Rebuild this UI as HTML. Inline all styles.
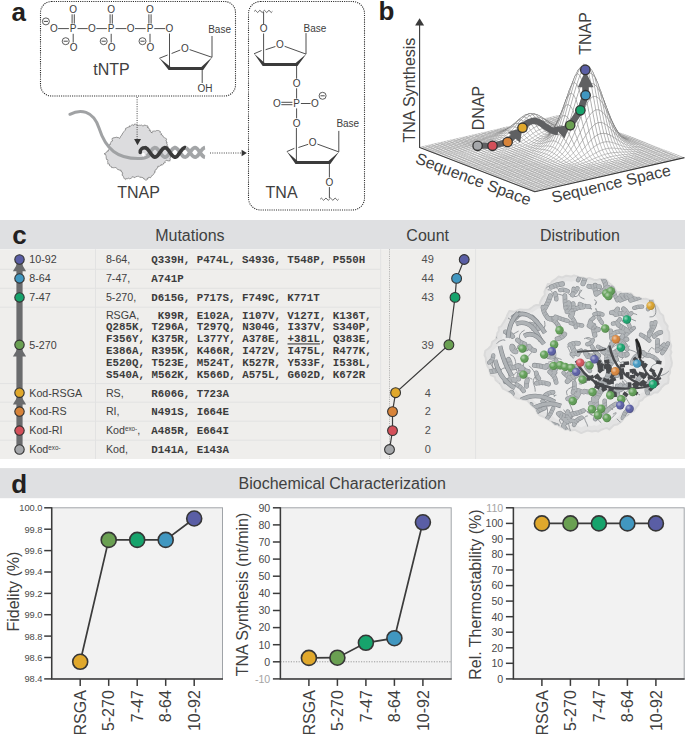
<!DOCTYPE html><html><head><meta charset="utf-8"><style>html,body{margin:0;padding:0;background:#fff;width:685px;height:734px;overflow:hidden}svg{display:block}text{font-family:"Liberation Sans",sans-serif}</style></head><body><svg width="685" height="734" viewBox="0 0 685 734"><text x="11.5" y="20.6" font-size="26" font-weight="bold" fill="#231f20">a</text>
<rect x="40.5" y="1.5" width="195" height="94.5" rx="11" fill="none" stroke="#2a2a2a" stroke-width="1.1" stroke-dasharray="1.1 1.1"/>
<rect x="248.5" y="1.5" width="116" height="208.5" rx="12" fill="none" stroke="#2a2a2a" stroke-width="1.1" stroke-dasharray="1.1 1.1"/>
<circle cx="45.9" cy="21.4" r="3.5" fill="none" stroke="#404040" stroke-width="0.85"/><line x1="43.80" y1="21.4" x2="48.00" y2="21.4" stroke="#404040" stroke-width="0.95"/>
<text x="53.8" y="32.2" font-size="10" text-anchor="middle" fill="#404040">O</text>
<text x="73.2" y="32.2" font-size="10" text-anchor="middle" fill="#404040">P</text>
<text x="92.0" y="32.2" font-size="10" text-anchor="middle" fill="#404040">O</text>
<text x="111.2" y="32.2" font-size="10" text-anchor="middle" fill="#404040">P</text>
<text x="130.7" y="32.2" font-size="10" text-anchor="middle" fill="#404040">O</text>
<text x="150.0" y="32.2" font-size="10" text-anchor="middle" fill="#404040">P</text>
<text x="169.5" y="32.2" font-size="10" text-anchor="middle" fill="#404040">O</text>
<line x1="58.1" y1="28.6" x2="68.9" y2="28.6" stroke="#3b3b3b" stroke-width="0.9"/>
<line x1="77.5" y1="28.6" x2="87.7" y2="28.6" stroke="#3b3b3b" stroke-width="0.9"/>
<line x1="96.3" y1="28.6" x2="106.9" y2="28.6" stroke="#3b3b3b" stroke-width="0.9"/>
<line x1="115.5" y1="28.6" x2="126.4" y2="28.6" stroke="#3b3b3b" stroke-width="0.9"/>
<line x1="135.0" y1="28.6" x2="145.7" y2="28.6" stroke="#3b3b3b" stroke-width="0.9"/>
<line x1="154.3" y1="28.6" x2="165.2" y2="28.6" stroke="#3b3b3b" stroke-width="0.9"/>
<text x="73.2" y="13.2" font-size="10" text-anchor="middle" fill="#404040">O</text>
<line x1="72.1" y1="14.3" x2="72.1" y2="23.6" stroke="#3b3b3b" stroke-width="0.9"/>
<line x1="74.3" y1="14.3" x2="74.3" y2="23.6" stroke="#3b3b3b" stroke-width="0.9"/>
<line x1="73.2" y1="33.8" x2="73.2" y2="42.6" stroke="#3b3b3b" stroke-width="0.9"/>
<text x="73.60000000000001" y="51.3" font-size="10" text-anchor="middle" fill="#404040">O</text>
<circle cx="65.7" cy="41.2" r="3.5" fill="none" stroke="#404040" stroke-width="0.85"/><line x1="63.60" y1="41.2" x2="67.80" y2="41.2" stroke="#404040" stroke-width="0.95"/>
<text x="111.2" y="13.2" font-size="10" text-anchor="middle" fill="#404040">O</text>
<line x1="110.1" y1="14.3" x2="110.1" y2="23.6" stroke="#3b3b3b" stroke-width="0.9"/>
<line x1="112.3" y1="14.3" x2="112.3" y2="23.6" stroke="#3b3b3b" stroke-width="0.9"/>
<line x1="111.2" y1="33.8" x2="111.2" y2="42.6" stroke="#3b3b3b" stroke-width="0.9"/>
<text x="111.60000000000001" y="51.3" font-size="10" text-anchor="middle" fill="#404040">O</text>
<circle cx="103.7" cy="41.2" r="3.5" fill="none" stroke="#404040" stroke-width="0.85"/><line x1="101.60" y1="41.2" x2="105.80" y2="41.2" stroke="#404040" stroke-width="0.95"/>
<text x="150.0" y="13.2" font-size="10" text-anchor="middle" fill="#404040">O</text>
<line x1="148.9" y1="14.3" x2="148.9" y2="23.6" stroke="#3b3b3b" stroke-width="0.9"/>
<line x1="151.1" y1="14.3" x2="151.1" y2="23.6" stroke="#3b3b3b" stroke-width="0.9"/>
<line x1="150.0" y1="33.8" x2="150.0" y2="42.6" stroke="#3b3b3b" stroke-width="0.9"/>
<text x="150.4" y="51.3" font-size="10" text-anchor="middle" fill="#404040">O</text>
<circle cx="142.5" cy="41.2" r="3.5" fill="none" stroke="#404040" stroke-width="0.85"/><line x1="140.40" y1="41.2" x2="144.60" y2="41.2" stroke="#404040" stroke-width="0.95"/>
<line x1="169.5" y1="33.5" x2="169.5" y2="68" stroke="#3b3b3b" stroke-width="0.9"/>
<line x1="159.3" y1="58.3" x2="167.6" y2="55.0" stroke="#3b3b3b" stroke-width="0.9"/>
<line x1="171.6" y1="53.5" x2="180.3" y2="50.0" stroke="#3b3b3b" stroke-width="0.9"/>
<text x="184.8" y="51.6" font-size="10" text-anchor="middle" fill="#404040">O</text>
<line x1="189.6" y1="49.6" x2="212" y2="57.3" stroke="#3b3b3b" stroke-width="0.9"/>
<path d="M159.3,58.1 L168.6,70 L203.2,70 L212.3,57.1 L201.3,67.1 L170.6,67.1 Z" fill="#3b3b3b"/>
<line x1="212" y1="57.3" x2="212" y2="36" stroke="#3b3b3b" stroke-width="0.9"/>
<text x="208.2" y="32.7" font-size="10" fill="#404040">Base</text>
<line x1="202.2" y1="69" x2="202.2" y2="83" stroke="#3b3b3b" stroke-width="0.9"/>
<text x="197.6" y="92" font-size="10" fill="#404040">OH</text>
<text x="93.3" y="75" font-size="16" fill="#404040">tNTP</text>
<path d="M254.2,11.4 Q255.34,9.2 256.47,11.4 Q257.61,13.600000000000001 258.75,11.4 Q259.89,9.2 261.02,11.4 Q262.16,13.600000000000001 263.30,11.4 Q264.44,9.2 265.57,11.4 Q266.71,13.600000000000001 267.85,11.4 Q268.99,9.2 270.12,11.4 Q271.26,13.600000000000001 272.40,11.4" fill="none" stroke="#3b3b3b" stroke-width="0.8"/>
<line x1="263.6" y1="12" x2="263.6" y2="24" stroke="#3b3b3b" stroke-width="0.9"/>
<text x="263.6" y="32.4" font-size="10" text-anchor="middle" fill="#404040">O</text>
<line x1="263.6" y1="33.5" x2="263.6" y2="64.1" stroke="#3b3b3b" stroke-width="0.9"/>
<line x1="254.00000000000003" y1="53.8" x2="261.6" y2="50.5" stroke="#3b3b3b" stroke-width="0.9"/>
<line x1="265.6" y1="49.7" x2="275.4" y2="46.5" stroke="#3b3b3b" stroke-width="0.9"/>
<text x="279.8" y="48.3" font-size="10" text-anchor="middle" fill="#404040">O</text>
<line x1="284.6" y1="46.3" x2="306.0" y2="54.099999999999994" stroke="#3b3b3b" stroke-width="0.9"/>
<path d="M254.00000000000003,53.6 L262.7,66.1 L297.5,66.1 L306.3,53.9 L295.7,63.1 L264.7,63.1 Z" fill="#3b3b3b"/>
<line x1="306.0" y1="54.099999999999994" x2="306.0" y2="33.099999999999994" stroke="#3b3b3b" stroke-width="0.9"/>
<text x="303.6" y="32.1" font-size="10" fill="#404040">Base</text>
<line x1="296.6" y1="65" x2="296.6" y2="78.7" stroke="#3b3b3b" stroke-width="0.9"/>
<text x="296.6" y="87.1" font-size="10" text-anchor="middle" fill="#404040">O</text>
<line x1="296.6" y1="88.3" x2="296.6" y2="98.6" stroke="#3b3b3b" stroke-width="0.9"/>
<text x="296.6" y="107.1" font-size="10" text-anchor="middle" fill="#404040">P</text>
<text x="277.0" y="107.1" font-size="10" text-anchor="middle" fill="#404040">O</text>
<line x1="281.3" y1="102.3" x2="292.4" y2="102.3" stroke="#3b3b3b" stroke-width="0.9"/><line x1="281.3" y1="104.7" x2="292.4" y2="104.7" stroke="#3b3b3b" stroke-width="0.9"/>
<line x1="300.9" y1="103.5" x2="310.6" y2="103.5" stroke="#3b3b3b" stroke-width="0.9"/>
<text x="315.0" y="107.1" font-size="10" text-anchor="middle" fill="#404040">O</text>
<circle cx="322.6" cy="95.8" r="3.5" fill="none" stroke="#404040" stroke-width="0.85"/><line x1="320.50" y1="95.8" x2="324.70" y2="95.8" stroke="#404040" stroke-width="0.95"/>
<line x1="296.6" y1="108.4" x2="296.6" y2="118.3" stroke="#3b3b3b" stroke-width="0.9"/>
<text x="296.6" y="126.7" font-size="10" text-anchor="middle" fill="#404040">O</text>
<line x1="296.4" y1="128" x2="296.4" y2="161.9" stroke="#3b3b3b" stroke-width="0.9"/>
<line x1="286.79999999999995" y1="151.6" x2="294.4" y2="148.3" stroke="#3b3b3b" stroke-width="0.9"/>
<line x1="298.4" y1="147.5" x2="308.2" y2="144.3" stroke="#3b3b3b" stroke-width="0.9"/>
<text x="312.59999999999997" y="146.1" font-size="10" text-anchor="middle" fill="#404040">O</text>
<line x1="317.4" y1="144.1" x2="338.79999999999995" y2="151.9" stroke="#3b3b3b" stroke-width="0.9"/>
<path d="M286.79999999999995,151.4 L295.5,163.9 L330.3,163.9 L339.1,151.7 L328.5,160.9 L297.5,160.9 Z" fill="#3b3b3b"/>
<line x1="338.79999999999995" y1="151.9" x2="338.79999999999995" y2="130.9" stroke="#3b3b3b" stroke-width="0.9"/>
<text x="336.4" y="126.7" font-size="10" fill="#404040">Base</text>
<line x1="329.4" y1="163" x2="329.4" y2="177.5" stroke="#3b3b3b" stroke-width="0.9"/>
<text x="329.4" y="185.9" font-size="10" text-anchor="middle" fill="#404040">O</text>
<line x1="329.4" y1="187.1" x2="329.4" y2="198" stroke="#3b3b3b" stroke-width="0.9"/>
<path d="M320.2,199.2 Q321.35,197.0 322.50,199.2 Q323.65,201.39999999999998 324.80,199.2 Q325.95,197.0 327.10,199.2 Q328.25,201.39999999999998 329.40,199.2 Q330.55,197.0 331.70,199.2 Q332.85,201.39999999999998 334.00,199.2 Q335.15,197.0 336.30,199.2 Q337.45,201.39999999999998 338.60,199.2" fill="none" stroke="#3b3b3b" stroke-width="0.8"/>
<text x="265.6" y="197.5" font-size="16" fill="#404040">TNA</text>
<path d="M125.6,128.3 L127.2,127.7 L127.5,127.5 L127.9,127.0 L129.4,127.0 L129.5,125.8 L130.4,126.2 L132.2,124.6 L133.5,125.6 L133.9,125.1 L134.1,124.2 L135.6,124.2 L136.0,124.5 L136.7,124.8 L138.2,125.4 L139.3,125.2 L140.3,125.4 L141.2,124.9 L143.0,126.1 L143.7,125.8 L143.9,125.2 L144.8,125.1 L146.5,125.7 L147.6,125.8 L148.3,127.5 L147.4,127.4 L149.3,128.8 L150.0,129.4 L149.2,130.5 L150.8,130.7 L150.3,131.6 L152.2,133.0 L151.8,131.9 L152.7,131.2 L154.6,131.0 L155.2,131.1 L155.5,131.1 L156.3,130.6 L157.3,130.5 L158.3,130.5 L160.4,131.5 L159.9,132.4 L160.2,132.5 L161.6,133.7 L160.9,135.0 L161.5,134.7 L162.8,135.6 L162.9,135.8 L163.4,137.1 L164.5,137.7 L165.5,138.0 L166.6,139.1 L166.2,140.6 L165.9,140.6 L167.2,142.6 L166.4,142.6 L167.4,144.8 L166.8,145.9 L168.2,146.5 L167.8,146.8 L167.6,149.1 L168.3,149.8 L168.7,151.0 L169.6,151.2 L169.4,152.8 L169.5,152.9 L170.6,154.8 L171.0,154.9 L171.8,155.7 L170.2,156.6 L170.6,157.2 L170.0,158.5 L170.3,159.1 L169.8,161.1 L169.6,160.9 L168.1,160.9 L166.2,160.2 L165.0,161.6 L165.3,162.6 L163.5,163.1 L163.5,164.1 L162.3,164.9 L161.0,164.6 L161.1,165.5 L160.2,165.6 L159.4,166.3 L157.8,166.3 L158.1,167.3 L156.9,168.0 L157.1,168.5 L156.3,169.0 L155.8,170.1 L154.5,170.9 L155.4,172.1 L154.6,172.2 L154.2,173.3 L153.4,174.6 L152.4,175.3 L151.9,176.0 L151.7,175.9 L151.2,176.8 L150.3,177.9 L148.9,177.0 L148.2,178.5 L147.2,178.2 L147.4,179.5 L145.9,180.3 L144.9,179.5 L143.9,178.8 L144.0,179.1 L143.3,177.9 L142.0,177.4 L140.5,177.2 L140.7,177.3 L139.7,177.1 L138.1,176.1 L137.4,176.4 L136.1,176.7 L135.8,177.0 L134.4,177.7 L134.5,177.3 L132.2,176.8 L132.4,177.1 L131.2,178.2 L129.7,178.8 L128.3,178.1 L128.0,178.2 L127.6,178.8 L125.6,178.7 L125.4,179.6 L124.7,179.0 L124.2,178.5 L123.3,176.4 L122.8,175.5 L121.9,175.1 L122.8,173.7 L121.9,173.1 L122.4,172.4 L122.1,171.9 L121.0,171.5 L120.9,169.9 L120.2,170.4 L118.2,169.5 L118.2,169.8 L117.0,168.8 L117.0,168.6 L116.2,167.9 L114.9,167.3 L114.1,168.0 L113.1,167.6 L111.6,167.6 L112.0,167.1 L110.5,166.2 L109.5,165.7 L109.5,164.2 L107.6,163.7 L108.0,163.3 L107.6,161.3 L107.9,160.4 L107.6,159.6 L106.6,159.6 L106.1,157.8 L106.2,157.8 L106.2,156.8 L105.9,155.6 L105.5,154.2 L104.0,153.9 L104.8,153.5 L106.1,152.5 L107.1,151.9 L107.1,150.9 L108.6,150.9 L108.4,150.1 L109.6,148.5 L109.2,147.0 L109.2,146.3 L109.5,144.5 L110.5,144.4 L110.1,144.0 L110.7,142.7 L111.4,141.3 L111.6,141.0 L112.7,140.9 L112.0,139.3 L112.2,138.3 L113.6,138.1 L114.0,137.3 L114.4,137.8 L116.4,137.2 L117.1,137.1 L117.1,137.5 L118.8,137.7 L119.2,138.2 L119.7,138.4 L120.3,137.1 L121.0,135.7 L121.9,135.1 L122.2,134.1 L122.9,132.8 L122.9,132.7 L124.0,131.7 L124.8,130.9 L125.3,129.5 L125.6,129.5Z" fill="#dcdcde" stroke="#555" stroke-width="0.55" stroke-linejoin="round"/><path d="M69.9,114.3 C80,109 93,110 99,128 C106,150 118,158.5 138,158.6 C144,158.6 147,157.5 149,156" fill="none" stroke="#a0a2a4" stroke-width="3" stroke-linecap="round"/><path d="M147.0,156.2 L147.7,155.5 L148.4,154.6 L149.1,153.7 L149.8,152.7 L150.5,151.6 L151.2,150.6 L152.0,149.7 L152.7,148.9 L153.4,148.3 L154.1,147.9 L154.8,147.7 L155.5,147.8 L156.2,148.0 L156.9,148.5 L157.6,149.2 L158.3,150.0 L159.0,151.0 L159.7,152.0 L160.4,153.0 L161.1,154.1 L161.9,155.0 L162.6,155.8 L163.3,156.4 L164.0,156.9 L164.7,157.1 L165.4,157.1 L166.1,156.8 L166.8,156.4 L167.5,155.7 L168.2,154.9 L168.9,154.0 L169.6,152.9 L170.3,151.9 L171.0,150.9 L171.8,149.9 L172.5,149.1 L173.2,148.5 L173.9,148.0 L174.6,147.7 L175.3,147.7 L176.0,147.9 L176.7,148.4 L177.4,149.0 L178.1,149.8 L178.8,150.7 L179.5,151.7 L180.2,152.8 L181.0,153.8 L181.7,154.7 L182.4,155.6 L183.1,156.3 L183.8,156.8 L184.5,157.0 L185.2,157.1 L185.9,156.9 L186.6,156.5 L187.3,155.9 L188.0,155.1 L188.7,154.2 L189.4,153.2 L190.1,152.2 L190.9,151.2 L191.6,150.2 L192.3,149.3 L193.0,148.6 L193.7,148.1 L194.4,147.8 L195.1,147.7 L195.8,147.8 L196.5,148.2 L197.2,148.8 L197.9,149.6 L198.6,150.4 L199.3,151.4 L200.0,152.5 L200.8,153.5 L201.5,154.5 L202.2,155.4 L202.9,156.1 L203.6,156.6 L204.3,157.0 L205.0,157.1 " fill="none" stroke="#a3a5a7" stroke-width="3.7" stroke-linecap="butt"/><path d="M140.2,152.5 C140,149 142.5,147.6 145,147.7" fill="none" stroke="#3a3a3a" stroke-width="3.5" stroke-linecap="round"/><path d="M145.0,147.7 L145.7,147.8 L146.4,148.2 L147.1,148.7 L147.8,149.4 L148.5,150.3 L149.2,151.3 L149.9,152.3 L150.7,153.4 L151.4,154.4 L152.1,155.2 L152.8,156.0 L153.5,156.6 L154.2,156.9 L154.9,157.1 L155.6,157.0 L156.3,156.7 L157.0,156.2 L157.7,155.5 L158.4,154.6 L159.1,153.7 L159.8,152.6 L160.6,151.6 L161.3,150.6 L162.0,149.7 L162.7,148.9 L163.4,148.3 L164.1,147.9 L164.8,147.7 L165.5,147.8 L166.2,148.0 L166.9,148.5 L167.6,149.2 L168.3,150.0 L169.0,151.0 L169.7,152.0 L170.4,153.1 L171.2,154.1 L171.9,155.0 L172.6,155.8 L173.3,156.4 L174.0,156.9 L174.7,157.1 L175.4,157.1 L176.1,156.8 L176.8,156.4 L177.5,155.7 L178.2,154.9 L178.9,153.9 L179.6,152.9 L180.3,151.9 L181.1,150.9 L181.8,149.9 L182.5,149.1 L183.2,148.5 L183.9,148.0 L184.6,147.7 L185.3,147.7 L186.0,147.9 " fill="none" stroke="#3a3a3a" stroke-width="3.7" stroke-linecap="butt"/><path d="M186.0,147.9 L186.7,148.4 L187.4,149.0 L188.1,149.8 L188.8,150.7 L189.5,151.7 L190.2,152.7 L190.9,153.7 L191.6,154.7 L192.3,155.5 L193.0,156.2 L193.7,156.7 L194.4,157.0 L195.1,157.1 L195.9,156.9 L196.6,156.5 L197.3,156.0 L198.0,155.2 L198.7,154.3 L199.4,153.3 L200.1,152.3 L200.8,151.3 L201.5,150.3 L202.2,149.4 L202.9,148.7 L203.6,148.2 L204.3,147.8 L205.0,147.7 " fill="none" stroke="#a3a5a7" stroke-width="3.7" stroke-linecap="butt"/><ellipse cx="143.4" cy="154.6" rx="1.5" ry="1.8" fill="#fff"/>
<text x="117.2" y="197.5" font-size="16" fill="#404040">TNAP</text>
<line x1="137.1" y1="97" x2="137.1" y2="140" stroke="#333" stroke-width="0.9" stroke-dasharray="1 1.3"/>
<path d="M134.1,139 L141,139 L137.5,145.2 Z" fill="#333"/>
<line x1="210" y1="153" x2="242" y2="153" stroke="#333" stroke-width="0.9" stroke-dasharray="1 1.3"/>
<path d="M241.6,149.8 L241.6,156.2 L246.8,153 Z" fill="#333"/>
<text x="378.5" y="20.4" font-size="26" font-weight="bold" fill="#231f20">b</text>
<g fill="#fff" stroke="#7a7a7a" stroke-width="0.32" stroke-linejoin="bevel"><path d="M567.7,114.9L565.3,114.0L568.4,113.3L570.8,114.2Z"/><path d="M570.1,115.9L567.7,114.9L570.8,114.2L573.2,115.1Z"/><path d="M564.6,115.6L562.2,114.7L565.3,114.0L567.7,114.9Z"/><path d="M572.5,116.8L570.1,115.9L573.2,115.1L575.6,116.1Z"/><path d="M567.0,116.6L564.6,115.6L567.7,114.9L570.1,115.9Z"/><path d="M561.5,116.4L559.1,115.4L562.2,114.7L564.6,115.6Z"/><path d="M574.9,117.7L572.5,116.8L575.6,116.1L578.0,117.0Z"/><path d="M569.4,117.5L567.0,116.6L570.1,115.9L572.5,116.8Z"/><path d="M563.9,117.3L561.5,116.4L564.6,115.6L567.0,116.6Z"/><path d="M558.4,117.1L556.0,116.1L559.1,115.4L561.5,116.4Z"/><path d="M577.3,118.6L574.9,117.7L578.0,117.0L580.4,117.9Z"/><path d="M571.8,118.4L569.4,117.5L572.5,116.8L574.9,117.7Z"/><path d="M566.3,118.2L563.9,117.3L567.0,116.6L569.4,117.5Z"/><path d="M560.8,118.0L558.4,117.1L561.5,116.4L563.9,117.3Z"/><path d="M555.3,117.8L552.9,116.8L556.0,116.1L558.4,117.1Z"/><path d="M579.7,119.6L577.3,118.6L580.4,117.9L582.9,118.8Z"/><path d="M574.2,119.3L571.8,118.4L574.9,117.7L577.3,118.6Z"/><path d="M568.7,119.1L566.3,118.2L569.4,117.5L571.8,118.4Z"/><path d="M563.2,118.9L560.8,118.0L563.9,117.3L566.3,118.2Z"/><path d="M557.7,118.7L555.3,117.8L558.4,117.1L560.8,118.0Z"/><path d="M552.2,118.5L549.8,117.6L552.9,116.8L555.3,117.8Z"/><path d="M582.2,120.5L579.7,119.6L582.9,118.8L585.3,119.8Z"/><path d="M576.6,120.3L574.2,119.3L577.3,118.6L579.7,119.6Z"/><path d="M571.1,120.0L568.7,119.1L571.8,118.4L574.2,119.3Z"/><path d="M565.6,119.8L563.2,118.9L566.3,118.2L568.7,119.1Z"/><path d="M560.1,119.6L557.7,118.7L560.8,118.0L563.2,118.9Z"/><path d="M554.6,119.4L552.2,118.5L555.3,117.8L557.7,118.7Z"/><path d="M549.1,119.2L546.6,118.3L549.8,117.6L552.2,118.5Z"/><path d="M584.6,121.4L582.2,120.5L585.3,119.8L587.7,120.7Z"/><path d="M579.0,121.2L576.6,120.3L579.7,119.6L582.2,120.5Z"/><path d="M573.5,121.0L571.1,120.0L574.2,119.3L576.6,120.3Z"/><path d="M568.0,120.7L565.6,119.8L568.7,119.1L571.1,120.0Z"/><path d="M562.5,120.5L560.1,119.6L563.2,118.9L565.6,119.8Z"/><path d="M557.0,120.3L554.6,119.4L557.7,118.7L560.1,119.6Z"/><path d="M551.5,120.1L549.1,119.2L552.2,118.5L554.6,119.4Z"/><path d="M545.9,119.9L543.5,119.0L546.6,118.3L549.1,119.2Z"/><path d="M587.0,122.3L584.6,121.4L587.7,120.7L590.1,121.6Z"/><path d="M581.5,122.1L579.0,121.2L582.2,120.5L584.6,121.4Z"/><path d="M575.9,121.9L573.5,121.0L576.6,120.3L579.0,121.2Z"/><path d="M570.4,121.7L568.0,120.7L571.1,120.0L573.5,121.0Z"/><path d="M564.9,121.4L562.5,120.5L565.6,119.8L568.0,120.7Z"/><path d="M559.4,121.2L557.0,120.3L560.1,119.6L562.5,120.5Z"/><path d="M553.9,121.0L551.5,120.1L554.6,119.4L557.0,120.3Z"/><path d="M548.4,120.8L545.9,119.9L549.1,119.2L551.5,120.1Z"/><path d="M542.8,120.6L540.4,119.7L543.5,119.0L545.9,119.9Z"/><path d="M589.4,123.2L587.0,122.3L590.1,121.6L592.5,122.5Z"/><path d="M583.9,123.0L581.5,122.1L584.6,121.4L587.0,122.3Z"/><path d="M578.3,122.8L575.9,121.9L579.0,121.2L581.5,122.1Z"/><path d="M572.8,122.6L570.4,121.7L573.5,121.0L575.9,121.9Z"/><path d="M567.3,122.3L564.9,121.4L568.0,120.7L570.4,121.7Z"/><path d="M561.8,122.1L559.4,121.2L562.5,120.5L564.9,121.4Z"/><path d="M556.3,121.9L553.9,121.0L557.0,120.3L559.4,121.2Z"/><path d="M550.8,121.7L548.4,120.8L551.5,120.1L553.9,121.0Z"/><path d="M545.2,121.5L542.8,120.6L545.9,119.9L548.4,120.8Z"/><path d="M539.7,121.3L537.3,120.4L540.4,119.7L542.8,120.6Z"/><path d="M591.8,124.2L589.4,123.2L592.5,122.5L594.9,123.5Z"/><path d="M586.3,123.9L583.9,123.0L587.0,122.3L589.4,123.2Z"/><path d="M580.8,123.7L578.3,122.8L581.5,122.1L583.9,123.0Z"/><path d="M575.2,123.5L572.8,122.6L575.9,121.9L578.3,122.8Z"/><path d="M569.7,123.2L567.3,122.3L570.4,121.7L572.8,122.6Z"/><path d="M564.2,123.0L561.8,122.1L564.9,121.4L567.3,122.3Z"/><path d="M558.7,122.8L556.3,121.9L559.4,121.2L561.8,122.1Z"/><path d="M553.2,122.5L550.8,121.7L553.9,121.0L556.3,121.9Z"/><path d="M547.6,122.3L545.2,121.5L548.4,120.8L550.8,121.7Z"/><path d="M542.1,122.1L539.7,121.3L542.8,120.6L545.2,121.5Z"/><path d="M536.6,122.0L534.2,121.1L537.3,120.4L539.7,121.3Z"/><path d="M594.2,125.1L591.8,124.2L594.9,123.5L597.3,124.4Z"/><path d="M588.7,124.8L586.3,123.9L589.4,123.2L591.8,124.2Z"/><path d="M583.2,124.6L580.8,123.7L583.9,123.0L586.3,123.9Z"/><path d="M577.6,124.4L575.2,123.5L578.3,122.8L580.8,123.7Z"/><path d="M572.1,124.1L569.7,123.2L572.8,122.6L575.2,123.5Z"/><path d="M566.6,123.9L564.2,123.0L567.3,122.3L569.7,123.2Z"/><path d="M561.1,123.6L558.7,122.8L561.8,122.1L564.2,123.0Z"/><path d="M555.6,123.4L553.2,122.5L556.3,121.9L558.7,122.8Z"/><path d="M550.1,123.2L547.6,122.3L550.8,121.7L553.2,122.5Z"/><path d="M544.5,123.0L542.1,122.1L545.2,121.5L547.6,122.3Z"/><path d="M539.0,122.8L536.6,122.0L539.7,121.3L542.1,122.1Z"/><path d="M533.5,122.6L531.1,121.8L534.2,121.1L536.6,122.0Z"/><path d="M596.6,126.0L594.2,125.1L597.3,124.4L599.7,125.3Z"/><path d="M591.1,125.8L588.7,124.8L591.8,124.2L594.2,125.1Z"/><path d="M585.6,125.5L583.2,124.6L586.3,123.9L588.7,124.8Z"/><path d="M580.0,125.3L577.6,124.4L580.8,123.7L583.2,124.6Z"/><path d="M574.5,125.0L572.1,124.1L575.2,123.5L577.6,124.4Z"/><path d="M569.0,124.8L566.6,123.9L569.7,123.2L572.1,124.1Z"/><path d="M563.5,124.5L561.1,123.6L564.2,123.0L566.6,123.9Z"/><path d="M558.0,124.2L555.6,123.4L558.7,122.8L561.1,123.6Z"/><path d="M552.5,124.0L550.1,123.2L553.2,122.5L555.6,123.4Z"/><path d="M547.0,123.7L544.5,123.0L547.6,122.3L550.1,123.2Z"/><path d="M541.4,123.6L539.0,122.8L542.1,122.1L544.5,123.0Z"/><path d="M535.9,123.4L533.5,122.6L536.6,122.0L539.0,122.8Z"/><path d="M530.4,123.3L528.0,122.4L531.1,121.8L533.5,122.6Z"/><path d="M599.0,126.9L596.6,126.0L599.7,125.3L602.1,126.2Z"/><path d="M593.5,126.7L591.1,125.8L594.2,125.1L596.6,126.0Z"/><path d="M588.0,126.4L585.6,125.5L588.7,124.8L591.1,125.8Z"/><path d="M582.5,126.2L580.0,125.3L583.2,124.6L585.6,125.5Z"/><path d="M576.9,125.9L574.5,125.0L577.6,124.4L580.0,125.3Z"/><path d="M571.4,125.6L569.0,124.8L572.1,124.1L574.5,125.0Z"/><path d="M565.9,125.3L563.5,124.5L566.6,123.9L569.0,124.8Z"/><path d="M560.4,125.0L558.0,124.2L561.1,123.6L563.5,124.5Z"/><path d="M554.9,124.7L552.5,124.0L555.6,123.4L558.0,124.2Z"/><path d="M549.4,124.5L547.0,123.7L550.1,123.2L552.5,124.0Z"/><path d="M543.8,124.3L541.4,123.6L544.5,123.0L547.0,123.7Z"/><path d="M538.3,124.1L535.9,123.4L539.0,122.8L541.4,123.6Z"/><path d="M532.8,124.0L530.4,123.3L533.5,122.6L535.9,123.4Z"/><path d="M527.3,123.9L524.9,123.1L528.0,122.4L530.4,123.3Z"/><path d="M601.4,127.8L599.0,126.9L602.1,126.2L604.5,127.1Z"/><path d="M595.9,127.6L593.5,126.7L596.6,126.0L599.0,126.9Z"/><path d="M590.4,127.3L588.0,126.4L591.1,125.8L593.5,126.7Z"/><path d="M584.9,127.1L582.5,126.2L585.6,125.5L588.0,126.4Z"/><path d="M579.4,126.8L576.9,125.9L580.0,125.3L582.5,126.2Z"/><path d="M573.8,126.5L571.4,125.6L574.5,125.0L576.9,125.9Z"/><path d="M568.3,126.2L565.9,125.3L569.0,124.8L571.4,125.6Z"/><path d="M562.8,125.8L560.4,125.0L563.5,124.5L565.9,125.3Z"/><path d="M557.3,125.4L554.9,124.7L558.0,124.2L560.4,125.0Z"/><path d="M551.8,125.1L549.4,124.5L552.5,124.0L554.9,124.7Z"/><path d="M546.2,124.8L543.8,124.3L547.0,123.7L549.4,124.5Z"/><path d="M540.7,124.7L538.3,124.1L541.4,123.6L543.8,124.3Z"/><path d="M535.2,124.6L532.8,124.0L535.9,123.4L538.3,124.1Z"/><path d="M529.7,124.6L527.3,123.9L530.4,123.3L532.8,124.0Z"/><path d="M524.2,124.6L521.8,123.8L524.9,123.1L527.3,123.9Z"/><path d="M603.8,128.7L601.4,127.8L604.5,127.1L606.9,128.1Z"/><path d="M598.3,128.5L595.9,127.6L599.0,126.9L601.4,127.8Z"/><path d="M592.8,128.2L590.4,127.3L593.5,126.7L595.9,127.6Z"/><path d="M587.3,128.0L584.9,127.1L588.0,126.4L590.4,127.3Z"/><path d="M581.8,127.7L579.4,126.8L582.5,126.2L584.9,127.1Z"/><path d="M576.2,127.4L573.8,126.5L576.9,125.9L579.4,126.8Z"/><path d="M570.7,127.0L568.3,126.2L571.4,125.6L573.8,126.5Z"/><path d="M565.2,126.6L562.8,125.8L565.9,125.3L568.3,126.2Z"/><path d="M559.7,126.1L557.3,125.4L560.4,125.0L562.8,125.8Z"/><path d="M554.2,125.7L551.8,125.1L554.9,124.7L557.3,125.4Z"/><path d="M548.7,125.3L546.2,124.8L549.4,124.5L551.8,125.1Z"/><path d="M543.1,125.1L540.7,124.7L543.8,124.3L546.2,124.8Z"/><path d="M537.6,125.0L535.2,124.6L538.3,124.1L540.7,124.7Z"/><path d="M532.1,125.1L529.7,124.6L532.8,124.0L535.2,124.6Z"/><path d="M526.6,125.1L524.2,124.6L527.3,123.9L529.7,124.6Z"/><path d="M521.1,125.2L518.7,124.5L521.8,123.8L524.2,124.6Z"/><path d="M606.2,129.6L603.8,128.7L606.9,128.1L609.3,129.0Z"/><path d="M600.7,129.4L598.3,128.5L601.4,127.8L603.8,128.7Z"/><path d="M595.2,129.1L592.8,128.2L595.9,127.6L598.3,128.5Z"/><path d="M589.7,128.8L587.3,128.0L590.4,127.3L592.8,128.2Z"/><path d="M584.2,128.6L581.8,127.7L584.9,127.1L587.3,128.0Z"/><path d="M578.6,128.2L576.2,127.4L579.4,126.8L581.8,127.7Z"/><path d="M573.1,127.8L570.7,127.0L573.8,126.5L576.2,127.4Z"/><path d="M567.6,127.4L565.2,126.6L568.3,126.2L570.7,127.0Z"/><path d="M562.1,126.9L559.7,126.1L562.8,125.8L565.2,126.6Z"/><path d="M556.6,126.3L554.2,125.7L557.3,125.4L559.7,126.1Z"/><path d="M551.1,125.7L548.7,125.3L551.8,125.1L554.2,125.7Z"/><path d="M545.5,125.3L543.1,125.1L546.2,124.8L548.7,125.3Z"/><path d="M540.0,125.2L537.6,125.0L540.7,124.7L543.1,125.1Z"/><path d="M534.5,125.3L532.1,125.1L535.2,124.6L537.6,125.0Z"/><path d="M529.0,125.5L526.6,125.1L529.7,124.6L532.1,125.1Z"/><path d="M523.5,125.7L521.1,125.2L524.2,124.6L526.6,125.1Z"/><path d="M518.0,125.8L515.6,125.2L518.7,124.5L521.1,125.2Z"/><path d="M608.6,130.5L606.2,129.6L609.3,129.0L611.8,129.9Z"/><path d="M603.1,130.3L600.7,129.4L603.8,128.7L606.2,129.6Z"/><path d="M597.6,130.0L595.2,129.1L598.3,128.5L600.7,129.4Z"/><path d="M592.1,129.7L589.7,128.8L592.8,128.2L595.2,129.1Z"/><path d="M586.6,129.4L584.2,128.6L587.3,128.0L589.7,128.8Z"/><path d="M581.1,129.1L578.6,128.2L581.8,127.7L584.2,128.6Z"/><path d="M575.5,128.7L573.1,127.8L576.2,127.4L578.6,128.2Z"/><path d="M570.0,128.2L567.6,127.4L570.7,127.0L573.1,127.8Z"/><path d="M564.5,127.6L562.1,126.9L565.2,126.6L567.6,127.4Z"/><path d="M559.0,126.9L556.6,126.3L559.7,126.1L562.1,126.9Z"/><path d="M553.5,126.1L551.1,125.7L554.2,125.7L556.6,126.3Z"/><path d="M548.0,125.5L545.5,125.3L548.7,125.3L551.1,125.7Z"/><path d="M542.4,125.1L540.0,125.2L543.1,125.1L545.5,125.3Z"/><path d="M536.9,125.1L534.5,125.3L537.6,125.0L540.0,125.2Z"/><path d="M531.4,125.4L529.0,125.5L532.1,125.1L534.5,125.3Z"/><path d="M525.9,125.8L523.5,125.7L526.6,125.1L529.0,125.5Z"/><path d="M520.4,126.2L518.0,125.8L521.1,125.2L523.5,125.7Z"/><path d="M514.9,126.5L512.5,125.8L515.6,125.2L518.0,125.8Z"/><path d="M611.0,131.4L608.6,130.5L611.8,129.9L614.2,130.8Z"/><path d="M605.5,131.2L603.1,130.3L606.2,129.6L608.6,130.5Z"/><path d="M600.0,130.9L597.6,130.0L600.7,129.4L603.1,130.3Z"/><path d="M594.5,130.6L592.1,129.7L595.2,129.1L597.6,130.0Z"/><path d="M589.0,130.3L586.6,129.4L589.7,128.8L592.1,129.7Z"/><path d="M583.5,129.9L581.1,129.1L584.2,128.6L586.6,129.4Z"/><path d="M578.0,129.5L575.5,128.7L578.6,128.2L581.1,129.1Z"/><path d="M572.4,129.0L570.0,128.2L573.1,127.8L575.5,128.7Z"/><path d="M566.9,128.4L564.5,127.6L567.6,127.4L570.0,128.2Z"/><path d="M561.4,127.6L559.0,126.9L562.1,126.9L564.5,127.6Z"/><path d="M555.9,126.6L553.5,126.1L556.6,126.3L559.0,126.9Z"/><path d="M550.4,125.6L548.0,125.5L551.1,125.7L553.5,126.1Z"/><path d="M544.9,124.9L542.4,125.1L545.5,125.3L548.0,125.5Z"/><path d="M539.3,124.7L536.9,125.1L540.0,125.2L542.4,125.1Z"/><path d="M533.8,124.9L531.4,125.4L534.5,125.3L536.9,125.1Z"/><path d="M528.3,125.5L525.9,125.8L529.0,125.5L531.4,125.4Z"/><path d="M522.8,126.2L520.4,126.2L523.5,125.7L525.9,125.8Z"/><path d="M517.3,126.8L514.9,126.5L518.0,125.8L520.4,126.2Z"/><path d="M511.8,127.1L509.3,126.5L512.5,125.8L514.9,126.5Z"/><path d="M613.5,132.3L611.0,131.4L614.2,130.8L616.6,131.7Z"/><path d="M607.9,132.0L605.5,131.2L608.6,130.5L611.0,131.4Z"/><path d="M602.4,131.7L600.0,130.9L603.1,130.3L605.5,131.2Z"/><path d="M596.9,131.4L594.5,130.6L597.6,130.0L600.0,130.9Z"/><path d="M591.4,131.1L589.0,130.3L592.1,129.7L594.5,130.6Z"/><path d="M585.9,130.8L583.5,129.9L586.6,129.4L589.0,130.3Z"/><path d="M580.4,130.4L578.0,129.5L581.1,129.1L583.5,129.9Z"/><path d="M574.8,129.9L572.4,129.0L575.5,128.7L578.0,129.5Z"/><path d="M569.3,129.2L566.9,128.4L570.0,128.2L572.4,129.0Z"/><path d="M563.8,128.3L561.4,127.6L564.5,127.6L566.9,128.4Z"/><path d="M558.3,127.2L555.9,126.6L559.0,126.9L561.4,127.6Z"/><path d="M552.8,125.9L550.4,125.6L553.5,126.1L555.9,126.6Z"/><path d="M547.3,124.7L544.9,124.9L548.0,125.5L550.4,125.6Z"/><path d="M541.7,124.0L539.3,124.7L542.4,125.1L544.9,124.9Z"/><path d="M536.2,124.0L533.8,124.9L536.9,125.1L539.3,124.7Z"/><path d="M530.7,124.7L528.3,125.5L531.4,125.4L533.8,124.9Z"/><path d="M525.2,125.7L522.8,126.2L525.9,125.8L528.3,125.5Z"/><path d="M519.7,126.7L517.3,126.8L520.4,126.2L522.8,126.2Z"/><path d="M514.2,127.4L511.8,127.1L514.9,126.5L517.3,126.8Z"/><path d="M508.6,127.8L506.2,127.2L509.3,126.5L511.8,127.1Z"/><path d="M615.9,133.2L613.5,132.3L616.6,131.7L619.0,132.6Z"/><path d="M610.4,132.9L607.9,132.0L611.0,131.4L613.5,132.3Z"/><path d="M604.8,132.5L602.4,131.7L605.5,131.2L607.9,132.0Z"/><path d="M599.3,132.2L596.9,131.4L600.0,130.9L602.4,131.7Z"/><path d="M593.8,131.9L591.4,131.1L594.5,130.6L596.9,131.4Z"/><path d="M588.3,131.5L585.9,130.8L589.0,130.3L591.4,131.1Z"/><path d="M582.8,131.2L580.4,130.4L583.5,129.9L585.9,130.8Z"/><path d="M577.2,130.7L574.8,129.9L578.0,129.5L580.4,130.4Z"/><path d="M571.7,130.0L569.3,129.2L572.4,129.0L574.8,129.9Z"/><path d="M566.2,129.1L563.8,128.3L566.9,128.4L569.3,129.2Z"/><path d="M560.7,127.9L558.3,127.2L561.4,127.6L563.8,128.3Z"/><path d="M555.2,126.3L552.8,125.9L555.9,126.6L558.3,127.2Z"/><path d="M549.7,124.7L547.3,124.7L550.4,125.6L552.8,125.9Z"/><path d="M544.1,123.4L541.7,124.0L544.9,124.9L547.3,124.7Z"/><path d="M538.6,122.9L536.2,124.0L539.3,124.7L541.7,124.0Z"/><path d="M533.1,123.3L530.7,124.7L533.8,124.9L536.2,124.0Z"/><path d="M527.6,124.4L525.2,125.7L528.3,125.5L530.7,124.7Z"/><path d="M522.1,125.9L519.7,126.7L522.8,126.2L525.2,125.7Z"/><path d="M516.6,127.2L514.2,127.4L517.3,126.8L519.7,126.7Z"/><path d="M511.1,128.1L508.6,127.8L511.8,127.1L514.2,127.4Z"/><path d="M505.5,128.5L503.1,127.9L506.2,127.2L508.6,127.8Z"/><path d="M618.3,134.0L615.9,133.2L619.0,132.6L621.4,133.5Z"/><path d="M612.8,133.7L610.4,132.9L613.5,132.3L615.9,133.2Z"/><path d="M607.2,133.3L604.8,132.5L607.9,132.0L610.4,132.9Z"/><path d="M601.7,132.9L599.3,132.2L602.4,131.7L604.8,132.5Z"/><path d="M596.2,132.6L593.8,131.9L596.9,131.4L599.3,132.2Z"/><path d="M590.7,132.3L588.3,131.5L591.4,131.1L593.8,131.9Z"/><path d="M585.2,131.9L582.8,131.2L585.9,130.8L588.3,131.5Z"/><path d="M579.7,131.4L577.2,130.7L580.4,130.4L582.8,131.2Z"/><path d="M574.1,130.9L571.7,130.0L574.8,129.9L577.2,130.7Z"/><path d="M568.6,130.0L566.2,129.1L569.3,129.2L571.7,130.0Z"/><path d="M563.1,128.8L560.7,127.9L563.8,128.3L566.2,129.1Z"/><path d="M557.6,127.1L555.2,126.3L558.3,127.2L560.7,127.9Z"/><path d="M552.1,125.0L549.7,124.7L552.8,125.9L555.2,126.3Z"/><path d="M546.6,123.1L544.1,123.4L547.3,124.7L549.7,124.7Z"/><path d="M541.0,121.8L538.6,122.9L541.7,124.0L544.1,123.4Z"/><path d="M535.5,121.6L533.1,123.3L536.2,124.0L538.6,122.9Z"/><path d="M530.0,122.6L527.6,124.4L530.7,124.7L533.1,123.3Z"/><path d="M524.5,124.3L522.1,125.9L525.2,125.7L527.6,124.4Z"/><path d="M519.0,126.2L516.6,127.2L519.7,126.7L522.1,125.9Z"/><path d="M513.5,127.8L511.1,128.1L514.2,127.4L516.6,127.2Z"/><path d="M507.9,128.8L505.5,128.5L508.6,127.8L511.1,128.1Z"/><path d="M502.4,129.3L500.0,128.7L503.1,127.9L505.5,128.5Z"/><path d="M620.7,134.8L618.3,134.0L621.4,133.5L623.8,134.3Z"/><path d="M615.2,134.4L612.8,133.7L615.9,133.2L618.3,134.0Z"/><path d="M609.7,134.0L607.2,133.3L610.4,132.9L612.8,133.7Z"/><path d="M604.1,133.6L601.7,132.9L604.8,132.5L607.2,133.3Z"/><path d="M598.6,133.2L596.2,132.6L599.3,132.2L601.7,132.9Z"/><path d="M593.1,132.8L590.7,132.3L593.8,131.9L596.2,132.6Z"/><path d="M587.6,132.5L585.2,131.9L588.3,131.5L590.7,132.3Z"/><path d="M582.1,132.1L579.7,131.4L582.8,131.2L585.2,131.9Z"/><path d="M576.6,131.6L574.1,130.9L577.2,130.7L579.7,131.4Z"/><path d="M571.0,130.9L568.6,130.0L571.7,130.0L574.1,130.9Z"/><path d="M565.5,129.7L563.1,128.8L566.2,129.1L568.6,130.0Z"/><path d="M560.0,128.0L557.6,127.1L560.7,127.9L563.1,128.8Z"/><path d="M554.5,125.8L552.1,125.0L555.2,126.3L557.6,127.1Z"/><path d="M549.0,123.2L546.6,123.1L549.7,124.7L552.1,125.0Z"/><path d="M543.5,121.1L541.0,121.8L544.1,123.4L546.6,123.1Z"/><path d="M537.9,120.0L535.5,121.6L538.6,122.9L541.0,121.8Z"/><path d="M532.4,120.4L530.0,122.6L533.1,123.3L535.5,121.6Z"/><path d="M526.9,122.1L524.5,124.3L527.6,124.4L530.0,122.6Z"/><path d="M521.4,124.5L519.0,126.2L522.1,125.9L524.5,124.3Z"/><path d="M515.9,126.8L513.5,127.8L516.6,127.2L519.0,126.2Z"/><path d="M510.3,128.6L507.9,128.8L511.1,128.1L513.5,127.8Z"/><path d="M504.8,129.6L502.4,129.3L505.5,128.5L507.9,128.8Z"/><path d="M499.3,130.1L496.9,129.4L500.0,128.7L502.4,129.3Z"/><path d="M623.1,135.7L620.7,134.8L623.8,134.3L626.2,135.2Z"/><path d="M617.6,135.2L615.2,134.4L618.3,134.0L620.7,134.8Z"/><path d="M612.1,134.6L609.7,134.0L612.8,133.7L615.2,134.4Z"/><path d="M606.5,134.1L604.1,133.6L607.2,133.3L609.7,134.0Z"/><path d="M601.0,133.7L598.6,133.2L601.7,132.9L604.1,133.6Z"/><path d="M595.5,133.3L593.1,132.8L596.2,132.6L598.6,133.2Z"/><path d="M590.0,132.9L587.6,132.5L590.7,132.3L593.1,132.8Z"/><path d="M584.5,132.6L582.1,132.1L585.2,131.9L587.6,132.5Z"/><path d="M579.0,132.2L576.6,131.6L579.7,131.4L582.1,132.1Z"/><path d="M573.4,131.6L571.0,130.9L574.1,130.9L576.6,131.6Z"/><path d="M567.9,130.6L565.5,129.7L568.6,130.0L571.0,130.9Z"/><path d="M562.4,129.1L560.0,128.0L563.1,128.8L565.5,129.7Z"/><path d="M556.9,126.8L554.5,125.8L557.6,127.1L560.0,128.0Z"/><path d="M551.4,124.0L549.0,123.2L552.1,125.0L554.5,125.8Z"/><path d="M545.9,121.1L543.5,121.1L546.6,123.1L549.0,123.2Z"/><path d="M540.3,118.9L537.9,120.0L541.0,121.8L543.5,121.1Z"/><path d="M534.8,118.3L532.4,120.4L535.5,121.6L537.9,120.0Z"/><path d="M529.3,119.4L526.9,122.1L530.0,122.6L532.4,120.4Z"/><path d="M523.8,122.0L521.4,124.5L524.5,124.3L526.9,122.1Z"/><path d="M518.3,125.0L515.9,126.8L519.0,126.2L521.4,124.5Z"/><path d="M512.8,127.6L510.3,128.6L513.5,127.8L515.9,126.8Z"/><path d="M507.2,129.4L504.8,129.6L507.9,128.8L510.3,128.6Z"/><path d="M501.7,130.4L499.3,130.1L502.4,129.3L504.8,129.6Z"/><path d="M496.2,130.8L493.8,130.2L496.9,129.4L499.3,130.1Z"/><path d="M625.5,136.5L623.1,135.7L626.2,135.2L628.6,136.1Z"/><path d="M620.0,135.9L617.6,135.2L620.7,134.8L623.1,135.7Z"/><path d="M614.5,135.3L612.1,134.6L615.2,134.4L617.6,135.2Z"/><path d="M609.0,134.6L606.5,134.1L609.7,134.0L612.1,134.6Z"/><path d="M603.4,133.9L601.0,133.7L604.1,133.6L606.5,134.1Z"/><path d="M597.9,133.4L595.5,133.3L598.6,133.2L601.0,133.7Z"/><path d="M592.4,133.1L590.0,132.9L593.1,132.8L595.5,133.3Z"/><path d="M586.9,132.8L584.5,132.6L587.6,132.5L590.0,132.9Z"/><path d="M581.4,132.5L579.0,132.2L582.1,132.1L584.5,132.6Z"/><path d="M575.9,132.1L573.4,131.6L576.6,131.6L579.0,132.2Z"/><path d="M570.3,131.4L567.9,130.6L571.0,130.9L573.4,131.6Z"/><path d="M564.8,130.2L562.4,129.1L565.5,129.7L567.9,130.6Z"/><path d="M559.3,128.1L556.9,126.8L560.0,128.0L562.4,129.1Z"/><path d="M553.8,125.3L551.4,124.0L554.5,125.8L556.9,126.8Z"/><path d="M548.3,121.9L545.9,121.1L549.0,123.2L551.4,124.0Z"/><path d="M542.8,118.7L540.3,118.9L543.5,121.1L545.9,121.1Z" stroke="#5e5e5e"/><path d="M537.2,116.8L534.8,118.3L537.9,120.0L540.3,118.9Z" stroke="#5e5e5e"/><path d="M531.7,116.9L529.3,119.4L532.4,120.4L534.8,118.3Z" stroke="#5e5e5e"/><path d="M526.2,119.0L523.8,122.0L526.9,122.1L529.3,119.4Z"/><path d="M520.7,122.3L518.3,125.0L521.4,124.5L523.8,122.0Z"/><path d="M515.2,125.8L512.8,127.6L515.9,126.8L518.3,125.0Z"/><path d="M509.6,128.6L507.2,129.4L510.3,128.6L512.8,127.6Z"/><path d="M504.1,130.4L501.7,130.4L504.8,129.6L507.2,129.4Z"/><path d="M498.6,131.3L496.2,130.8L499.3,130.1L501.7,130.4Z"/><path d="M493.1,131.6L490.7,130.9L493.8,130.2L496.2,130.8Z"/><path d="M627.9,137.4L625.5,136.5L628.6,136.1L631.0,137.0Z"/><path d="M622.4,136.7L620.0,135.9L623.1,135.7L625.5,136.5Z"/><path d="M616.9,135.8L614.5,135.3L617.6,135.2L620.0,135.9Z"/><path d="M611.4,135.0L609.0,134.6L612.1,134.6L614.5,135.3Z"/><path d="M605.8,134.1L603.4,133.9L606.5,134.1L609.0,134.6Z"/><path d="M600.3,133.4L597.9,133.4L601.0,133.7L603.4,133.9Z"/><path d="M594.8,132.9L592.4,133.1L595.5,133.3L597.9,133.4Z"/><path d="M589.3,132.6L586.9,132.8L590.0,132.9L592.4,133.1Z"/><path d="M583.8,132.5L581.4,132.5L584.5,132.6L586.9,132.8Z"/><path d="M578.3,132.3L575.9,132.1L579.0,132.2L581.4,132.5Z"/><path d="M572.7,131.9L570.3,131.4L573.4,131.6L575.9,132.1Z"/><path d="M567.2,131.0L564.8,130.2L567.9,130.6L570.3,131.4Z"/><path d="M561.7,129.4L559.3,128.1L562.4,129.1L564.8,130.2Z"/><path d="M556.2,126.9L553.8,125.3L556.9,126.8L559.3,128.1Z"/><path d="M550.7,123.4L548.3,121.9L551.4,124.0L553.8,125.3Z"/><path d="M545.2,119.5L542.8,118.7L545.9,121.1L548.3,121.9Z" stroke="#5e5e5e"/><path d="M539.6,116.4L537.2,116.8L540.3,118.9L542.8,118.7Z" stroke="#5e5e5e"/><path d="M534.1,115.1L531.7,116.9L534.8,118.3L537.2,116.8Z" stroke="#5e5e5e"/><path d="M528.6,116.2L526.2,119.0L529.3,119.4L531.7,116.9Z" stroke="#5e5e5e"/><path d="M523.1,119.2L520.7,122.3L523.8,122.0L526.2,119.0Z" stroke="#5e5e5e"/><path d="M517.6,123.2L515.2,125.8L518.3,125.0L520.7,122.3Z"/><path d="M512.1,127.0L509.6,128.6L512.8,127.6L515.2,125.8Z"/><path d="M506.5,129.7L504.1,130.4L507.2,129.4L509.6,128.6Z"/><path d="M501.0,131.4L498.6,131.3L501.7,130.4L504.1,130.4Z"/><path d="M495.5,132.1L493.1,131.6L496.2,130.8L498.6,131.3Z"/><path d="M490.0,132.4L487.6,131.6L490.7,130.9L493.1,131.6Z"/><path d="M630.3,138.3L627.9,137.4L631.0,137.0L633.4,137.9Z"/><path d="M624.8,137.5L622.4,136.7L625.5,136.5L627.9,137.4Z"/><path d="M619.3,136.5L616.9,135.8L620.0,135.9L622.4,136.7Z"/><path d="M613.8,135.3L611.4,135.0L614.5,135.3L616.9,135.8Z"/><path d="M608.2,134.1L605.8,134.1L609.0,134.6L611.4,135.0Z"/><path d="M602.7,133.1L600.3,133.4L603.4,133.9L605.8,134.1Z"/><path d="M597.2,132.3L594.8,132.9L597.9,133.4L600.3,133.4Z"/><path d="M591.7,132.0L589.3,132.6L592.4,133.1L594.8,132.9Z"/><path d="M586.2,131.9L583.8,132.5L586.9,132.8L589.3,132.6Z"/><path d="M580.7,131.9L578.3,132.3L581.4,132.5L583.8,132.5Z"/><path d="M575.1,131.9L572.7,131.9L575.9,132.1L578.3,132.3Z"/><path d="M569.6,131.5L567.2,131.0L570.3,131.4L572.7,131.9Z"/><path d="M564.1,130.5L561.7,129.4L564.8,130.2L567.2,131.0Z"/><path d="M558.6,128.5L556.2,126.9L559.3,128.1L561.7,129.4Z"/><path d="M553.1,125.4L550.7,123.4L553.8,125.3L556.2,126.9Z"/><path d="M547.6,121.4L545.2,119.5L548.3,121.9L550.7,123.4Z" stroke="#5e5e5e"/><path d="M542.1,117.3L539.6,116.4L542.8,118.7L545.2,119.5Z" stroke="#5e5e5e"/><path d="M536.5,114.6L534.1,115.1L537.2,116.8L539.6,116.4Z" stroke="#5e5e5e"/><path d="M531.0,114.1L528.6,116.2L531.7,116.9L534.1,115.1Z" stroke="#5e5e5e"/><path d="M525.5,116.3L523.1,119.2L526.2,119.0L528.6,116.2Z" stroke="#5e5e5e"/><path d="M520.0,120.2L517.6,123.2L520.7,122.3L523.1,119.2Z" stroke="#5e5e5e"/><path d="M514.5,124.6L512.1,127.0L515.2,125.8L517.6,123.2Z"/><path d="M509.0,128.4L506.5,129.7L509.6,128.6L512.1,127.0Z"/><path d="M503.4,131.0L501.0,131.4L504.1,130.4L506.5,129.7Z"/><path d="M497.9,132.4L495.5,132.1L498.6,131.3L501.0,131.4Z"/><path d="M492.4,133.0L490.0,132.4L493.1,131.6L495.5,132.1Z"/><path d="M486.9,133.2L484.5,132.4L487.6,131.6L490.0,132.4Z"/><path d="M632.7,139.2L630.3,138.3L633.4,137.9L635.8,138.8Z"/><path d="M627.2,138.4L624.8,137.5L627.9,137.4L630.3,138.3Z"/><path d="M621.7,137.2L619.3,136.5L622.4,136.7L624.8,137.5Z"/><path d="M616.2,135.7L613.8,135.3L616.9,135.8L619.3,136.5Z"/><path d="M610.7,134.1L608.2,134.1L611.4,135.0L613.8,135.3Z"/><path d="M605.1,132.6L602.7,133.1L605.8,134.1L608.2,134.1Z"/><path d="M599.6,131.4L597.2,132.3L600.3,133.4L602.7,133.1Z"/><path d="M594.1,130.7L591.7,132.0L594.8,132.9L597.2,132.3Z"/><path d="M588.6,130.6L586.2,131.9L589.3,132.6L591.7,132.0Z"/><path d="M583.1,130.9L580.7,131.9L583.8,132.5L586.2,131.9Z"/><path d="M577.6,131.3L575.1,131.9L578.3,132.3L580.7,131.9Z"/><path d="M572.0,131.4L569.6,131.5L572.7,131.9L575.1,131.9Z"/><path d="M566.5,131.1L564.1,130.5L567.2,131.0L569.6,131.5Z"/><path d="M561.0,129.8L558.6,128.5L561.7,129.4L564.1,130.5Z"/><path d="M555.5,127.4L553.1,125.4L556.2,126.9L558.6,128.5Z"/><path d="M550.0,123.8L547.6,121.4L550.7,123.4L553.1,125.4Z" stroke="#5e5e5e"/><path d="M544.5,119.5L542.1,117.3L545.2,119.5L547.6,121.4Z" stroke="#5e5e5e"/><path d="M538.9,115.6L536.5,114.6L539.6,116.4L542.1,117.3Z" stroke="#5e5e5e"/><path d="M533.4,113.5L531.0,114.1L534.1,115.1L536.5,114.6Z" stroke="#5e5e5e"/><path d="M527.9,114.2L525.5,116.3L528.6,116.2L531.0,114.1Z" stroke="#5e5e5e"/><path d="M522.4,117.3L520.0,120.2L523.1,119.2L525.5,116.3Z" stroke="#5e5e5e"/><path d="M516.9,121.8L514.5,124.6L517.6,123.2L520.0,120.2Z" stroke="#5e5e5e"/><path d="M511.4,126.4L509.0,128.4L512.1,127.0L514.5,124.6Z"/><path d="M505.8,129.9L503.4,131.0L506.5,129.7L509.0,128.4Z"/><path d="M500.3,132.2L497.9,132.4L501.0,131.4L503.4,131.0Z"/><path d="M494.8,133.4L492.4,133.0L495.5,132.1L497.9,132.4Z"/><path d="M489.3,133.8L486.9,133.2L490.0,132.4L492.4,133.0Z"/><path d="M483.8,133.9L481.4,133.1L484.5,132.4L486.9,133.2Z"/><path d="M635.1,140.2L632.7,139.2L635.8,138.8L638.2,139.8Z"/><path d="M629.6,139.3L627.2,138.4L630.3,138.3L632.7,139.2Z"/><path d="M624.1,138.0L621.7,137.2L624.8,137.5L627.2,138.4Z"/><path d="M618.6,136.3L616.2,135.7L619.3,136.5L621.7,137.2Z"/><path d="M613.1,134.2L610.7,134.1L613.8,135.3L616.2,135.7Z"/><path d="M607.6,132.1L605.1,132.6L608.2,134.1L610.7,134.1Z"/><path d="M602.0,130.2L599.6,131.4L602.7,133.1L605.1,132.6Z"/><path d="M596.5,129.0L594.1,130.7L597.2,132.3L599.6,131.4Z"/><path d="M591.0,128.6L588.6,130.6L591.7,132.0L594.1,130.7Z"/><path d="M585.5,129.0L583.1,130.9L586.2,131.9L588.6,130.6Z"/><path d="M580.0,129.7L577.6,131.3L580.7,131.9L583.1,130.9Z"/><path d="M574.5,130.5L572.0,131.4L575.1,131.9L577.6,131.3Z"/><path d="M568.9,130.9L566.5,131.1L569.6,131.5L572.0,131.4Z"/><path d="M563.4,130.6L561.0,129.8L564.1,130.5L566.5,131.1Z"/><path d="M557.9,129.1L555.5,127.4L558.6,128.5L561.0,129.8Z"/><path d="M552.4,126.3L550.0,123.8L553.1,125.4L555.5,127.4Z"/><path d="M546.9,122.3L544.5,119.5L547.6,121.4L550.0,123.8Z" stroke="#5e5e5e"/><path d="M541.4,118.0L538.9,115.6L542.1,117.3L544.5,119.5Z" stroke="#5e5e5e"/><path d="M535.8,114.6L533.4,113.5L536.5,114.6L538.9,115.6Z" stroke="#5e5e5e"/><path d="M530.3,113.5L527.9,114.2L531.0,114.1L533.4,113.5Z" stroke="#5e5e5e"/><path d="M524.8,115.2L522.4,117.3L525.5,116.3L527.9,114.2Z" stroke="#5e5e5e"/><path d="M519.3,119.2L516.9,121.8L520.0,120.2L522.4,117.3Z" stroke="#5e5e5e"/><path d="M513.8,124.0L511.4,126.4L514.5,124.6L516.9,121.8Z"/><path d="M508.2,128.4L505.8,129.9L509.0,128.4L511.4,126.4Z"/><path d="M502.7,131.6L500.3,132.2L503.4,131.0L505.8,129.9Z"/><path d="M497.2,133.4L494.8,133.4L497.9,132.4L500.3,132.2Z"/><path d="M491.7,134.3L489.3,133.8L492.4,133.0L494.8,133.4Z"/><path d="M486.2,134.6L483.8,133.9L486.9,133.2L489.3,133.8Z"/><path d="M480.7,134.6L478.3,133.8L481.4,133.1L483.8,133.9Z"/><path d="M637.5,141.2L635.1,140.2L638.2,139.8L640.7,140.8Z"/><path d="M632.0,140.3L629.6,139.3L632.7,139.2L635.1,140.2Z"/><path d="M626.5,139.0L624.1,138.0L627.2,138.4L629.6,139.3Z"/><path d="M621.0,137.0L618.6,136.3L621.7,137.2L624.1,138.0Z"/><path d="M615.5,134.5L613.1,134.2L616.2,135.7L618.6,136.3Z"/><path d="M610.0,131.7L607.6,132.1L610.7,134.1L613.1,134.2Z"/><path d="M604.4,129.0L602.0,130.2L605.1,132.6L607.6,132.1Z"/><path d="M598.9,126.9L596.5,129.0L599.6,131.4L602.0,130.2Z"/><path d="M593.4,125.9L591.0,128.6L594.1,130.7L596.5,129.0Z"/><path d="M587.9,126.0L585.5,129.0L588.6,130.6L591.0,128.6Z"/><path d="M582.4,127.1L580.0,129.7L583.1,130.9L585.5,129.0Z"/><path d="M576.9,128.5L574.5,130.5L577.6,131.3L580.0,129.7Z"/><path d="M571.3,129.8L568.9,130.9L572.0,131.4L574.5,130.5Z"/><path d="M565.8,130.5L563.4,130.6L566.5,131.1L568.9,130.9Z"/><path d="M560.3,130.1L557.9,129.1L561.0,129.8L563.4,130.6Z"/><path d="M554.8,128.4L552.4,126.3L555.5,127.4L557.9,129.1Z"/><path d="M549.3,125.3L546.9,122.3L550.0,123.8L552.4,126.3Z" stroke="#5e5e5e"/><path d="M543.8,121.2L541.4,118.0L544.5,119.5L546.9,122.3Z" stroke="#5e5e5e"/><path d="M538.2,117.2L535.8,114.6L538.9,115.6L541.4,118.0Z" stroke="#5e5e5e"/><path d="M532.7,114.7L530.3,113.5L533.4,113.5L535.8,114.6Z" stroke="#5e5e5e"/><path d="M527.2,114.7L524.8,115.2L527.9,114.2L530.3,113.5Z" stroke="#5e5e5e"/><path d="M521.7,117.3L519.3,119.2L522.4,117.3L524.8,115.2Z" stroke="#5e5e5e"/><path d="M516.2,121.8L513.8,124.0L516.9,121.8L519.3,119.2Z" stroke="#5e5e5e"/><path d="M510.7,126.5L508.2,128.4L511.4,126.4L513.8,124.0Z"/><path d="M505.1,130.4L502.7,131.6L505.8,129.9L508.2,128.4Z"/><path d="M499.6,133.1L497.2,133.4L500.3,132.2L502.7,131.6Z"/><path d="M494.1,134.6L491.7,134.3L494.8,133.4L497.2,133.4Z"/><path d="M488.6,135.2L486.2,134.6L489.3,133.8L491.7,134.3Z"/><path d="M483.1,135.4L480.7,134.6L483.8,133.9L486.2,134.6Z"/><path d="M477.6,135.4L475.1,134.5L478.3,133.8L480.7,134.6Z"/><path d="M640.0,142.2L637.5,141.2L640.7,140.8L643.1,141.7Z"/><path d="M634.4,141.4L632.0,140.3L635.1,140.2L637.5,141.2Z"/><path d="M628.9,140.1L626.5,139.0L629.6,139.3L632.0,140.3Z"/><path d="M623.4,138.0L621.0,137.0L624.1,138.0L626.5,139.0Z"/><path d="M617.9,135.2L615.5,134.5L618.6,136.3L621.0,137.0Z"/><path d="M612.4,131.6L610.0,131.7L613.1,134.2L615.5,134.5Z"/><path d="M606.9,127.9L604.4,129.0L607.6,132.1L610.0,131.7Z"/><path d="M601.3,124.7L598.9,126.9L602.0,130.2L604.4,129.0Z" stroke="#5e5e5e"/><path d="M595.8,122.6L593.4,125.9L596.5,129.0L598.9,126.9Z" stroke="#5e5e5e"/><path d="M590.3,122.1L587.9,126.0L591.0,128.6L593.4,125.9Z" stroke="#5e5e5e"/><path d="M584.8,123.1L582.4,127.1L585.5,129.0L587.9,126.0Z" stroke="#5e5e5e"/><path d="M579.3,125.1L576.9,128.5L580.0,129.7L582.4,127.1Z"/><path d="M573.8,127.4L571.3,129.8L574.5,130.5L576.9,128.5Z"/><path d="M568.2,129.2L565.8,130.5L568.9,130.9L571.3,129.8Z"/><path d="M562.7,130.1L560.3,130.1L563.4,130.6L565.8,130.5Z"/><path d="M557.2,129.8L554.8,128.4L557.9,129.1L560.3,130.1Z"/><path d="M551.7,127.9L549.3,125.3L552.4,126.3L554.8,128.4Z"/><path d="M546.2,124.7L543.8,121.2L546.9,122.3L549.3,125.3Z" stroke="#5e5e5e"/><path d="M540.6,120.8L538.2,117.2L541.4,118.0L543.8,121.2Z" stroke="#5e5e5e"/><path d="M535.1,117.4L532.7,114.7L535.8,114.6L538.2,117.2Z" stroke="#5e5e5e"/><path d="M529.6,115.8L527.2,114.7L530.3,113.5L532.7,114.7Z" stroke="#5e5e5e"/><path d="M524.1,116.9L521.7,117.3L524.8,115.2L527.2,114.7Z" stroke="#5e5e5e"/><path d="M518.6,120.2L516.2,121.8L519.3,119.2L521.7,117.3Z" stroke="#5e5e5e"/><path d="M513.1,124.7L510.7,126.5L513.8,124.0L516.2,121.8Z" stroke="#5e5e5e"/><path d="M507.6,129.1L505.1,130.4L508.2,128.4L510.7,126.5Z"/><path d="M502.0,132.4L499.6,133.1L502.7,131.6L505.1,130.4Z"/><path d="M496.5,134.5L494.1,134.6L497.2,133.4L499.6,133.1Z"/><path d="M491.0,135.6L488.6,135.2L491.7,134.3L494.1,134.6Z"/><path d="M485.5,136.1L483.1,135.4L486.2,134.6L488.6,135.2Z"/><path d="M480.0,136.2L477.6,135.4L480.7,134.6L483.1,135.4Z"/><path d="M474.5,136.1L472.0,135.2L475.1,134.5L477.6,135.4Z"/><path d="M642.4,143.2L640.0,142.2L643.1,141.7L645.5,142.7Z"/><path d="M636.8,142.5L634.4,141.4L637.5,141.2L640.0,142.2Z"/><path d="M631.3,141.3L628.9,140.1L632.0,140.3L634.4,141.4Z"/><path d="M625.8,139.2L623.4,138.0L626.5,139.0L628.9,140.1Z"/><path d="M620.3,136.2L617.9,135.2L621.0,137.0L623.4,138.0Z"/><path d="M614.8,132.1L612.4,131.6L615.5,134.5L617.9,135.2Z"/><path d="M609.3,127.4L606.9,127.9L610.0,131.7L612.4,131.6Z"/><path d="M603.7,122.8L601.3,124.7L604.4,129.0L606.9,127.9Z" stroke="#5e5e5e"/><path d="M598.2,119.2L595.8,122.6L598.9,126.9L601.3,124.7Z" stroke="#5e5e5e"/><path d="M592.7,117.5L590.3,122.1L593.4,125.9L595.8,122.6Z" stroke="#5e5e5e"/><path d="M587.2,117.9L584.8,123.1L587.9,126.0L590.3,122.1Z" stroke="#5e5e5e"/><path d="M581.7,120.2L579.3,125.1L582.4,127.1L584.8,123.1Z" stroke="#5e5e5e"/><path d="M576.2,123.3L573.8,127.4L576.9,128.5L579.3,125.1Z" stroke="#5e5e5e"/><path d="M570.6,126.5L568.2,129.2L571.3,129.8L573.8,127.4Z"/><path d="M565.1,128.9L562.7,130.1L565.8,130.5L568.2,129.2Z"/><path d="M559.6,130.0L557.2,129.8L560.3,130.1L562.7,130.1Z"/><path d="M554.1,129.6L551.7,127.9L554.8,128.4L557.2,129.8Z"/><path d="M548.6,127.7L546.2,124.7L549.3,125.3L551.7,127.9Z" stroke="#5e5e5e"/><path d="M543.1,124.6L540.6,120.8L543.8,121.2L546.2,124.7Z" stroke="#5e5e5e"/><path d="M537.5,121.1L535.1,117.4L538.2,117.2L540.6,120.8Z" stroke="#5e5e5e"/><path d="M532.0,118.5L529.6,115.8L532.7,114.7L535.1,117.4Z" stroke="#5e5e5e"/><path d="M526.5,118.0L524.1,116.9L527.2,114.7L529.6,115.8Z" stroke="#5e5e5e"/><path d="M521.0,119.9L518.6,120.2L521.7,117.3L524.1,116.9Z" stroke="#5e5e5e"/><path d="M515.5,123.5L513.1,124.7L516.2,121.8L518.6,120.2Z" stroke="#5e5e5e"/><path d="M510.0,127.8L507.6,129.1L510.7,126.5L513.1,124.7Z"/><path d="M504.4,131.5L502.0,132.4L505.1,130.4L507.6,129.1Z"/><path d="M498.9,134.2L496.5,134.5L499.6,133.1L502.0,132.4Z"/><path d="M493.4,135.8L491.0,135.6L494.1,134.6L496.5,134.5Z"/><path d="M487.9,136.5L485.5,136.1L488.6,135.2L491.0,135.6Z"/><path d="M482.4,136.8L480.0,136.2L483.1,135.4L485.5,136.1Z"/><path d="M476.9,136.9L474.5,136.1L477.6,135.4L480.0,136.2Z"/><path d="M471.3,136.8L468.9,136.0L472.0,135.2L474.5,136.1Z"/><path d="M644.8,144.3L642.4,143.2L645.5,142.7L647.9,143.7Z"/><path d="M639.2,143.6L636.8,142.5L640.0,142.2L642.4,143.2Z"/><path d="M633.7,142.5L631.3,141.3L634.4,141.4L636.8,142.5Z"/><path d="M628.2,140.6L625.8,139.2L628.9,140.1L631.3,141.3Z"/><path d="M622.7,137.6L620.3,136.2L623.4,138.0L625.8,139.2Z"/><path d="M617.2,133.2L614.8,132.1L617.9,135.2L620.3,136.2Z"/><path d="M611.7,127.6L609.3,127.4L612.4,131.6L614.8,132.1Z" stroke="#5e5e5e"/><path d="M606.2,121.6L603.7,122.8L606.9,127.9L609.3,127.4Z" stroke="#5e5e5e"/><path d="M600.6,116.2L598.2,119.2L601.3,124.7L603.7,122.8Z" stroke="#5e5e5e"/><path d="M595.1,112.7L592.7,117.5L595.8,122.6L598.2,119.2Z" stroke="#5e5e5e"/><path d="M589.6,111.9L587.2,117.9L590.3,122.1L592.7,117.5Z" stroke="#5e5e5e"/><path d="M584.1,113.7L581.7,120.2L584.8,123.1L587.2,117.9Z" stroke="#5e5e5e"/><path d="M578.6,117.5L576.2,123.3L579.3,125.1L581.7,120.2Z" stroke="#5e5e5e"/><path d="M573.0,121.9L570.6,126.5L573.8,127.4L576.2,123.3Z" stroke="#5e5e5e"/><path d="M567.5,126.0L565.1,128.9L568.2,129.2L570.6,126.5Z" stroke="#5e5e5e"/><path d="M562.0,128.9L559.6,130.0L562.7,130.1L565.1,128.9Z"/><path d="M556.5,130.2L554.1,129.6L557.2,129.8L559.6,130.0Z"/><path d="M551.0,129.8L548.6,127.7L551.7,127.9L554.1,129.6Z"/><path d="M545.5,127.9L543.1,124.6L546.2,124.7L548.6,127.7Z" stroke="#5e5e5e"/><path d="M540.0,125.1L537.5,121.1L540.6,120.8L543.1,124.6Z" stroke="#5e5e5e"/><path d="M534.4,122.3L532.0,118.5L535.1,117.4L537.5,121.1Z" stroke="#5e5e5e"/><path d="M528.9,120.6L526.5,118.0L529.6,115.8L532.0,118.5Z" stroke="#5e5e5e"/><path d="M523.4,121.0L521.0,119.9L524.1,116.9L526.5,118.0Z" stroke="#5e5e5e"/><path d="M517.9,123.4L515.5,123.5L518.6,120.2L521.0,119.9Z" stroke="#5e5e5e"/><path d="M512.4,127.0L510.0,127.8L513.1,124.7L515.5,123.5Z" stroke="#5e5e5e"/><path d="M506.9,130.7L504.4,131.5L507.6,129.1L510.0,127.8Z"/><path d="M501.3,133.7L498.9,134.2L502.0,132.4L504.4,131.5Z"/><path d="M495.8,135.7L493.4,135.8L496.5,134.5L498.9,134.2Z"/><path d="M490.3,136.9L487.9,136.5L491.0,135.6L493.4,135.8Z"/><path d="M484.8,137.4L482.4,136.8L485.5,136.1L487.9,136.5Z"/><path d="M479.3,137.6L476.9,136.9L480.0,136.2L482.4,136.8Z"/><path d="M473.8,137.6L471.3,136.8L474.5,136.1L476.9,136.9Z"/><path d="M468.2,137.5L465.8,136.7L468.9,136.0L471.3,136.8Z"/><path d="M647.2,145.3L644.8,144.3L647.9,143.7L650.3,144.7Z"/><path d="M641.7,144.7L639.2,143.6L642.4,143.2L644.8,144.3Z"/><path d="M636.1,143.8L633.7,142.5L636.8,142.5L639.2,143.6Z"/><path d="M630.6,142.1L628.2,140.6L631.3,141.3L633.7,142.5Z"/><path d="M625.1,139.2L622.7,137.6L625.8,139.2L628.2,140.6Z"/><path d="M619.6,134.8L617.2,133.2L620.3,136.2L622.7,137.6Z"/><path d="M614.1,128.7L611.7,127.6L614.8,132.1L617.2,133.2Z" stroke="#5e5e5e"/><path d="M608.6,121.5L606.2,121.6L609.3,127.4L611.7,127.6Z" stroke="#5e5e5e"/><path d="M603.0,114.3L600.6,116.2L603.7,122.8L606.2,121.6Z" stroke="#5e5e5e"/><path d="M597.5,108.5L595.1,112.7L598.2,119.2L600.6,116.2Z" stroke="#5e5e5e"/><path d="M592.0,105.7L589.6,111.9L592.7,117.5L595.1,112.7Z" stroke="#5e5e5e"/><path d="M586.5,106.3L584.1,113.7L587.2,117.9L589.6,111.9Z" stroke="#5e5e5e"/><path d="M581.0,109.9L578.6,117.5L581.7,120.2L584.1,113.7Z" stroke="#5e5e5e"/><path d="M575.5,115.4L573.0,121.9L576.2,123.3L578.6,117.5Z" stroke="#5e5e5e"/><path d="M569.9,121.2L567.5,126.0L570.6,126.5L573.0,121.9Z" stroke="#5e5e5e"/><path d="M564.4,126.0L562.0,128.9L565.1,128.9L567.5,126.0Z" stroke="#5e5e5e"/><path d="M558.9,129.3L556.5,130.2L559.6,130.0L562.0,128.9Z"/><path d="M553.4,130.7L551.0,129.8L554.1,129.6L556.5,130.2Z"/><path d="M547.9,130.3L545.5,127.9L548.6,127.7L551.0,129.8Z"/><path d="M542.4,128.6L540.0,125.1L543.1,124.6L545.5,127.9Z" stroke="#5e5e5e"/><path d="M536.8,126.3L534.4,122.3L537.5,121.1L540.0,125.1Z" stroke="#5e5e5e"/><path d="M531.3,124.2L528.9,120.6L532.0,118.5L534.4,122.3Z" stroke="#5e5e5e"/><path d="M525.8,123.5L523.4,121.0L526.5,118.0L528.9,120.6Z" stroke="#5e5e5e"/><path d="M520.3,124.5L517.9,123.4L521.0,119.9L523.4,121.0Z" stroke="#5e5e5e"/><path d="M514.8,127.0L512.4,127.0L515.5,123.5L517.9,123.4Z" stroke="#5e5e5e"/><path d="M509.3,130.3L506.9,130.7L510.0,127.8L512.4,127.0Z"/><path d="M503.7,133.3L501.3,133.7L504.4,131.5L506.9,130.7Z"/><path d="M498.2,135.6L495.8,135.7L498.9,134.2L501.3,133.7Z"/><path d="M492.7,137.0L490.3,136.9L493.4,135.8L495.8,135.7Z"/><path d="M487.2,137.8L484.8,137.4L487.9,136.5L490.3,136.9Z"/><path d="M481.7,138.2L479.3,137.6L482.4,136.8L484.8,137.4Z"/><path d="M476.2,138.3L473.8,137.6L476.9,136.9L479.3,137.6Z"/><path d="M470.6,138.3L468.2,137.5L471.3,136.8L473.8,137.6Z"/><path d="M465.1,138.2L462.7,137.4L465.8,136.7L468.2,137.5Z"/><path d="M649.6,146.3L647.2,145.3L650.3,144.7L652.7,145.6Z"/><path d="M644.1,145.8L641.7,144.7L644.8,144.3L647.2,145.3Z"/><path d="M638.5,145.0L636.1,143.8L639.2,143.6L641.7,144.7Z"/><path d="M633.0,143.6L630.6,142.1L633.7,142.5L636.1,143.8Z"/><path d="M627.5,141.1L625.1,139.2L628.2,140.6L630.6,142.1Z"/><path d="M622.0,136.9L619.6,134.8L622.7,137.6L625.1,139.2Z"/><path d="M616.5,130.7L614.1,128.7L617.2,133.2L619.6,134.8Z" stroke="#5e5e5e"/><path d="M611.0,122.7L608.6,121.5L611.7,127.6L614.1,128.7Z" stroke="#5e5e5e"/><path d="M605.5,113.8L603.0,114.3L606.2,121.6L608.6,121.5Z" stroke="#5e5e5e"/><path d="M599.9,105.7L597.5,108.5L600.6,116.2L603.0,114.3Z" stroke="#5e5e5e"/><path d="M594.4,100.1L592.0,105.7L595.1,112.7L597.5,108.5Z" stroke="#5e5e5e"/><path d="M588.9,98.5L586.5,106.3L589.6,111.9L592.0,105.7Z" stroke="#5e5e5e"/><path d="M583.4,101.2L581.0,109.9L584.1,113.7L586.5,106.3Z" stroke="#5e5e5e"/><path d="M577.9,107.0L575.5,115.4L578.6,117.5L581.0,109.9Z" stroke="#5e5e5e"/><path d="M572.4,114.2L569.9,121.2L573.0,121.9L575.5,115.4Z" stroke="#5e5e5e"/><path d="M566.8,121.2L564.4,126.0L567.5,126.0L569.9,121.2Z" stroke="#5e5e5e"/><path d="M561.3,126.7L558.9,129.3L562.0,128.9L564.4,126.0Z" stroke="#5e5e5e"/><path d="M555.8,130.1L553.4,130.7L556.5,130.2L558.9,129.3Z"/><path d="M550.3,131.6L547.9,130.3L551.0,129.8L553.4,130.7Z"/><path d="M544.8,131.3L542.4,128.6L545.5,127.9L547.9,130.3Z"/><path d="M539.2,129.9L536.8,126.3L540.0,125.1L542.4,128.6Z" stroke="#5e5e5e"/><path d="M533.7,128.0L531.3,124.2L534.4,122.3L536.8,126.3Z" stroke="#5e5e5e"/><path d="M528.2,126.7L525.8,123.5L528.9,120.6L531.3,124.2Z" stroke="#5e5e5e"/><path d="M522.7,126.7L520.3,124.5L523.4,121.0L525.8,123.5Z" stroke="#5e5e5e"/><path d="M517.2,128.1L514.8,127.0L517.9,123.4L520.3,124.5Z" stroke="#5e5e5e"/><path d="M511.7,130.5L509.3,130.3L512.4,127.0L514.8,127.0Z"/><path d="M506.2,133.2L503.7,133.3L506.9,130.7L509.3,130.3Z"/><path d="M500.6,135.5L498.2,135.6L501.3,133.7L503.7,133.3Z"/><path d="M495.1,137.1L492.7,137.0L495.8,135.7L498.2,135.6Z"/><path d="M489.6,138.1L487.2,137.8L490.3,136.9L492.7,137.0Z"/><path d="M484.1,138.7L481.7,138.2L484.8,137.4L487.2,137.8Z"/><path d="M478.6,139.0L476.2,138.3L479.3,137.6L481.7,138.2Z"/><path d="M473.0,139.1L470.6,138.3L473.8,137.6L476.2,138.3Z"/><path d="M467.5,139.0L465.1,138.2L468.2,137.5L470.6,138.3Z"/><path d="M462.0,139.0L459.6,138.1L462.7,137.4L465.1,138.2Z"/><path d="M652.0,147.2L649.6,146.3L652.7,145.6L655.1,146.6Z"/><path d="M646.5,146.9L644.1,145.8L647.2,145.3L649.6,146.3Z"/><path d="M641.0,146.3L638.5,145.0L641.7,144.7L644.1,145.8Z"/><path d="M635.4,145.1L633.0,143.6L636.1,143.8L638.5,145.0Z"/><path d="M629.9,143.0L627.5,141.1L630.6,142.1L633.0,143.6Z"/><path d="M624.4,139.3L622.0,136.9L625.1,139.2L627.5,141.1Z"/><path d="M618.9,133.4L616.5,130.7L619.6,134.8L622.0,136.9Z"/><path d="M613.4,125.2L611.0,122.7L614.1,128.7L616.5,130.7Z" stroke="#5e5e5e"/><path d="M607.9,115.1L605.5,113.8L608.6,121.5L611.0,122.7Z" stroke="#5e5e5e"/><path d="M602.3,104.8L599.9,105.7L603.0,114.3L605.5,113.8Z" stroke="#5e5e5e"/><path d="M596.8,96.3L594.4,100.1L597.5,108.5L599.9,105.7Z" stroke="#5e5e5e"/><path d="M591.3,91.7L588.9,98.5L592.0,105.7L594.4,100.1Z" stroke="#5e5e5e"/><path d="M585.8,92.1L583.4,101.2L586.5,106.3L588.9,98.5Z" stroke="#5e5e5e"/><path d="M580.3,97.2L577.9,107.0L581.0,109.9L583.4,101.2Z" stroke="#5e5e5e"/><path d="M574.8,105.2L572.4,114.2L575.5,115.4L577.9,107.0Z" stroke="#5e5e5e"/><path d="M569.2,114.2L566.8,121.2L569.9,121.2L572.4,114.2Z" stroke="#5e5e5e"/><path d="M563.7,122.0L561.3,126.7L564.4,126.0L566.8,121.2Z" stroke="#5e5e5e"/><path d="M558.2,127.9L555.8,130.1L558.9,129.3L561.3,126.7Z" stroke="#5e5e5e"/><path d="M552.7,131.4L550.3,131.6L553.4,130.7L555.8,130.1Z"/><path d="M547.2,132.8L544.8,131.3L547.9,130.3L550.3,131.6Z"/><path d="M541.7,132.6L539.2,129.9L542.4,128.6L544.8,131.3Z"/><path d="M536.1,131.5L533.7,128.0L536.8,126.3L539.2,129.9Z" stroke="#5e5e5e"/><path d="M530.6,130.3L528.2,126.7L531.3,124.2L533.7,128.0Z" stroke="#5e5e5e"/><path d="M525.1,129.6L522.7,126.7L525.8,123.5L528.2,126.7Z" stroke="#5e5e5e"/><path d="M519.6,130.0L517.2,128.1L520.3,124.5L522.7,126.7Z" stroke="#5e5e5e"/><path d="M514.1,131.5L511.7,130.5L514.8,127.0L517.2,128.1Z"/><path d="M508.6,133.5L506.2,133.2L509.3,130.3L511.7,130.5Z"/><path d="M503.0,135.6L500.6,135.5L503.7,133.3L506.2,133.2Z"/><path d="M497.5,137.2L495.1,137.1L498.2,135.6L500.6,135.5Z"/><path d="M492.0,138.3L489.6,138.1L492.7,137.0L495.1,137.1Z"/><path d="M486.5,139.0L484.1,138.7L487.2,137.8L489.6,138.1Z"/><path d="M481.0,139.5L478.6,139.0L481.7,138.2L484.1,138.7Z"/><path d="M475.5,139.7L473.0,139.1L476.2,138.3L478.6,139.0Z"/><path d="M469.9,139.8L467.5,139.0L470.6,138.3L473.0,139.1Z"/><path d="M464.4,139.8L462.0,139.0L465.1,138.2L467.5,139.0Z"/><path d="M458.9,139.7L456.5,138.8L459.6,138.1L462.0,139.0Z"/><path d="M654.4,148.2L652.0,147.2L655.1,146.6L657.5,147.5Z"/><path d="M648.9,147.9L646.5,146.9L649.6,146.3L652.0,147.2Z"/><path d="M643.4,147.4L641.0,146.3L644.1,145.8L646.5,146.9Z"/><path d="M637.9,146.5L635.4,145.1L638.5,145.0L641.0,146.3Z"/><path d="M632.3,144.8L629.9,143.0L633.0,143.6L635.4,145.1Z"/><path d="M626.8,141.7L624.4,139.3L627.5,141.1L629.9,143.0Z"/><path d="M621.3,136.5L618.9,133.4L622.0,136.9L624.4,139.3Z"/><path d="M615.8,128.6L613.4,125.2L616.5,130.7L618.9,133.4Z" stroke="#5e5e5e"/><path d="M610.3,118.2L607.9,115.1L611.0,122.7L613.4,125.2Z" stroke="#5e5e5e"/><path d="M604.8,106.2L602.3,104.8L605.5,113.8L607.9,115.1Z" stroke="#5e5e5e"/><path d="M599.2,94.9L596.8,96.3L599.9,105.7L602.3,104.8Z" stroke="#5e5e5e"/><path d="M593.7,86.8L591.3,91.7L594.4,100.1L596.8,96.3Z" stroke="#5e5e5e"/><path d="M588.2,84.0L585.8,92.1L588.9,98.5L591.3,91.7Z" stroke="#5e5e5e"/><path d="M582.7,87.1L580.3,97.2L583.4,101.2L585.8,92.1Z" stroke="#5e5e5e"/><path d="M577.2,94.8L574.8,105.2L577.9,107.0L580.3,97.2Z" stroke="#5e5e5e"/><path d="M571.6,105.1L569.2,114.2L572.4,114.2L574.8,105.2Z" stroke="#5e5e5e"/><path d="M566.1,115.3L563.7,122.0L566.8,121.2L569.2,114.2Z" stroke="#5e5e5e"/><path d="M560.6,123.7L558.2,127.9L561.3,126.7L563.7,122.0Z" stroke="#5e5e5e"/><path d="M555.1,129.6L552.7,131.4L555.8,130.1L558.2,127.9Z" stroke="#5e5e5e"/><path d="M549.6,133.0L547.2,132.8L550.3,131.6L552.7,131.4Z"/><path d="M544.1,134.3L541.7,132.6L544.8,131.3L547.2,132.8Z"/><path d="M538.6,134.3L536.1,131.5L539.2,129.9L541.7,132.6Z"/><path d="M533.0,133.5L530.6,130.3L533.7,128.0L536.1,131.5Z"/><path d="M527.5,132.8L525.1,129.6L528.2,126.7L530.6,130.3Z" stroke="#5e5e5e"/><path d="M522.0,132.6L519.6,130.0L522.7,126.7L525.1,129.6Z" stroke="#5e5e5e"/><path d="M516.5,133.2L514.1,131.5L517.2,128.1L519.6,130.0Z"/><path d="M511.0,134.5L508.6,133.5L511.7,130.5L514.1,131.5Z"/><path d="M505.4,136.0L503.0,135.6L506.2,133.2L508.6,133.5Z"/><path d="M499.9,137.5L497.5,137.2L500.6,135.5L503.0,135.6Z"/><path d="M494.4,138.6L492.0,138.3L495.1,137.1L497.5,137.2Z"/><path d="M488.9,139.4L486.5,139.0L489.6,138.1L492.0,138.3Z"/><path d="M483.4,139.9L481.0,139.5L484.1,138.7L486.5,139.0Z"/><path d="M477.9,140.2L475.5,139.7L478.6,139.0L481.0,139.5Z"/><path d="M472.4,140.4L469.9,139.8L473.0,139.1L475.5,139.7Z"/><path d="M466.8,140.5L464.4,139.8L467.5,139.0L469.9,139.8Z"/><path d="M461.3,140.5L458.9,139.7L462.0,139.0L464.4,139.8Z"/><path d="M455.8,140.4L453.4,139.5L456.5,138.8L458.9,139.7Z"/><path d="M656.8,149.1L654.4,148.2L657.5,147.5L659.9,148.4Z"/><path d="M651.3,148.9L648.9,147.9L652.0,147.2L654.4,148.2Z"/><path d="M645.8,148.5L643.4,147.4L646.5,146.9L648.9,147.9Z"/><path d="M640.3,147.8L637.9,146.5L641.0,146.3L643.4,147.4Z"/><path d="M634.7,146.5L632.3,144.8L635.4,145.1L637.9,146.5Z"/><path d="M629.2,144.1L626.8,141.7L629.9,143.0L632.3,144.8Z"/><path d="M623.7,139.8L621.3,136.5L624.4,139.3L626.8,141.7Z"/><path d="M618.2,132.7L615.8,128.6L618.9,133.4L621.3,136.5Z" stroke="#5e5e5e"/><path d="M612.7,122.6L610.3,118.2L613.4,125.2L615.8,128.6Z" stroke="#5e5e5e"/><path d="M607.2,109.9L604.8,106.2L607.9,115.1L610.3,118.2Z" stroke="#5e5e5e"/><path d="M601.6,96.5L599.2,94.9L602.3,104.8L604.8,106.2Z" stroke="#5e5e5e"/><path d="M596.1,85.0L593.7,86.8L596.8,96.3L599.2,94.9Z" stroke="#5e5e5e"/><path d="M590.6,78.3L588.2,84.0L591.3,91.7L593.7,86.8Z" stroke="#5e5e5e"/><path d="M585.1,78.0L582.7,87.1L585.8,92.1L588.2,84.0Z" stroke="#5e5e5e"/><path d="M579.6,84.1L577.2,94.8L580.3,97.2L582.7,87.1Z" stroke="#5e5e5e"/><path d="M574.1,94.5L571.6,105.1L574.8,105.2L577.2,94.8Z" stroke="#5e5e5e"/><path d="M568.5,106.5L566.1,115.3L569.2,114.2L571.6,105.1Z" stroke="#5e5e5e"/><path d="M563.0,117.5L560.6,123.7L563.7,122.0L566.1,115.3Z" stroke="#5e5e5e"/><path d="M557.5,126.1L555.1,129.6L558.2,127.9L560.6,123.7Z" stroke="#5e5e5e"/><path d="M552.0,131.7L549.6,133.0L552.7,131.4L555.1,129.6Z" stroke="#5e5e5e"/><path d="M546.5,134.8L544.1,134.3L547.2,132.8L549.6,133.0Z"/><path d="M541.0,136.1L538.6,134.3L541.7,132.6L544.1,134.3Z"/><path d="M535.4,136.1L533.0,133.5L536.1,131.5L538.6,134.3Z"/><path d="M529.9,135.7L527.5,132.8L530.6,130.3L533.0,133.5Z"/><path d="M524.4,135.3L522.0,132.6L525.1,129.6L527.5,132.8Z"/><path d="M518.9,135.4L516.5,133.2L519.6,130.0L522.0,132.6Z"/><path d="M513.4,136.0L511.0,134.5L514.1,131.5L516.5,133.2Z"/><path d="M507.9,137.0L505.4,136.0L508.6,133.5L511.0,134.5Z"/><path d="M502.3,138.0L499.9,137.5L503.0,135.6L505.4,136.0Z"/><path d="M496.8,139.0L494.4,138.6L497.5,137.2L499.9,137.5Z"/><path d="M491.3,139.7L488.9,139.4L492.0,138.3L494.4,138.6Z"/><path d="M485.8,140.3L483.4,139.9L486.5,139.0L488.9,139.4Z"/><path d="M480.3,140.7L477.9,140.2L481.0,139.5L483.4,139.9Z"/><path d="M474.8,141.0L472.4,140.4L475.5,139.7L477.9,140.2Z"/><path d="M469.2,141.2L466.8,140.5L469.9,139.8L472.4,140.4Z"/><path d="M463.7,141.2L461.3,140.5L464.4,139.8L466.8,140.5Z"/><path d="M458.2,141.2L455.8,140.4L458.9,139.7L461.3,140.5Z"/><path d="M452.7,141.1L450.3,140.2L453.4,139.5L455.8,140.4Z"/><path d="M659.2,150.1L656.8,149.1L659.9,148.4L662.3,149.4Z"/><path d="M653.7,149.8L651.3,148.9L654.4,148.2L656.8,149.1Z"/><path d="M648.2,149.5L645.8,148.5L648.9,147.9L651.3,148.9Z"/><path d="M642.7,149.0L640.3,147.8L643.4,147.4L645.8,148.5Z"/><path d="M637.1,148.1L634.7,146.5L637.9,146.5L640.3,147.8Z"/><path d="M631.6,146.3L629.2,144.1L632.3,144.8L634.7,146.5Z"/><path d="M626.1,142.8L623.7,139.8L626.8,141.7L629.2,144.1Z"/><path d="M620.6,136.9L618.2,132.7L621.3,136.5L623.7,139.8Z"/><path d="M615.1,127.8L612.7,122.6L615.8,128.6L618.2,132.7Z" stroke="#5e5e5e"/><path d="M609.6,115.4L607.2,109.9L610.3,118.2L612.7,122.6Z" stroke="#5e5e5e"/><path d="M604.0,100.9L601.6,96.5L604.8,106.2L607.2,109.9Z" stroke="#5e5e5e"/><path d="M598.5,86.7L596.1,85.0L599.2,94.9L601.6,96.5Z" stroke="#5e5e5e"/><path d="M593.0,76.0L590.6,78.3L593.7,86.8L596.1,85.0Z" stroke="#5e5e5e"/><path d="M587.5,71.6L585.1,78.0L588.2,84.0L590.6,78.3Z" stroke="#5e5e5e"/><path d="M582.0,74.5L579.6,84.1L582.7,87.1L585.1,78.0Z" stroke="#5e5e5e"/><path d="M576.5,83.7L574.1,94.5L577.2,94.8L579.6,84.1Z" stroke="#5e5e5e"/><path d="M571.0,96.4L568.5,106.5L571.6,105.1L574.1,94.5Z" stroke="#5e5e5e"/><path d="M565.4,109.5L563.0,117.5L566.1,115.3L568.5,106.5Z" stroke="#5e5e5e"/><path d="M559.9,120.7L557.5,126.1L560.6,123.7L563.0,117.5Z" stroke="#5e5e5e"/><path d="M554.4,128.9L552.0,131.7L555.1,129.6L557.5,126.1Z" stroke="#5e5e5e"/><path d="M548.9,134.1L546.5,134.8L549.6,133.0L552.0,131.7Z"/><path d="M543.4,136.8L541.0,136.1L544.1,134.3L546.5,134.8Z"/><path d="M537.9,137.9L535.4,136.1L538.6,134.3L541.0,136.1Z"/><path d="M532.3,138.1L529.9,135.7L533.0,133.5L535.4,136.1Z"/><path d="M526.8,137.9L524.4,135.3L527.5,132.8L529.9,135.7Z"/><path d="M521.3,137.7L518.9,135.4L522.0,132.6L524.4,135.3Z"/><path d="M515.8,137.9L513.4,136.0L516.5,133.2L518.9,135.4Z"/><path d="M510.3,138.3L507.9,137.0L511.0,134.5L513.4,136.0Z"/><path d="M504.8,138.9L502.3,138.0L505.4,136.0L507.9,137.0Z"/><path d="M499.2,139.6L496.8,139.0L499.9,137.5L502.3,138.0Z"/><path d="M493.7,140.2L491.3,139.7L494.4,138.6L496.8,139.0Z"/><path d="M488.2,140.6L485.8,140.3L488.9,139.4L491.3,139.7Z"/><path d="M482.7,141.1L480.3,140.7L483.4,139.9L485.8,140.3Z"/><path d="M477.2,141.5L474.8,141.0L477.9,140.2L480.3,140.7Z"/><path d="M471.7,141.7L469.2,141.2L472.4,140.4L474.8,141.0Z"/><path d="M466.1,141.9L463.7,141.2L466.8,140.5L469.2,141.2Z"/><path d="M460.6,142.0L458.2,141.2L461.3,140.5L463.7,141.2Z"/><path d="M455.1,142.0L452.7,141.1L455.8,140.4L458.2,141.2Z"/><path d="M449.6,141.8L447.2,141.0L450.3,140.2L452.7,141.1Z"/><path d="M661.6,151.0L659.2,150.1L662.3,149.4L664.7,150.3Z"/><path d="M656.1,150.8L653.7,149.8L656.8,149.1L659.2,150.1Z"/><path d="M650.6,150.5L648.2,149.5L651.3,148.9L653.7,149.8Z"/><path d="M645.1,150.1L642.7,149.0L645.8,148.5L648.2,149.5Z"/><path d="M639.6,149.5L637.1,148.1L640.3,147.8L642.7,149.0Z"/><path d="M634.0,148.1L631.6,146.3L634.7,146.5L637.1,148.1Z"/><path d="M628.5,145.6L626.1,142.8L629.2,144.1L631.6,146.3Z"/><path d="M623.0,140.9L620.6,136.9L623.7,139.8L626.1,142.8Z"/><path d="M617.5,133.3L615.1,127.8L618.2,132.7L620.6,136.9Z" stroke="#5e5e5e"/><path d="M612.0,122.0L609.6,115.4L612.7,122.6L615.1,127.8Z" stroke="#5e5e5e"/><path d="M606.5,107.5L604.0,100.9L607.2,109.9L609.6,115.4Z" stroke="#5e5e5e"/><path d="M600.9,91.8L598.5,86.7L601.6,96.5L604.0,100.9Z" stroke="#5e5e5e"/><path d="M595.4,77.8L593.0,76.0L596.1,85.0L598.5,86.7Z" stroke="#5e5e5e"/><path d="M589.9,69.0L587.5,71.6L590.6,78.3L593.0,76.0Z" stroke="#5e5e5e"/><path d="M584.4,67.7L582.0,74.5L585.1,78.0L587.5,71.6Z" stroke="#5e5e5e"/><path d="M578.9,74.0L576.5,83.7L579.6,84.1L582.0,74.5Z" stroke="#5e5e5e"/><path d="M573.4,85.9L571.0,96.4L574.1,94.5L576.5,83.7Z" stroke="#5e5e5e"/><path d="M567.8,100.2L565.4,109.5L568.5,106.5L571.0,96.4Z" stroke="#5e5e5e"/><path d="M562.3,113.8L559.9,120.7L563.0,117.5L565.4,109.5Z" stroke="#5e5e5e"/><path d="M556.8,124.6L554.4,128.9L557.5,126.1L559.9,120.7Z" stroke="#5e5e5e"/><path d="M551.3,132.1L548.9,134.1L552.0,131.7L554.4,128.9Z" stroke="#5e5e5e"/><path d="M545.8,136.6L543.4,136.8L546.5,134.8L548.9,134.1Z"/><path d="M540.3,138.9L537.9,137.9L541.0,136.1L543.4,136.8Z"/><path d="M534.7,139.9L532.3,138.1L535.4,136.1L537.9,137.9Z"/><path d="M529.2,140.0L526.8,137.9L529.9,135.7L532.3,138.1Z"/><path d="M523.7,140.0L521.3,137.7L524.4,135.3L526.8,137.9Z"/><path d="M518.2,139.9L515.8,137.9L518.9,135.4L521.3,137.7Z"/><path d="M512.7,140.0L510.3,138.3L513.4,136.0L515.8,137.9Z"/><path d="M507.2,140.2L504.8,138.9L507.9,137.0L510.3,138.3Z"/><path d="M501.6,140.5L499.2,139.6L502.3,138.0L504.8,138.9Z"/><path d="M496.1,140.8L493.7,140.2L496.8,139.0L499.2,139.6Z"/><path d="M490.6,141.1L488.2,140.6L491.3,139.7L493.7,140.2Z"/><path d="M485.1,141.5L482.7,141.1L485.8,140.3L488.2,140.6Z"/><path d="M479.6,141.9L477.2,141.5L480.3,140.7L482.7,141.1Z"/><path d="M474.1,142.2L471.7,141.7L474.8,141.0L477.2,141.5Z"/><path d="M468.5,142.5L466.1,141.9L469.2,141.2L471.7,141.7Z"/><path d="M463.0,142.7L460.6,142.0L463.7,141.2L466.1,141.9Z"/><path d="M457.5,142.7L455.1,142.0L458.2,141.2L460.6,142.0Z"/><path d="M452.0,142.7L449.6,141.8L452.7,141.1L455.1,142.0Z"/><path d="M446.5,142.6L444.1,141.7L447.2,141.0L449.6,141.8Z"/><path d="M664.0,151.9L661.6,151.0L664.7,150.3L667.1,151.2Z"/><path d="M658.5,151.7L656.1,150.8L659.2,150.1L661.6,151.0Z"/><path d="M653.0,151.5L650.6,150.5L653.7,149.8L656.1,150.8Z"/><path d="M647.5,151.2L645.1,150.1L648.2,149.5L650.6,150.5Z"/><path d="M642.0,150.7L639.6,149.5L642.7,149.0L645.1,150.1Z"/><path d="M636.5,149.8L634.0,148.1L637.1,148.1L639.6,149.5Z"/><path d="M630.9,148.0L628.5,145.6L631.6,146.3L634.0,148.1Z"/><path d="M625.4,144.5L623.0,140.9L626.1,142.8L628.5,145.6Z"/><path d="M619.9,138.5L617.5,133.3L620.6,136.9L623.0,140.9Z"/><path d="M614.4,128.9L612.0,122.0L615.1,127.8L617.5,133.3Z" stroke="#5e5e5e"/><path d="M608.9,115.6L606.5,107.5L609.6,115.4L612.0,122.0Z" stroke="#5e5e5e"/><path d="M603.4,99.7L600.9,91.8L604.0,100.9L606.5,107.5Z" stroke="#5e5e5e"/><path d="M597.8,83.6L595.4,77.8L598.5,86.7L600.9,91.8Z" stroke="#5e5e5e"/><path d="M592.3,71.0L589.9,69.0L593.0,76.0L595.4,77.8Z" stroke="#5e5e5e"/><path d="M586.8,64.9L584.4,67.7L587.5,71.6L589.9,69.0Z" stroke="#5e5e5e"/><path d="M581.3,67.1L578.9,74.0L582.0,74.5L584.4,67.7Z" stroke="#5e5e5e"/><path d="M575.8,76.5L573.4,85.9L576.5,83.7L578.9,74.0Z" stroke="#5e5e5e"/><path d="M570.2,90.6L567.8,100.2L571.0,96.4L573.4,85.9Z" stroke="#5e5e5e"/><path d="M564.7,105.6L562.3,113.8L565.4,109.5L567.8,100.2Z" stroke="#5e5e5e"/><path d="M559.2,118.8L556.8,124.6L559.9,120.7L562.3,113.8Z" stroke="#5e5e5e"/><path d="M553.7,128.8L551.3,132.1L554.4,128.9L556.8,124.6Z" stroke="#5e5e5e"/><path d="M548.2,135.3L545.8,136.6L548.9,134.1L551.3,132.1Z"/><path d="M542.7,139.1L540.3,138.9L543.4,136.8L545.8,136.6Z"/><path d="M537.1,140.9L534.7,139.9L537.9,137.9L540.3,138.9Z"/><path d="M531.6,141.7L529.2,140.0L532.3,138.1L534.7,139.9Z"/><path d="M526.1,141.9L523.7,140.0L526.8,137.9L529.2,140.0Z"/><path d="M520.6,141.8L518.2,139.9L521.3,137.7L523.7,140.0Z"/><path d="M515.1,141.7L512.7,140.0L515.8,137.9L518.2,139.9Z"/><path d="M509.6,141.7L507.2,140.2L510.3,138.3L512.7,140.0Z"/><path d="M504.0,141.7L501.6,140.5L504.8,138.9L507.2,140.2Z"/><path d="M498.5,141.7L496.1,140.8L499.2,139.6L501.6,140.5Z"/><path d="M493.0,141.8L490.6,141.1L493.7,140.2L496.1,140.8Z"/><path d="M487.5,142.0L485.1,141.5L488.2,140.6L490.6,141.1Z"/><path d="M482.0,142.3L479.6,141.9L482.7,141.1L485.1,141.5Z"/><path d="M476.5,142.7L474.1,142.2L477.2,141.5L479.6,141.9Z"/><path d="M470.9,143.0L468.5,142.5L471.7,141.7L474.1,142.2Z"/><path d="M465.4,143.3L463.0,142.7L466.1,141.9L468.5,142.5Z"/><path d="M459.9,143.5L457.5,142.7L460.6,142.0L463.0,142.7Z"/><path d="M454.4,143.5L452.0,142.7L455.1,142.0L457.5,142.7Z"/><path d="M448.9,143.4L446.5,142.6L449.6,141.8L452.0,142.7Z"/><path d="M443.4,143.3L441.0,142.4L444.1,141.7L446.5,142.6Z"/><path d="M666.4,152.9L664.0,151.9L667.1,151.2L669.5,152.1Z"/><path d="M660.9,152.6L658.5,151.7L661.6,151.0L664.0,151.9Z"/><path d="M655.4,152.4L653.0,151.5L656.1,150.8L658.5,151.7Z"/><path d="M649.9,152.1L647.5,151.2L650.6,150.5L653.0,151.5Z"/><path d="M644.4,151.8L642.0,150.7L645.1,150.1L647.5,151.2Z"/><path d="M638.9,151.2L636.5,149.8L639.6,149.5L642.0,150.7Z"/><path d="M633.3,149.9L630.9,148.0L634.0,148.1L636.5,149.8Z"/><path d="M627.8,147.5L625.4,144.5L628.5,145.6L630.9,148.0Z"/><path d="M622.3,143.0L619.9,138.5L623.0,140.9L625.4,144.5Z"/><path d="M616.8,135.4L614.4,128.9L617.5,133.3L619.9,138.5Z" stroke="#5e5e5e"/><path d="M611.3,124.1L608.9,115.6L612.0,122.0L614.4,128.9Z" stroke="#5e5e5e"/><path d="M605.8,109.2L603.4,99.7L606.5,107.5L608.9,115.6Z" stroke="#5e5e5e"/><path d="M600.2,92.6L597.8,83.6L600.9,91.8L603.4,99.7Z" stroke="#5e5e5e"/><path d="M594.7,77.3L592.3,71.0L595.4,77.8L597.8,83.6Z" stroke="#5e5e5e"/><path d="M589.2,66.9L586.8,64.9L589.9,69.0L592.3,71.0Z" stroke="#5e5e5e"/><path d="M583.7,64.3L581.3,67.1L584.4,67.7L586.8,64.9Z" stroke="#5e5e5e"/><path d="M578.2,69.9L575.8,76.5L578.9,74.0L581.3,67.1Z" stroke="#5e5e5e"/><path d="M572.7,82.0L570.2,90.6L573.4,85.9L575.8,76.5Z" stroke="#5e5e5e"/><path d="M567.1,97.2L564.7,105.6L567.8,100.2L570.2,90.6Z" stroke="#5e5e5e"/><path d="M561.6,112.1L559.2,118.8L562.3,113.8L564.7,105.6Z" stroke="#5e5e5e"/><path d="M556.1,124.3L553.7,128.8L556.8,124.6L559.2,118.8Z" stroke="#5e5e5e"/><path d="M550.6,133.0L548.2,135.3L551.3,132.1L553.7,128.8Z" stroke="#5e5e5e"/><path d="M545.1,138.4L542.7,139.1L545.8,136.6L548.2,135.3Z"/><path d="M539.6,141.4L537.1,140.9L540.3,138.9L542.7,139.1Z"/><path d="M534.0,142.9L531.6,141.7L534.7,139.9L537.1,140.9Z"/><path d="M528.5,143.5L526.1,141.9L529.2,140.0L531.6,141.7Z"/><path d="M523.0,143.6L520.6,141.8L523.7,140.0L526.1,141.9Z"/><path d="M517.5,143.5L515.1,141.7L518.2,139.9L520.6,141.8Z"/><path d="M512.0,143.3L509.6,141.7L512.7,140.0L515.1,141.7Z"/><path d="M506.5,143.0L504.0,141.7L507.2,140.2L509.6,141.7Z"/><path d="M500.9,142.8L498.5,141.7L501.6,140.5L504.0,141.7Z"/><path d="M495.4,142.7L493.0,141.8L496.1,140.8L498.5,141.7Z"/><path d="M489.9,142.7L487.5,142.0L490.6,141.1L493.0,141.8Z"/><path d="M484.4,142.9L482.0,142.3L485.1,141.5L487.5,142.0Z"/><path d="M478.9,143.2L476.5,142.7L479.6,141.9L482.0,142.3Z"/><path d="M473.4,143.5L470.9,143.0L474.1,142.2L476.5,142.7Z"/><path d="M467.8,143.9L465.4,143.3L468.5,142.5L470.9,143.0Z"/><path d="M462.3,144.1L459.9,143.5L463.0,142.7L465.4,143.3Z"/><path d="M456.8,144.3L454.4,143.5L457.5,142.7L459.9,143.5Z"/><path d="M451.3,144.3L448.9,143.4L452.0,142.7L454.4,143.5Z"/><path d="M445.8,144.2L443.4,143.3L446.5,142.6L448.9,143.4Z"/><path d="M440.3,144.0L437.9,143.1L441.0,142.4L443.4,143.3Z"/><path d="M668.9,153.8L666.4,152.9L669.5,152.1L672.0,153.1Z"/><path d="M663.3,153.6L660.9,152.6L664.0,151.9L666.4,152.9Z"/><path d="M657.8,153.3L655.4,152.4L658.5,151.7L660.9,152.6Z"/><path d="M652.3,153.1L649.9,152.1L653.0,151.5L655.4,152.4Z"/><path d="M646.8,152.8L644.4,151.8L647.5,151.2L649.9,152.1Z"/><path d="M641.3,152.4L638.9,151.2L642.0,150.7L644.4,151.8Z"/><path d="M635.8,151.5L633.3,149.9L636.5,149.8L638.9,151.2Z"/><path d="M630.2,149.9L627.8,147.5L630.9,148.0L633.3,149.9Z"/><path d="M624.7,146.8L622.3,143.0L625.4,144.5L627.8,147.5Z"/><path d="M619.2,141.1L616.8,135.4L619.9,138.5L622.3,143.0Z"/><path d="M613.7,132.1L611.3,124.1L614.4,128.9L616.8,135.4Z" stroke="#5e5e5e"/><path d="M608.2,119.3L605.8,109.2L608.9,115.6L611.3,124.1Z" stroke="#5e5e5e"/><path d="M602.6,103.5L600.2,92.6L603.4,99.7L605.8,109.2Z" stroke="#5e5e5e"/><path d="M597.1,87.1L594.7,77.3L597.8,83.6L600.2,92.6Z" stroke="#5e5e5e"/><path d="M591.6,73.6L589.2,66.9L592.3,71.0L594.7,77.3Z" stroke="#5e5e5e"/><path d="M586.1,66.3L583.7,64.3L586.8,64.9L589.2,66.9Z" stroke="#5e5e5e"/><path d="M580.6,67.2L578.2,69.9L581.3,67.1L583.7,64.3Z" stroke="#5e5e5e"/><path d="M575.1,75.9L572.7,82.0L575.8,76.5L578.2,69.9Z" stroke="#5e5e5e"/><path d="M569.5,89.7L567.1,97.2L570.2,90.6L572.7,82.0Z" stroke="#5e5e5e"/><path d="M564.0,105.1L561.6,112.1L564.7,105.6L567.1,97.2Z" stroke="#5e5e5e"/><path d="M558.5,119.0L556.1,124.3L559.2,118.8L561.6,112.1Z" stroke="#5e5e5e"/><path d="M553.0,129.8L550.6,133.0L553.7,128.8L556.1,124.3Z" stroke="#5e5e5e"/><path d="M547.5,137.0L545.1,138.4L548.2,135.3L550.6,133.0Z" stroke="#5e5e5e"/><path d="M542.0,141.3L539.6,141.4L542.7,139.1L545.1,138.4Z"/><path d="M536.5,143.6L534.0,142.9L537.1,140.9L539.6,141.4Z"/><path d="M530.9,144.6L528.5,143.5L531.6,141.7L534.0,142.9Z"/><path d="M525.4,145.0L523.0,143.6L526.1,141.9L528.5,143.5Z"/><path d="M519.9,145.1L517.5,143.5L520.6,141.8L523.0,143.6Z"/><path d="M514.4,144.9L512.0,143.3L515.1,141.7L517.5,143.5Z"/><path d="M508.9,144.5L506.5,143.0L509.6,141.7L512.0,143.3Z"/><path d="M503.4,144.2L500.9,142.8L504.0,141.7L506.5,143.0Z"/><path d="M497.8,143.8L495.4,142.7L498.5,141.7L500.9,142.8Z"/><path d="M492.3,143.6L489.9,142.7L493.0,141.8L495.4,142.7Z"/><path d="M486.8,143.6L484.4,142.9L487.5,142.0L489.9,142.7Z"/><path d="M481.3,143.7L478.9,143.2L482.0,142.3L484.4,142.9Z"/><path d="M475.8,144.0L473.4,143.5L476.5,142.7L478.9,143.2Z"/><path d="M470.2,144.4L467.8,143.9L470.9,143.0L473.4,143.5Z"/><path d="M464.7,144.7L462.3,144.1L465.4,143.3L467.8,143.9Z"/><path d="M459.2,145.0L456.8,144.3L459.9,143.5L462.3,144.1Z"/><path d="M453.7,145.0L451.3,144.3L454.4,143.5L456.8,144.3Z"/><path d="M448.2,145.0L445.8,144.2L448.9,143.4L451.3,144.3Z"/><path d="M442.7,144.9L440.3,144.0L443.4,143.3L445.8,144.2Z"/><path d="M437.2,144.7L434.7,143.8L437.9,143.1L440.3,144.0Z"/><path d="M671.3,154.7L668.9,153.8L672.0,153.1L674.4,154.0Z"/><path d="M665.7,154.5L663.3,153.6L666.4,152.9L668.9,153.8Z"/><path d="M660.2,154.3L657.8,153.3L660.9,152.6L663.3,153.6Z"/><path d="M654.7,154.1L652.3,153.1L655.4,152.4L657.8,153.3Z"/><path d="M649.2,153.8L646.8,152.8L649.9,152.1L652.3,153.1Z"/><path d="M643.7,153.5L641.3,152.4L644.4,151.8L646.8,152.8Z"/><path d="M638.2,152.9L635.8,151.5L638.9,151.2L641.3,152.4Z"/><path d="M632.6,151.8L630.2,149.9L633.3,149.9L635.8,151.5Z"/><path d="M627.1,149.7L624.7,146.8L627.8,147.5L630.2,149.9Z"/><path d="M621.6,145.8L619.2,141.1L622.3,143.0L624.7,146.8Z"/><path d="M616.1,139.1L613.7,132.1L616.8,135.4L619.2,141.1Z" stroke="#5e5e5e"/><path d="M610.6,128.8L608.2,119.3L611.3,124.1L613.7,132.1Z" stroke="#5e5e5e"/><path d="M605.1,115.0L602.6,103.5L605.8,109.2L608.2,119.3Z" stroke="#5e5e5e"/><path d="M599.5,99.1L597.1,87.1L600.2,92.6L602.6,103.5Z" stroke="#5e5e5e"/><path d="M594.0,84.0L591.6,73.6L594.7,77.3L597.1,87.1Z" stroke="#5e5e5e"/><path d="M588.5,73.1L586.1,66.3L589.2,66.9L591.6,73.6Z" stroke="#5e5e5e"/><path d="M583.0,69.3L580.6,67.2L583.7,64.3L586.1,66.3Z" stroke="#5e5e5e"/><path d="M577.5,73.6L575.1,75.9L578.2,69.9L580.6,67.2Z" stroke="#5e5e5e"/><path d="M572.0,84.5L569.5,89.7L572.7,82.0L575.1,75.9Z" stroke="#5e5e5e"/><path d="M566.4,98.9L564.0,105.1L567.1,97.2L569.5,89.7Z" stroke="#5e5e5e"/><path d="M560.9,113.6L558.5,119.0L561.6,112.1L564.0,105.1Z" stroke="#5e5e5e"/><path d="M555.4,125.9L553.0,129.8L556.1,124.3L558.5,119.0Z" stroke="#5e5e5e"/><path d="M549.9,134.9L547.5,137.0L550.6,133.0L553.0,129.8Z" stroke="#5e5e5e"/><path d="M544.4,140.6L542.0,141.3L545.1,138.4L547.5,137.0Z"/><path d="M538.9,143.8L536.5,143.6L539.6,141.4L542.0,141.3Z"/><path d="M533.3,145.5L530.9,144.6L534.0,142.9L536.5,143.6Z"/><path d="M527.8,146.2L525.4,145.0L528.5,143.5L530.9,144.6Z"/><path d="M522.3,146.4L519.9,145.1L523.0,143.6L525.4,145.0Z"/><path d="M516.8,146.3L514.4,144.9L517.5,143.5L519.9,145.1Z"/><path d="M511.3,146.0L508.9,144.5L512.0,143.3L514.4,144.9Z"/><path d="M505.8,145.6L503.4,144.2L506.5,143.0L508.9,144.5Z"/><path d="M500.2,145.1L497.8,143.8L500.9,142.8L503.4,144.2Z"/><path d="M494.7,144.7L492.3,143.6L495.4,142.7L497.8,143.8Z"/><path d="M489.2,144.5L486.8,143.6L489.9,142.7L492.3,143.6Z"/><path d="M483.7,144.4L481.3,143.7L484.4,142.9L486.8,143.6Z"/><path d="M478.2,144.6L475.8,144.0L478.9,143.2L481.3,143.7Z"/><path d="M472.7,145.0L470.2,144.4L473.4,143.5L475.8,144.0Z"/><path d="M467.1,145.3L464.7,144.7L467.8,143.9L470.2,144.4Z"/><path d="M461.6,145.6L459.2,145.0L462.3,144.1L464.7,144.7Z"/><path d="M456.1,145.8L453.7,145.0L456.8,144.3L459.2,145.0Z"/><path d="M450.6,145.8L448.2,145.0L451.3,144.3L453.7,145.0Z"/><path d="M445.1,145.8L442.7,144.9L445.8,144.2L448.2,145.0Z"/><path d="M439.6,145.6L437.2,144.7L440.3,144.0L442.7,144.9Z"/><path d="M434.0,145.5L431.6,144.5L434.7,143.8L437.2,144.7Z"/><path d="M673.7,155.6L671.3,154.7L674.4,154.0L676.8,154.9Z"/><path d="M668.1,155.4L665.7,154.5L668.9,153.8L671.3,154.7Z"/><path d="M662.6,155.2L660.2,154.3L663.3,153.6L665.7,154.5Z"/><path d="M657.1,155.0L654.7,154.1L657.8,153.3L660.2,154.3Z"/><path d="M651.6,154.8L649.2,153.8L652.3,153.1L654.7,154.1Z"/><path d="M646.1,154.5L643.7,153.5L646.8,152.8L649.2,153.8Z"/><path d="M640.6,154.1L638.2,152.9L641.3,152.4L643.7,153.5Z"/><path d="M635.0,153.4L632.6,151.8L635.8,151.5L638.2,152.9Z"/><path d="M629.5,152.0L627.1,149.7L630.2,149.9L632.6,151.8Z"/><path d="M624.0,149.4L621.6,145.8L624.7,146.8L627.1,149.7Z"/><path d="M618.5,144.7L616.1,139.1L619.2,141.1L621.6,145.8Z"/><path d="M613.0,137.0L610.6,128.8L613.7,132.1L616.1,139.1Z" stroke="#5e5e5e"/><path d="M607.5,125.8L605.1,115.0L608.2,119.3L610.6,128.8Z" stroke="#5e5e5e"/><path d="M602.0,111.7L599.5,99.1L602.6,103.5L605.1,115.0Z" stroke="#5e5e5e"/><path d="M596.4,96.6L594.0,84.0L597.1,87.1L599.5,99.1Z" stroke="#5e5e5e"/><path d="M590.9,83.6L588.5,73.1L591.6,73.6L594.0,84.0Z" stroke="#5e5e5e"/><path d="M585.4,75.9L583.0,69.3L586.1,66.3L588.5,73.1Z" stroke="#5e5e5e"/><path d="M579.9,75.6L577.5,73.6L580.6,67.2L583.0,69.3Z" stroke="#5e5e5e"/><path d="M574.4,82.5L572.0,84.5L575.1,75.9L577.5,73.6Z" stroke="#5e5e5e"/><path d="M568.9,94.7L566.4,98.9L569.5,89.7L572.0,84.5Z" stroke="#5e5e5e"/><path d="M563.3,108.8L560.9,113.6L564.0,105.1L566.4,98.9Z" stroke="#5e5e5e"/><path d="M557.8,121.9L555.4,125.9L558.5,119.0L560.9,113.6Z" stroke="#5e5e5e"/><path d="M552.3,132.3L549.9,134.9L553.0,129.8L555.4,125.9Z" stroke="#5e5e5e"/><path d="M546.8,139.4L544.4,140.6L547.5,137.0L549.9,134.9Z"/><path d="M541.3,143.7L538.9,143.8L542.0,141.3L544.4,140.6Z"/><path d="M535.8,146.0L533.3,145.5L536.5,143.6L538.9,143.8Z"/><path d="M530.2,147.2L527.8,146.2L530.9,144.6L533.3,145.5Z"/><path d="M524.7,147.6L522.3,146.4L525.4,145.0L527.8,146.2Z"/><path d="M519.2,147.7L516.8,146.3L519.9,145.1L522.3,146.4Z"/><path d="M513.7,147.5L511.3,146.0L514.4,144.9L516.8,146.3Z"/><path d="M508.2,147.1L505.8,145.6L508.9,144.5L511.3,146.0Z"/><path d="M502.6,146.5L500.2,145.1L503.4,144.2L505.8,145.6Z"/><path d="M497.1,146.0L494.7,144.7L497.8,143.8L500.2,145.1Z"/><path d="M491.6,145.6L489.2,144.5L492.3,143.6L494.7,144.7Z"/><path d="M486.1,145.4L483.7,144.4L486.8,143.6L489.2,144.5Z"/><path d="M480.6,145.4L478.2,144.6L481.3,143.7L483.7,144.4Z"/><path d="M475.1,145.6L472.7,145.0L475.8,144.0L478.2,144.6Z"/><path d="M469.5,145.9L467.1,145.3L470.2,144.4L472.7,145.0Z"/><path d="M464.0,146.2L461.6,145.6L464.7,144.7L467.1,145.3Z"/><path d="M458.5,146.5L456.1,145.8L459.2,145.0L461.6,145.6Z"/><path d="M453.0,146.6L450.6,145.8L453.7,145.0L456.1,145.8Z"/><path d="M447.5,146.6L445.1,145.8L448.2,145.0L450.6,145.8Z"/><path d="M442.0,146.5L439.6,145.6L442.7,144.9L445.1,145.8Z"/><path d="M436.4,146.4L434.0,145.5L437.2,144.7L439.6,145.6Z"/><path d="M430.9,146.2L428.5,145.3L431.6,144.5L434.0,145.5Z"/><path d="M676.1,156.6L673.7,155.6L676.8,154.9L679.2,155.8Z"/><path d="M670.6,156.3L668.1,155.4L671.3,154.7L673.7,155.6Z"/><path d="M665.0,156.1L662.6,155.2L665.7,154.5L668.1,155.4Z"/><path d="M659.5,155.9L657.1,155.0L660.2,154.3L662.6,155.2Z"/><path d="M654.0,155.7L651.6,154.8L654.7,154.1L657.1,155.0Z"/><path d="M648.5,155.4L646.1,154.5L649.2,153.8L651.6,154.8Z"/><path d="M643.0,155.1L640.6,154.1L643.7,153.5L646.1,154.5Z"/><path d="M637.5,154.7L635.0,153.4L638.2,152.9L640.6,154.1Z"/><path d="M631.9,153.8L629.5,152.0L632.6,151.8L635.0,153.4Z"/><path d="M626.4,152.2L624.0,149.4L627.1,149.7L629.5,152.0Z"/><path d="M620.9,149.0L618.5,144.7L621.6,145.8L624.0,149.4Z"/><path d="M615.4,143.6L613.0,137.0L616.1,139.1L618.5,144.7Z" stroke="#5e5e5e"/><path d="M609.9,135.1L607.5,125.8L610.6,128.8L613.0,137.0Z" stroke="#5e5e5e"/><path d="M604.4,123.6L602.0,111.7L605.1,115.0L607.5,125.8Z" stroke="#5e5e5e"/><path d="M598.8,109.9L596.4,96.6L599.5,99.1L602.0,111.7Z" stroke="#5e5e5e"/><path d="M593.3,96.5L590.9,83.6L594.0,84.0L596.4,96.6Z" stroke="#5e5e5e"/><path d="M587.8,86.2L585.4,75.9L588.5,73.1L590.9,83.6Z" stroke="#5e5e5e"/><path d="M582.3,81.8L579.9,75.6L583.0,69.3L585.4,75.9Z" stroke="#5e5e5e"/><path d="M576.8,84.5L574.4,82.5L577.5,73.6L579.9,75.6Z" stroke="#5e5e5e"/><path d="M571.3,93.2L568.9,94.7L572.0,84.5L574.4,82.5Z" stroke="#5e5e5e"/><path d="M565.7,105.5L563.3,108.8L566.4,98.9L568.9,94.7Z" stroke="#5e5e5e"/><path d="M560.2,118.4L557.8,121.9L560.9,113.6L563.3,108.8Z" stroke="#5e5e5e"/><path d="M554.7,129.6L552.3,132.3L555.4,125.9L557.8,121.9Z" stroke="#5e5e5e"/><path d="M549.2,137.8L546.8,139.4L549.9,134.9L552.3,132.3Z" stroke="#5e5e5e"/><path d="M543.7,143.2L541.3,143.7L544.4,140.6L546.8,139.4Z"/><path d="M538.2,146.3L535.8,146.0L538.9,143.8L541.3,143.7Z"/><path d="M532.6,147.9L530.2,147.2L533.3,145.5L535.8,146.0Z"/><path d="M527.1,148.6L524.7,147.6L527.8,146.2L530.2,147.2Z"/><path d="M521.6,148.9L519.2,147.7L522.3,146.4L524.7,147.6Z"/><path d="M516.1,148.8L513.7,147.5L516.8,146.3L519.2,147.7Z"/><path d="M510.6,148.4L508.2,147.1L511.3,146.0L513.7,147.5Z"/><path d="M505.1,148.0L502.6,146.5L505.8,145.6L508.2,147.1Z"/><path d="M499.5,147.4L497.1,146.0L500.2,145.1L502.6,146.5Z"/><path d="M494.0,146.9L491.6,145.6L494.7,144.7L497.1,146.0Z"/><path d="M488.5,146.5L486.1,145.4L489.2,144.5L491.6,145.6Z"/><path d="M483.0,146.3L480.6,145.4L483.7,144.4L486.1,145.4Z"/><path d="M477.5,146.3L475.1,145.6L478.2,144.6L480.6,145.4Z"/><path d="M472.0,146.5L469.5,145.9L472.7,145.0L475.1,145.6Z"/><path d="M466.4,146.9L464.0,146.2L467.1,145.3L469.5,145.9Z"/><path d="M460.9,147.1L458.5,146.5L461.6,145.6L464.0,146.2Z"/><path d="M455.4,147.3L453.0,146.6L456.1,145.8L458.5,146.5Z"/><path d="M449.9,147.4L447.5,146.6L450.6,145.8L453.0,146.6Z"/><path d="M444.4,147.4L442.0,146.5L445.1,145.8L447.5,146.6Z"/><path d="M438.9,147.2L436.4,146.4L439.6,145.6L442.0,146.5Z"/><path d="M433.3,147.1L430.9,146.2L434.0,145.5L436.4,146.4Z"/><path d="M427.8,146.9L425.4,146.0L428.5,145.3L430.9,146.2Z"/><path d="M678.5,157.5L676.1,156.6L679.2,155.8L681.6,156.8Z"/><path d="M673.0,157.3L670.6,156.3L673.7,155.6L676.1,156.6Z"/><path d="M667.5,157.1L665.0,156.1L668.1,155.4L670.6,156.3Z"/><path d="M661.9,156.8L659.5,155.9L662.6,155.2L665.0,156.1Z"/><path d="M656.4,156.6L654.0,155.7L657.1,155.0L659.5,155.9Z"/><path d="M650.9,156.4L648.5,155.4L651.6,154.8L654.0,155.7Z"/><path d="M645.4,156.1L643.0,155.1L646.1,154.5L648.5,155.4Z"/><path d="M639.9,155.8L637.5,154.7L640.6,154.1L643.0,155.1Z"/><path d="M634.4,155.2L631.9,153.8L635.0,153.4L637.5,154.7Z"/><path d="M628.8,154.2L626.4,152.2L629.5,152.0L631.9,153.8Z"/><path d="M623.3,152.2L620.9,149.0L624.0,149.4L626.4,152.2Z"/><path d="M617.8,148.6L615.4,143.6L618.5,144.7L620.9,149.0Z"/><path d="M612.3,142.6L609.9,135.1L613.0,137.0L615.4,143.6Z" stroke="#5e5e5e"/><path d="M606.8,133.8L604.4,123.6L607.5,125.8L609.9,135.1Z" stroke="#5e5e5e"/><path d="M601.2,122.5L598.8,109.9L602.0,111.7L604.4,123.6Z" stroke="#5e5e5e"/><path d="M595.7,110.0L593.3,96.5L596.4,96.6L598.8,109.9Z" stroke="#5e5e5e"/><path d="M590.2,98.8L587.8,86.2L590.9,83.6L593.3,96.5Z" stroke="#5e5e5e"/><path d="M584.7,91.5L582.3,81.8L585.4,75.9L587.8,86.2Z" stroke="#5e5e5e"/><path d="M579.2,90.2L576.8,84.5L579.9,75.6L582.3,81.8Z" stroke="#5e5e5e"/><path d="M573.7,95.1L571.3,93.2L574.4,82.5L576.8,84.5Z" stroke="#5e5e5e"/><path d="M568.1,104.6L565.7,105.5L568.9,94.7L571.3,93.2Z" stroke="#5e5e5e"/><path d="M562.6,116.1L560.2,118.4L563.3,108.8L565.7,105.5Z" stroke="#5e5e5e"/><path d="M557.1,127.3L554.7,129.6L557.8,121.9L560.2,118.4Z" stroke="#5e5e5e"/><path d="M551.6,136.2L549.2,137.8L552.3,132.3L554.7,129.6Z" stroke="#5e5e5e"/><path d="M546.1,142.5L543.7,143.2L546.8,139.4L549.2,137.8Z"/><path d="M540.6,146.4L538.2,146.3L541.3,143.7L543.7,143.2Z"/><path d="M535.0,148.5L532.6,147.9L535.8,146.0L538.2,146.3Z"/><path d="M529.5,149.5L527.1,148.6L530.2,147.2L532.6,147.9Z"/><path d="M524.0,149.9L521.6,148.9L524.7,147.6L527.1,148.6Z"/><path d="M518.5,150.0L516.1,148.8L519.2,147.7L521.6,148.9Z"/><path d="M513.0,149.7L510.6,148.4L513.7,147.5L516.1,148.8Z"/><path d="M507.5,149.3L505.1,148.0L508.2,147.1L510.6,148.4Z"/><path d="M501.9,148.8L499.5,147.4L502.6,146.5L505.1,148.0Z"/><path d="M496.4,148.2L494.0,146.9L497.1,146.0L499.5,147.4Z"/><path d="M490.9,147.7L488.5,146.5L491.6,145.6L494.0,146.9Z"/><path d="M485.4,147.4L483.0,146.3L486.1,145.4L488.5,146.5Z"/><path d="M479.9,147.2L477.5,146.3L480.6,145.4L483.0,146.3Z"/><path d="M474.4,147.3L472.0,146.5L475.1,145.6L477.5,146.3Z"/><path d="M468.9,147.5L466.4,146.9L469.5,145.9L472.0,146.5Z"/><path d="M463.3,147.8L460.9,147.1L464.0,146.2L466.4,146.9Z"/><path d="M457.8,148.0L455.4,147.3L458.5,146.5L460.9,147.1Z"/><path d="M452.3,148.2L449.9,147.4L453.0,146.6L455.4,147.3Z"/><path d="M446.8,148.2L444.4,147.4L447.5,146.6L449.9,147.4Z"/><path d="M441.3,148.1L438.9,147.2L442.0,146.5L444.4,147.4Z"/><path d="M435.7,148.0L433.3,147.1L436.4,146.4L438.9,147.2Z"/><path d="M430.2,147.8L427.8,146.9L430.9,146.2L433.3,147.1Z"/><path d="M424.7,147.6L422.3,146.7L425.4,146.0L427.8,146.9Z"/><path d="M680.9,158.4L678.5,157.5L681.6,156.8L684.0,157.7Z"/><path d="M675.4,158.2L673.0,157.3L676.1,156.6L678.5,157.5Z"/><path d="M669.9,158.0L667.5,157.1L670.6,156.3L673.0,157.3Z"/><path d="M664.3,157.8L661.9,156.8L665.0,156.1L667.5,157.1Z"/><path d="M658.8,157.6L656.4,156.6L659.5,155.9L661.9,156.8Z"/><path d="M653.3,157.3L650.9,156.4L654.0,155.7L656.4,156.6Z"/><path d="M647.8,157.1L645.4,156.1L648.5,155.4L650.9,156.4Z"/><path d="M642.3,156.8L639.9,155.8L643.0,155.1L645.4,156.1Z"/><path d="M636.8,156.4L634.4,155.2L637.5,154.7L639.9,155.8Z"/><path d="M631.2,155.8L628.8,154.2L631.9,153.8L634.4,155.2Z"/><path d="M625.7,154.6L623.3,152.2L626.4,152.2L628.8,154.2Z"/><path d="M620.2,152.3L617.8,148.6L620.9,149.0L623.3,152.2Z"/><path d="M614.7,148.3L612.3,142.6L615.4,143.6L617.8,148.6Z"/><path d="M609.2,142.0L606.8,133.8L609.9,135.1L612.3,142.6Z" stroke="#5e5e5e"/><path d="M603.7,133.3L601.2,122.5L604.4,123.6L606.8,133.8Z" stroke="#5e5e5e"/><path d="M598.1,122.7L595.7,110.0L598.8,109.9L601.2,122.5Z" stroke="#5e5e5e"/><path d="M592.6,111.9L590.2,98.8L593.3,96.5L595.7,110.0Z" stroke="#5e5e5e"/><path d="M587.1,103.3L584.7,91.5L587.8,86.2L590.2,98.8Z" stroke="#5e5e5e"/><path d="M581.6,98.9L579.2,90.2L582.3,81.8L584.7,91.5Z" stroke="#5e5e5e"/><path d="M576.1,100.1L573.7,95.1L576.8,84.5L579.2,90.2Z" stroke="#5e5e5e"/><path d="M570.6,106.3L568.1,104.6L571.3,93.2L573.7,95.1Z" stroke="#5e5e5e"/><path d="M565.0,115.7L562.6,116.1L565.7,105.5L568.1,104.6Z" stroke="#5e5e5e"/><path d="M559.5,125.8L557.1,127.3L560.2,118.4L562.6,116.1Z" stroke="#5e5e5e"/><path d="M554.0,134.9L551.6,136.2L554.7,129.6L557.1,127.3Z" stroke="#5e5e5e"/><path d="M548.5,141.7L546.1,142.5L549.2,137.8L551.6,136.2Z" stroke="#5e5e5e"/><path d="M543.0,146.3L540.6,146.4L543.7,143.2L546.1,142.5Z"/><path d="M537.5,148.9L535.0,148.5L538.2,146.3L540.6,146.4Z"/><path d="M531.9,150.3L529.5,149.5L532.6,147.9L535.0,148.5Z"/><path d="M526.4,150.9L524.0,149.9L527.1,148.6L529.5,149.5Z"/><path d="M520.9,151.0L518.5,150.0L521.6,148.9L524.0,149.9Z"/><path d="M515.4,150.9L513.0,149.7L516.1,148.8L518.5,150.0Z"/><path d="M509.9,150.6L507.5,149.3L510.6,148.4L513.0,149.7Z"/><path d="M504.4,150.2L501.9,148.8L505.1,148.0L507.5,149.3Z"/><path d="M498.8,149.6L496.4,148.2L499.5,147.4L501.9,148.8Z"/><path d="M493.3,149.1L490.9,147.7L494.0,146.9L496.4,148.2Z"/><path d="M487.8,148.6L485.4,147.4L488.5,146.5L490.9,147.7Z"/><path d="M482.3,148.3L479.9,147.2L483.0,146.3L485.4,147.4Z"/><path d="M476.8,148.2L474.4,147.3L477.5,146.3L479.9,147.2Z"/><path d="M471.3,148.3L468.9,147.5L472.0,146.5L474.4,147.3Z"/><path d="M465.7,148.5L463.3,147.8L466.4,146.9L468.9,147.5Z"/><path d="M460.2,148.8L457.8,148.0L460.9,147.1L463.3,147.8Z"/><path d="M454.7,148.9L452.3,148.2L455.4,147.3L457.8,148.0Z"/><path d="M449.2,149.0L446.8,148.2L449.9,147.4L452.3,148.2Z"/><path d="M443.7,149.0L441.3,148.1L444.4,147.4L446.8,148.2Z"/><path d="M438.2,148.9L435.7,148.0L438.9,147.2L441.3,148.1Z"/><path d="M432.6,148.7L430.2,147.8L433.3,147.1L435.7,148.0Z"/><path d="M427.1,148.5L424.7,147.6L427.8,146.9L430.2,147.8Z"/><path d="M421.6,148.3L419.2,147.4L422.3,146.7L424.7,147.6Z"/><path d="M677.8,159.1L675.4,158.2L678.5,157.5L680.9,158.4Z"/><path d="M672.3,158.9L669.9,158.0L673.0,157.3L675.4,158.2Z"/><path d="M666.8,158.7L664.3,157.8L667.5,157.1L669.9,158.0Z"/><path d="M661.2,158.5L658.8,157.6L661.9,156.8L664.3,157.8Z"/><path d="M655.7,158.3L653.3,157.3L656.4,156.6L658.8,157.6Z"/><path d="M650.2,158.0L647.8,157.1L650.9,156.4L653.3,157.3Z"/><path d="M644.7,157.8L642.3,156.8L645.4,156.1L647.8,157.1Z"/><path d="M639.2,157.5L636.8,156.4L639.9,155.8L642.3,156.8Z"/><path d="M633.6,157.1L631.2,155.8L634.4,155.2L636.8,156.4Z"/><path d="M628.1,156.3L625.7,154.6L628.8,154.2L631.2,155.8Z"/><path d="M622.6,154.9L620.2,152.3L623.3,152.2L625.7,154.6Z"/><path d="M617.1,152.4L614.7,148.3L617.8,148.6L620.2,152.3Z"/><path d="M611.6,148.2L609.2,142.0L612.3,142.6L614.7,148.3Z"/><path d="M606.1,141.9L603.7,133.3L606.8,133.8L609.2,142.0Z" stroke="#5e5e5e"/><path d="M600.5,133.7L598.1,122.7L601.2,122.5L603.7,133.3Z" stroke="#5e5e5e"/><path d="M595.0,124.3L592.6,111.9L595.7,110.0L598.1,122.7Z" stroke="#5e5e5e"/><path d="M589.5,115.6L587.1,103.3L590.2,98.8L592.6,111.9Z" stroke="#5e5e5e"/><path d="M584.0,109.5L581.6,98.9L584.7,91.5L587.1,103.3Z" stroke="#5e5e5e"/><path d="M578.5,107.7L576.1,100.1L579.2,90.2L581.6,98.9Z" stroke="#5e5e5e"/><path d="M573.0,110.6L570.6,106.3L573.7,95.1L576.1,100.1Z" stroke="#5e5e5e"/><path d="M567.5,117.3L565.0,115.7L568.1,104.6L570.6,106.3Z" stroke="#5e5e5e"/><path d="M561.9,125.8L559.5,125.8L562.6,116.1L565.0,115.7Z" stroke="#5e5e5e"/><path d="M556.4,134.2L554.0,134.9L557.1,127.3L559.5,125.8Z" stroke="#5e5e5e"/><path d="M550.9,141.2L548.5,141.7L551.6,136.2L554.0,134.9Z" stroke="#5e5e5e"/><path d="M545.4,146.1L543.0,146.3L546.1,142.5L548.5,141.7Z"/><path d="M539.9,149.2L537.5,148.9L540.6,146.4L543.0,146.3Z"/><path d="M534.3,150.9L531.9,150.3L535.0,148.5L537.5,148.9Z"/><path d="M528.8,151.7L526.4,150.9L529.5,149.5L531.9,150.3Z"/><path d="M523.3,152.0L520.9,151.0L524.0,149.9L526.4,150.9Z"/><path d="M517.8,152.0L515.4,150.9L518.5,150.0L520.9,151.0Z"/><path d="M512.3,151.8L509.9,150.6L513.0,149.7L515.4,150.9Z"/><path d="M506.8,151.5L504.4,150.2L507.5,149.3L509.9,150.6Z"/><path d="M501.2,151.0L498.8,149.6L501.9,148.8L504.4,150.2Z"/><path d="M495.7,150.5L493.3,149.1L496.4,148.2L498.8,149.6Z"/><path d="M490.2,149.9L487.8,148.6L490.9,147.7L493.3,149.1Z"/><path d="M484.7,149.5L482.3,148.3L485.4,147.4L487.8,148.6Z"/><path d="M479.2,149.3L476.8,148.2L479.9,147.2L482.3,148.3Z"/><path d="M473.7,149.3L471.3,148.3L474.4,147.3L476.8,148.2Z"/><path d="M468.1,149.4L465.7,148.5L468.9,147.5L471.3,148.3Z"/><path d="M462.6,149.5L460.2,148.8L463.3,147.8L465.7,148.5Z"/><path d="M457.1,149.7L454.7,148.9L457.8,148.0L460.2,148.8Z"/><path d="M451.6,149.8L449.2,149.0L452.3,148.2L454.7,148.9Z"/><path d="M446.1,149.8L443.7,149.0L446.8,148.2L449.2,149.0Z"/><path d="M440.6,149.7L438.2,148.9L441.3,148.1L443.7,149.0Z"/><path d="M435.0,149.6L432.6,148.7L435.7,148.0L438.2,148.9Z"/><path d="M429.5,149.4L427.1,148.5L430.2,147.8L432.6,148.7Z"/><path d="M424.0,149.2L421.6,148.3L424.7,147.6L427.1,148.5Z"/><path d="M674.7,159.8L672.3,158.9L675.4,158.2L677.8,159.1Z"/><path d="M669.2,159.6L666.8,158.7L669.9,158.0L672.3,158.9Z"/><path d="M663.6,159.4L661.2,158.5L664.3,157.8L666.8,158.7Z"/><path d="M658.1,159.2L655.7,158.3L658.8,157.6L661.2,158.5Z"/><path d="M652.6,159.0L650.2,158.0L653.3,157.3L655.7,158.3Z"/><path d="M647.1,158.7L644.7,157.8L647.8,157.1L650.2,158.0Z"/><path d="M641.6,158.5L639.2,157.5L642.3,156.8L644.7,157.8Z"/><path d="M636.1,158.2L633.6,157.1L636.8,156.4L639.2,157.5Z"/><path d="M630.5,157.7L628.1,156.3L631.2,155.8L633.6,157.1Z"/><path d="M625.0,156.9L622.6,154.9L625.7,154.6L628.1,156.3Z"/><path d="M619.5,155.3L617.1,152.4L620.2,152.3L622.6,154.9Z"/><path d="M614.0,152.7L611.6,148.2L614.7,148.3L617.1,152.4Z"/><path d="M608.5,148.4L606.1,141.9L609.2,142.0L611.6,148.2Z"/><path d="M603.0,142.4L600.5,133.7L603.7,133.3L606.1,141.9Z" stroke="#5e5e5e"/><path d="M597.4,135.0L595.0,124.3L598.1,122.7L600.5,133.7Z" stroke="#5e5e5e"/><path d="M591.9,127.2L589.5,115.6L592.6,111.9L595.0,124.3Z" stroke="#5e5e5e"/><path d="M586.4,120.6L584.0,109.5L587.1,103.3L589.5,115.6Z" stroke="#5e5e5e"/><path d="M580.9,116.9L578.5,107.7L581.6,98.9L584.0,109.5Z" stroke="#5e5e5e"/><path d="M575.4,117.1L573.0,110.6L576.1,100.1L578.5,107.7Z" stroke="#5e5e5e"/><path d="M569.9,120.9L567.5,117.3L570.6,106.3L573.0,110.6Z" stroke="#5e5e5e"/><path d="M564.3,127.2L561.9,125.8L565.0,115.7L567.5,117.3Z" stroke="#5e5e5e"/><path d="M558.8,134.5L556.4,134.2L559.5,125.8L561.9,125.8Z" stroke="#5e5e5e"/><path d="M553.3,141.0L550.9,141.2L554.0,134.9L556.4,134.2Z" stroke="#5e5e5e"/><path d="M547.8,146.1L545.4,146.1L548.5,141.7L550.9,141.2Z"/><path d="M542.3,149.5L539.9,149.2L543.0,146.3L545.4,146.1Z"/><path d="M536.8,151.5L534.3,150.9L537.5,148.9L539.9,149.2Z"/><path d="M531.2,152.5L528.8,151.7L531.9,150.3L534.3,150.9Z"/><path d="M525.7,153.0L523.3,152.0L526.4,150.9L528.8,151.7Z"/><path d="M520.2,153.1L517.8,152.0L520.9,151.0L523.3,152.0Z"/><path d="M514.7,153.0L512.3,151.8L515.4,150.9L517.8,152.0Z"/><path d="M509.2,152.7L506.8,151.5L509.9,150.6L512.3,151.8Z"/><path d="M503.7,152.3L501.2,151.0L504.4,150.2L506.8,151.5Z"/><path d="M498.1,151.8L495.7,150.5L498.8,149.6L501.2,151.0Z"/><path d="M492.6,151.3L490.2,149.9L493.3,149.1L495.7,150.5Z"/><path d="M487.1,150.8L484.7,149.5L487.8,148.6L490.2,149.9Z"/><path d="M481.6,150.5L479.2,149.3L482.3,148.3L484.7,149.5Z"/><path d="M476.1,150.3L473.7,149.3L476.8,148.2L479.2,149.3Z"/><path d="M470.6,150.3L468.1,149.4L471.3,148.3L473.7,149.3Z"/><path d="M465.0,150.4L462.6,149.5L465.7,148.5L468.1,149.4Z"/><path d="M459.5,150.5L457.1,149.7L460.2,148.8L462.6,149.5Z"/><path d="M454.0,150.6L451.6,149.8L454.7,148.9L457.1,149.7Z"/><path d="M448.5,150.7L446.1,149.8L449.2,149.0L451.6,149.8Z"/><path d="M443.0,150.6L440.6,149.7L443.7,149.0L446.1,149.8Z"/><path d="M437.5,150.5L435.0,149.6L438.2,148.9L440.6,149.7Z"/><path d="M431.9,150.3L429.5,149.4L432.6,148.7L435.0,149.6Z"/><path d="M426.4,150.2L424.0,149.2L427.1,148.5L429.5,149.4Z"/><path d="M671.6,160.5L669.2,159.6L672.3,158.9L674.7,159.8Z"/><path d="M666.1,160.3L663.6,159.4L666.8,158.7L669.2,159.6Z"/><path d="M660.5,160.1L658.1,159.2L661.2,158.5L663.6,159.4Z"/><path d="M655.0,159.9L652.6,159.0L655.7,158.3L658.1,159.2Z"/><path d="M649.5,159.7L647.1,158.7L650.2,158.0L652.6,159.0Z"/><path d="M644.0,159.4L641.6,158.5L644.7,157.8L647.1,158.7Z"/><path d="M638.5,159.2L636.1,158.2L639.2,157.5L641.6,158.5Z"/><path d="M632.9,158.8L630.5,157.7L633.6,157.1L636.1,158.2Z"/><path d="M627.4,158.3L625.0,156.9L628.1,156.3L630.5,157.7Z"/><path d="M621.9,157.4L619.5,155.3L622.6,154.9L625.0,156.9Z"/><path d="M616.4,155.8L614.0,152.7L617.1,152.4L619.5,155.3Z"/><path d="M610.9,153.1L608.5,148.4L611.6,148.2L614.0,152.7Z"/><path d="M605.4,149.0L603.0,142.4L606.1,141.9L608.5,148.4Z"/><path d="M599.9,143.5L597.4,135.0L600.5,133.7L603.0,142.4Z" stroke="#5e5e5e"/><path d="M594.3,137.2L591.9,127.2L595.0,124.3L597.4,135.0Z" stroke="#5e5e5e"/><path d="M588.8,131.1L586.4,120.6L589.5,115.6L591.9,127.2Z" stroke="#5e5e5e"/><path d="M583.3,126.6L580.9,116.9L584.0,109.5L586.4,120.6Z" stroke="#5e5e5e"/><path d="M577.8,124.8L575.4,117.1L578.5,107.7L580.9,116.9Z" stroke="#5e5e5e"/><path d="M572.3,126.2L569.9,120.9L573.0,110.6L575.4,117.1Z" stroke="#5e5e5e"/><path d="M566.8,130.2L564.3,127.2L567.5,117.3L569.9,120.9Z" stroke="#5e5e5e"/><path d="M561.2,135.8L558.8,134.5L561.9,125.8L564.3,127.2Z" stroke="#5e5e5e"/><path d="M555.7,141.5L553.3,141.0L556.4,134.2L558.8,134.5Z" stroke="#5e5e5e"/><path d="M550.2,146.4L547.8,146.1L550.9,141.2L553.3,141.0Z"/><path d="M544.7,149.9L542.3,149.5L545.4,146.1L547.8,146.1Z"/><path d="M539.2,152.1L536.8,151.5L539.9,149.2L542.3,149.5Z"/><path d="M533.6,153.3L531.2,152.5L534.3,150.9L536.8,151.5Z"/><path d="M528.1,153.9L525.7,153.0L528.8,151.7L531.2,152.5Z"/><path d="M522.6,154.0L520.2,153.1L523.3,152.0L525.7,153.0Z"/><path d="M517.1,154.0L514.7,153.0L517.8,152.0L520.2,153.1Z"/><path d="M511.6,153.8L509.2,152.7L512.3,151.8L514.7,153.0Z"/><path d="M506.1,153.5L503.7,152.3L506.8,151.5L509.2,152.7Z"/><path d="M500.6,153.1L498.1,151.8L501.2,151.0L503.7,152.3Z"/><path d="M495.0,152.6L492.6,151.3L495.7,150.5L498.1,151.8Z"/><path d="M489.5,152.1L487.1,150.8L490.2,149.9L492.6,151.3Z"/><path d="M484.0,151.7L481.6,150.5L484.7,149.5L487.1,150.8Z"/><path d="M478.5,151.4L476.1,150.3L479.2,149.3L481.6,150.5Z"/><path d="M473.0,151.3L470.6,150.3L473.7,149.3L476.1,150.3Z"/><path d="M467.4,151.3L465.0,150.4L468.1,149.4L470.6,150.3Z"/><path d="M461.9,151.4L459.5,150.5L462.6,149.5L465.0,150.4Z"/><path d="M456.4,151.4L454.0,150.6L457.1,149.7L459.5,150.5Z"/><path d="M450.9,151.5L448.5,150.7L451.6,149.8L454.0,150.6Z"/><path d="M445.4,151.5L443.0,150.6L446.1,149.8L448.5,150.7Z"/><path d="M439.9,151.4L437.5,150.5L440.6,149.7L443.0,150.6Z"/><path d="M434.4,151.2L431.9,150.3L435.0,149.6L437.5,150.5Z"/><path d="M428.8,151.1L426.4,150.2L429.5,149.4L431.9,150.3Z"/><path d="M668.5,161.3L666.1,160.3L669.2,159.6L671.6,160.5Z"/><path d="M662.9,161.0L660.5,160.1L663.6,159.4L666.1,160.3Z"/><path d="M657.4,160.8L655.0,159.9L658.1,159.2L660.5,160.1Z"/><path d="M651.9,160.6L649.5,159.7L652.6,159.0L655.0,159.9Z"/><path d="M646.4,160.4L644.0,159.4L647.1,158.7L649.5,159.7Z"/><path d="M640.9,160.2L638.5,159.2L641.6,158.5L644.0,159.4Z"/><path d="M635.4,159.9L632.9,158.8L636.1,158.2L638.5,159.2Z"/><path d="M629.8,159.5L627.4,158.3L630.5,157.7L632.9,158.8Z"/><path d="M624.3,159.0L621.9,157.4L625.0,156.9L627.4,158.3Z"/><path d="M618.8,158.0L616.4,155.8L619.5,155.3L621.9,157.4Z"/><path d="M613.3,156.3L610.9,153.1L614.0,152.7L616.4,155.8Z"/><path d="M607.8,153.7L605.4,149.0L608.5,148.4L610.9,153.1Z"/><path d="M602.3,150.0L599.9,143.5L603.0,142.4L605.4,149.0Z"/><path d="M596.7,145.2L594.3,137.2L597.4,135.0L599.9,143.5Z" stroke="#5e5e5e"/><path d="M591.2,140.1L588.8,131.1L591.9,127.2L594.3,137.2Z" stroke="#5e5e5e"/><path d="M585.7,135.6L583.3,126.6L586.4,120.6L588.8,131.1Z" stroke="#5e5e5e"/><path d="M580.2,132.8L577.8,124.8L580.9,116.9L583.3,126.6Z" stroke="#5e5e5e"/><path d="M574.7,132.4L572.3,126.2L575.4,117.1L577.8,124.8Z" stroke="#5e5e5e"/><path d="M569.2,134.5L566.8,130.2L569.9,120.9L572.3,126.2Z" stroke="#5e5e5e"/><path d="M563.6,138.3L561.2,135.8L564.3,127.2L566.8,130.2Z" stroke="#5e5e5e"/><path d="M558.1,142.8L555.7,141.5L558.8,134.5L561.2,135.8Z" stroke="#5e5e5e"/><path d="M552.6,147.1L550.2,146.4L553.3,141.0L555.7,141.5Z"/><path d="M547.1,150.4L544.7,149.9L547.8,146.1L550.2,146.4Z"/><path d="M541.6,152.7L539.2,152.1L542.3,149.5L544.7,149.9Z"/><path d="M536.1,154.1L533.6,153.3L536.8,151.5L539.2,152.1Z"/><path d="M530.5,154.7L528.1,153.9L531.2,152.5L533.6,153.3Z"/><path d="M525.0,155.0L522.6,154.0L525.7,153.0L528.1,153.9Z"/><path d="M519.5,155.0L517.1,154.0L520.2,153.1L522.6,154.0Z"/><path d="M514.0,154.9L511.6,153.8L514.7,153.0L517.1,154.0Z"/><path d="M508.5,154.6L506.1,153.5L509.2,152.7L511.6,153.8Z"/><path d="M503.0,154.3L500.6,153.1L503.7,152.3L506.1,153.5Z"/><path d="M497.4,153.9L495.0,152.6L498.1,151.8L500.6,153.1Z"/><path d="M491.9,153.4L489.5,152.1L492.6,151.3L495.0,152.6Z"/><path d="M486.4,153.0L484.0,151.7L487.1,150.8L489.5,152.1Z"/><path d="M480.9,152.7L478.5,151.4L481.6,150.5L484.0,151.7Z"/><path d="M475.4,152.4L473.0,151.3L476.1,150.3L478.5,151.4Z"/><path d="M469.9,152.3L467.4,151.3L470.6,150.3L473.0,151.3Z"/><path d="M464.3,152.3L461.9,151.4L465.0,150.4L467.4,151.3Z"/><path d="M458.8,152.3L456.4,151.4L459.5,150.5L461.9,151.4Z"/><path d="M453.3,152.3L450.9,151.5L454.0,150.6L456.4,151.4Z"/><path d="M447.8,152.3L445.4,151.5L448.5,150.7L450.9,151.5Z"/><path d="M442.3,152.3L439.9,151.4L443.0,150.6L445.4,151.5Z"/><path d="M436.8,152.1L434.4,151.2L437.5,150.5L439.9,151.4Z"/><path d="M431.2,152.0L428.8,151.1L431.9,150.3L434.4,151.2Z"/><path d="M665.4,162.0L662.9,161.0L666.1,160.3L668.5,161.3Z"/><path d="M659.8,161.7L657.4,160.8L660.5,160.1L662.9,161.0Z"/><path d="M654.3,161.5L651.9,160.6L655.0,159.9L657.4,160.8Z"/><path d="M648.8,161.3L646.4,160.4L649.5,159.7L651.9,160.6Z"/><path d="M643.3,161.1L640.9,160.2L644.0,159.4L646.4,160.4Z"/><path d="M637.8,160.9L635.4,159.9L638.5,159.2L640.9,160.2Z"/><path d="M632.2,160.6L629.8,159.5L632.9,158.8L635.4,159.9Z"/><path d="M626.7,160.2L624.3,159.0L627.4,158.3L629.8,159.5Z"/><path d="M621.2,159.6L618.8,158.0L621.9,157.4L624.3,159.0Z"/><path d="M615.7,158.6L613.3,156.3L616.4,155.8L618.8,158.0Z"/><path d="M610.2,157.0L607.8,153.7L610.9,153.1L613.3,156.3Z"/><path d="M604.7,154.6L602.3,150.0L605.4,149.0L607.8,153.7Z"/><path d="M599.1,151.3L596.7,145.2L599.9,143.5L602.3,150.0Z"/><path d="M593.6,147.4L591.2,140.1L594.3,137.2L596.7,145.2Z" stroke="#5e5e5e"/><path d="M588.1,143.5L585.7,135.6L588.8,131.1L591.2,140.1Z" stroke="#5e5e5e"/><path d="M582.6,140.4L580.2,132.8L583.3,126.6L585.7,135.6Z" stroke="#5e5e5e"/><path d="M577.1,138.9L574.7,132.4L577.8,124.8L580.2,132.8Z" stroke="#5e5e5e"/><path d="M571.6,139.4L569.2,134.5L572.3,126.2L574.7,132.4Z" stroke="#5e5e5e"/><path d="M566.0,141.6L563.6,138.3L566.8,130.2L569.2,134.5Z" stroke="#5e5e5e"/><path d="M560.5,144.8L558.1,142.8L561.2,135.8L563.6,138.3Z" stroke="#5e5e5e"/><path d="M555.0,148.3L552.6,147.1L555.7,141.5L558.1,142.8Z"/><path d="M549.5,151.3L547.1,150.4L550.2,146.4L552.6,147.1Z"/><path d="M544.0,153.5L541.6,152.7L544.7,149.9L547.1,150.4Z"/><path d="M538.5,154.8L536.1,154.1L539.2,152.1L541.6,152.7Z"/><path d="M533.0,155.6L530.5,154.7L533.6,153.3L536.1,154.1Z"/><path d="M527.4,155.9L525.0,155.0L528.1,153.9L530.5,154.7Z"/><path d="M521.9,155.9L519.5,155.0L522.6,154.0L525.0,155.0Z"/><path d="M516.4,155.9L514.0,154.9L517.1,154.0L519.5,155.0Z"/><path d="M510.9,155.7L508.5,154.6L511.6,153.8L514.0,154.9Z"/><path d="M505.4,155.4L503.0,154.3L506.1,153.5L508.5,154.6Z"/><path d="M499.8,155.0L497.4,153.9L500.6,153.1L503.0,154.3Z"/><path d="M494.3,154.7L491.9,153.4L495.0,152.6L497.4,153.9Z"/><path d="M488.8,154.3L486.4,153.0L489.5,152.1L491.9,153.4Z"/><path d="M483.3,153.9L480.9,152.7L484.0,151.7L486.4,153.0Z"/><path d="M477.8,153.6L475.4,152.4L478.5,151.4L480.9,152.7Z"/><path d="M472.3,153.4L469.9,152.3L473.0,151.3L475.4,152.4Z"/><path d="M466.8,153.3L464.3,152.3L467.4,151.3L469.9,152.3Z"/><path d="M461.2,153.2L458.8,152.3L461.9,151.4L464.3,152.3Z"/><path d="M455.7,153.2L453.3,152.3L456.4,151.4L458.8,152.3Z"/><path d="M450.2,153.2L447.8,152.3L450.9,151.5L453.3,152.3Z"/><path d="M444.7,153.1L442.3,152.3L445.4,151.5L447.8,152.3Z"/><path d="M439.2,153.0L436.8,152.1L439.9,151.4L442.3,152.3Z"/><path d="M433.6,152.9L431.2,152.0L434.4,151.2L436.8,152.1Z"/><path d="M662.2,162.7L659.8,161.7L662.9,161.0L665.4,162.0Z"/><path d="M656.7,162.5L654.3,161.5L657.4,160.8L659.8,161.7Z"/><path d="M651.2,162.2L648.8,161.3L651.9,160.6L654.3,161.5Z"/><path d="M645.7,162.0L643.3,161.1L646.4,160.4L648.8,161.3Z"/><path d="M640.2,161.8L637.8,160.9L640.9,160.2L643.3,161.1Z"/><path d="M634.7,161.6L632.2,160.6L635.4,159.9L637.8,160.9Z"/><path d="M629.1,161.3L626.7,160.2L629.8,159.5L632.2,160.6Z"/><path d="M623.6,160.9L621.2,159.6L624.3,159.0L626.7,160.2Z"/><path d="M618.1,160.3L615.7,158.6L618.8,158.0L621.2,159.6Z"/><path d="M612.6,159.3L610.2,157.0L613.3,156.3L615.7,158.6Z"/><path d="M607.1,157.8L604.7,154.6L607.8,153.7L610.2,157.0Z"/><path d="M601.6,155.6L599.1,151.3L602.3,150.0L604.7,154.6Z"/><path d="M596.0,152.9L593.6,147.4L596.7,145.2L599.1,151.3Z"/><path d="M590.5,149.8L588.1,143.5L591.2,140.1L593.6,147.4Z" stroke="#5e5e5e"/><path d="M585.0,147.0L582.6,140.4L585.7,135.6L588.1,143.5Z" stroke="#5e5e5e"/><path d="M579.5,145.1L577.1,138.9L580.2,132.8L582.6,140.4Z" stroke="#5e5e5e"/><path d="M574.0,144.5L571.6,139.4L574.7,132.4L577.1,138.9Z" stroke="#5e5e5e"/><path d="M568.5,145.4L566.0,141.6L569.2,134.5L571.6,139.4Z" stroke="#5e5e5e"/><path d="M562.9,147.4L560.5,144.8L563.6,138.3L566.0,141.6Z" stroke="#5e5e5e"/><path d="M557.4,149.9L555.0,148.3L558.1,142.8L560.5,144.8Z"/><path d="M551.9,152.4L549.5,151.3L552.6,147.1L555.0,148.3Z"/><path d="M546.4,154.3L544.0,153.5L547.1,150.4L549.5,151.3Z"/><path d="M540.9,155.7L538.5,154.8L541.6,152.7L544.0,153.5Z"/><path d="M535.4,156.4L533.0,155.6L536.1,154.1L538.5,154.8Z"/><path d="M529.8,156.8L527.4,155.9L530.5,154.7L533.0,155.6Z"/><path d="M524.3,156.9L521.9,155.9L525.0,155.0L527.4,155.9Z"/><path d="M518.8,156.8L516.4,155.9L519.5,155.0L521.9,155.9Z"/><path d="M513.3,156.7L510.9,155.7L514.0,154.9L516.4,155.9Z"/><path d="M507.8,156.4L505.4,155.4L508.5,154.6L510.9,155.7Z"/><path d="M502.3,156.2L499.8,155.0L503.0,154.3L505.4,155.4Z"/><path d="M496.7,155.8L494.3,154.7L497.4,153.9L499.8,155.0Z"/><path d="M491.2,155.5L488.8,154.3L491.9,153.4L494.3,154.7Z"/><path d="M485.7,155.1L483.3,153.9L486.4,153.0L488.8,154.3Z"/><path d="M480.2,154.8L477.8,153.6L480.9,152.7L483.3,153.9Z"/><path d="M474.7,154.5L472.3,153.4L475.4,152.4L477.8,153.6Z"/><path d="M469.2,154.3L466.8,153.3L469.9,152.3L472.3,153.4Z"/><path d="M463.6,154.2L461.2,153.2L464.3,152.3L466.8,153.3Z"/><path d="M458.1,154.1L455.7,153.2L458.8,152.3L461.2,153.2Z"/><path d="M452.6,154.1L450.2,153.2L453.3,152.3L455.7,153.2Z"/><path d="M447.1,154.0L444.7,153.1L447.8,152.3L450.2,153.2Z"/><path d="M441.6,153.9L439.2,153.0L442.3,152.3L444.7,153.1Z"/><path d="M436.1,153.8L433.6,152.9L436.8,152.1L439.2,153.0Z"/><path d="M659.1,163.4L656.7,162.5L659.8,161.7L662.2,162.7Z"/><path d="M653.6,163.2L651.2,162.2L654.3,161.5L656.7,162.5Z"/><path d="M648.1,163.0L645.7,162.0L648.8,161.3L651.2,162.2Z"/><path d="M642.6,162.7L640.2,161.8L643.3,161.1L645.7,162.0Z"/><path d="M637.1,162.5L634.7,161.6L637.8,160.9L640.2,161.8Z"/><path d="M631.6,162.3L629.1,161.3L632.2,160.6L634.7,161.6Z"/><path d="M626.0,162.0L623.6,160.9L626.7,160.2L629.1,161.3Z"/><path d="M620.5,161.6L618.1,160.3L621.2,159.6L623.6,160.9Z"/><path d="M615.0,161.0L612.6,159.3L615.7,158.6L618.1,160.3Z"/><path d="M609.5,160.0L607.1,157.8L610.2,157.0L612.6,159.3Z"/><path d="M604.0,158.7L601.6,155.6L604.7,154.6L607.1,157.8Z"/><path d="M598.4,156.8L596.0,152.9L599.1,151.3L601.6,155.6Z"/><path d="M592.9,154.6L590.5,149.8L593.6,147.4L596.0,152.9Z"/><path d="M587.4,152.4L585.0,147.0L588.1,143.5L590.5,149.8Z"/><path d="M581.9,150.5L579.5,145.1L582.6,140.4L585.0,147.0Z" stroke="#5e5e5e"/><path d="M576.4,149.4L574.0,144.5L577.1,138.9L579.5,145.1Z" stroke="#5e5e5e"/><path d="M570.9,149.4L568.5,145.4L571.6,139.4L574.0,144.5Z" stroke="#5e5e5e"/><path d="M565.4,150.3L562.9,147.4L566.0,141.6L568.5,145.4Z" stroke="#5e5e5e"/><path d="M559.8,152.0L557.4,149.9L560.5,144.8L562.9,147.4Z"/><path d="M554.3,153.8L551.9,152.4L555.0,148.3L557.4,149.9Z"/><path d="M548.8,155.4L546.4,154.3L549.5,151.3L551.9,152.4Z"/><path d="M543.3,156.6L540.9,155.7L544.0,153.5L546.4,154.3Z"/><path d="M537.8,157.3L535.4,156.4L538.5,154.8L540.9,155.7Z"/><path d="M532.2,157.7L529.8,156.8L533.0,155.6L535.4,156.4Z"/><path d="M526.7,157.8L524.3,156.9L527.4,155.9L529.8,156.8Z"/><path d="M521.2,157.8L518.8,156.8L521.9,155.9L524.3,156.9Z"/><path d="M515.7,157.6L513.3,156.7L516.4,155.9L518.8,156.8Z"/><path d="M510.2,157.4L507.8,156.4L510.9,155.7L513.3,156.7Z"/><path d="M504.7,157.2L502.3,156.2L505.4,155.4L507.8,156.4Z"/><path d="M499.1,156.9L496.7,155.8L499.8,155.0L502.3,156.2Z"/><path d="M493.6,156.6L491.2,155.5L494.3,154.7L496.7,155.8Z"/><path d="M488.1,156.2L485.7,155.1L488.8,154.3L491.2,155.5Z"/><path d="M482.6,155.9L480.2,154.8L483.3,153.9L485.7,155.1Z"/><path d="M477.1,155.6L474.7,154.5L477.8,153.6L480.2,154.8Z"/><path d="M471.6,155.4L469.2,154.3L472.3,153.4L474.7,154.5Z"/><path d="M466.1,155.2L463.6,154.2L466.8,153.3L469.2,154.3Z"/><path d="M460.5,155.1L458.1,154.1L461.2,153.2L463.6,154.2Z"/><path d="M455.0,155.0L452.6,154.1L455.7,153.2L458.1,154.1Z"/><path d="M449.5,154.9L447.1,154.0L450.2,153.2L452.6,154.1Z"/><path d="M444.0,154.8L441.6,153.9L444.7,153.1L447.1,154.0Z"/><path d="M438.5,154.7L436.1,153.8L439.2,153.0L441.6,153.9Z"/><path d="M656.0,164.1L653.6,163.2L656.7,162.5L659.1,163.4Z"/><path d="M650.5,163.9L648.1,163.0L651.2,162.2L653.6,163.2Z"/><path d="M645.0,163.7L642.6,162.7L645.7,162.0L648.1,163.0Z"/><path d="M639.5,163.4L637.1,162.5L640.2,161.8L642.6,162.7Z"/><path d="M634.0,163.2L631.6,162.3L634.7,161.6L637.1,162.5Z"/><path d="M628.4,163.0L626.0,162.0L629.1,161.3L631.6,162.3Z"/><path d="M622.9,162.7L620.5,161.6L623.6,160.9L626.0,162.0Z"/><path d="M617.4,162.3L615.0,161.0L618.1,160.3L620.5,161.6Z"/><path d="M611.9,161.7L609.5,160.0L612.6,159.3L615.0,161.0Z"/><path d="M606.4,160.9L604.0,158.7L607.1,157.8L609.5,160.0Z"/><path d="M600.9,159.7L598.4,156.8L601.6,155.6L604.0,158.7Z"/><path d="M595.3,158.2L592.9,154.6L596.0,152.9L598.4,156.8Z"/><path d="M589.8,156.5L587.4,152.4L590.5,149.8L592.9,154.6Z"/><path d="M584.3,154.8L581.9,150.5L585.0,147.0L587.4,152.4Z"/><path d="M578.8,153.6L576.4,149.4L579.5,145.1L581.9,150.5Z"/><path d="M573.3,153.1L570.9,149.4L574.0,144.5L576.4,149.4Z"/><path d="M567.8,153.4L565.4,150.3L568.5,145.4L570.9,149.4Z"/><path d="M562.2,154.2L559.8,152.0L562.9,147.4L565.4,150.3Z"/><path d="M556.7,155.4L554.3,153.8L557.4,149.9L559.8,152.0Z"/><path d="M551.2,156.6L548.8,155.4L551.9,152.4L554.3,153.8Z"/><path d="M545.7,157.6L543.3,156.6L546.4,154.3L548.8,155.4Z"/><path d="M540.2,158.3L537.8,157.3L540.9,155.7L543.3,156.6Z"/><path d="M534.7,158.6L532.2,157.7L535.4,156.4L537.8,157.3Z"/><path d="M529.1,158.7L526.7,157.8L529.8,156.8L532.2,157.7Z"/><path d="M523.6,158.7L521.2,157.8L524.3,156.9L526.7,157.8Z"/><path d="M518.1,158.6L515.7,157.6L518.8,156.8L521.2,157.8Z"/><path d="M512.6,158.4L510.2,157.4L513.3,156.7L515.7,157.6Z"/><path d="M507.1,158.2L504.7,157.2L507.8,156.4L510.2,157.4Z"/><path d="M501.6,157.9L499.1,156.9L502.3,156.2L504.7,157.2Z"/><path d="M496.0,157.7L493.6,156.6L496.7,155.8L499.1,156.9Z"/><path d="M490.5,157.4L488.1,156.2L491.2,155.5L493.6,156.6Z"/><path d="M485.0,157.0L482.6,155.9L485.7,155.1L488.1,156.2Z"/><path d="M479.5,156.7L477.1,155.6L480.2,154.8L482.6,155.9Z"/><path d="M474.0,156.5L471.6,155.4L474.7,154.5L477.1,155.6Z"/><path d="M468.5,156.3L466.1,155.2L469.2,154.3L471.6,155.4Z"/><path d="M462.9,156.1L460.5,155.1L463.6,154.2L466.1,155.2Z"/><path d="M457.4,156.0L455.0,155.0L458.1,154.1L460.5,155.1Z"/><path d="M451.9,155.9L449.5,154.9L452.6,154.1L455.0,155.0Z"/><path d="M446.4,155.7L444.0,154.8L447.1,154.0L449.5,154.9Z"/><path d="M440.9,155.6L438.5,154.7L441.6,153.9L444.0,154.8Z"/><path d="M652.9,164.8L650.5,163.9L653.6,163.2L656.0,164.1Z"/><path d="M647.4,164.6L645.0,163.7L648.1,163.0L650.5,163.9Z"/><path d="M641.9,164.4L639.5,163.4L642.6,162.7L645.0,163.7Z"/><path d="M636.4,164.2L634.0,163.2L637.1,162.5L639.5,163.4Z"/><path d="M630.9,163.9L628.4,163.0L631.6,162.3L634.0,163.2Z"/><path d="M625.3,163.7L622.9,162.7L626.0,162.0L628.4,163.0Z"/><path d="M619.8,163.4L617.4,162.3L620.5,161.6L622.9,162.7Z"/><path d="M614.3,163.0L611.9,161.7L615.0,161.0L617.4,162.3Z"/><path d="M608.8,162.5L606.4,160.9L609.5,160.0L611.9,161.7Z"/><path d="M603.3,161.7L600.9,159.7L604.0,158.7L606.4,160.9Z"/><path d="M597.8,160.7L595.3,158.2L598.4,156.8L600.9,159.7Z"/><path d="M592.2,159.5L589.8,156.5L592.9,154.6L595.3,158.2Z"/><path d="M586.7,158.3L584.3,154.8L587.4,152.4L589.8,156.5Z"/><path d="M581.2,157.2L578.8,153.6L581.9,150.5L584.3,154.8Z"/><path d="M575.7,156.4L573.3,153.1L576.4,149.4L578.8,153.6Z"/><path d="M570.2,156.2L567.8,153.4L570.9,149.4L573.3,153.1Z"/><path d="M564.6,156.5L562.2,154.2L565.4,150.3L567.8,153.4Z"/><path d="M559.1,157.2L556.7,155.4L559.8,152.0L562.2,154.2Z"/><path d="M553.6,158.0L551.2,156.6L554.3,153.8L556.7,155.4Z"/><path d="M548.1,158.7L545.7,157.6L548.8,155.4L551.2,156.6Z"/><path d="M542.6,159.3L540.2,158.3L543.3,156.6L545.7,157.6Z"/><path d="M537.1,159.6L534.7,158.6L537.8,157.3L540.2,158.3Z"/><path d="M531.5,159.7L529.1,158.7L532.2,157.7L534.7,158.6Z"/><path d="M526.0,159.6L523.6,158.7L526.7,157.8L529.1,158.7Z"/><path d="M520.5,159.5L518.1,158.6L521.2,157.8L523.6,158.7Z"/><path d="M515.0,159.3L512.6,158.4L515.7,157.6L518.1,158.6Z"/><path d="M509.5,159.1L507.1,158.2L510.2,157.4L512.6,158.4Z"/><path d="M504.0,158.9L501.6,157.9L504.7,157.2L507.1,158.2Z"/><path d="M498.4,158.7L496.0,157.7L499.1,156.9L501.6,157.9Z"/><path d="M492.9,158.4L490.5,157.4L493.6,156.6L496.0,157.7Z"/><path d="M487.4,158.1L485.0,157.0L488.1,156.2L490.5,157.4Z"/><path d="M481.9,157.8L479.5,156.7L482.6,155.9L485.0,157.0Z"/><path d="M476.4,157.6L474.0,156.5L477.1,155.6L479.5,156.7Z"/><path d="M470.9,157.3L468.5,156.3L471.6,155.4L474.0,156.5Z"/><path d="M465.3,157.1L462.9,156.1L466.1,155.2L468.5,156.3Z"/><path d="M459.8,156.9L457.4,156.0L460.5,155.1L462.9,156.1Z"/><path d="M454.3,156.8L451.9,155.9L455.0,155.0L457.4,156.0Z"/><path d="M448.8,156.7L446.4,155.7L449.5,154.9L451.9,155.9Z"/><path d="M443.3,156.5L440.9,155.6L444.0,154.8L446.4,155.7Z"/><path d="M649.8,165.5L647.4,164.6L650.5,163.9L652.9,164.8Z"/><path d="M644.3,165.3L641.9,164.4L645.0,163.7L647.4,164.6Z"/><path d="M638.8,165.1L636.4,164.2L639.5,163.4L641.9,164.4Z"/><path d="M633.3,164.9L630.9,163.9L634.0,163.2L636.4,164.2Z"/><path d="M627.7,164.6L625.3,163.7L628.4,163.0L630.9,163.9Z"/><path d="M622.2,164.4L619.8,163.4L622.9,162.7L625.3,163.7Z"/><path d="M616.7,164.1L614.3,163.0L617.4,162.3L619.8,163.4Z"/><path d="M611.2,163.7L608.8,162.5L611.9,161.7L614.3,163.0Z"/><path d="M605.7,163.2L603.3,161.7L606.4,160.9L608.8,162.5Z"/><path d="M600.2,162.6L597.8,160.7L600.9,159.7L603.3,161.7Z"/><path d="M594.6,161.8L592.2,159.5L595.3,158.2L597.8,160.7Z"/><path d="M589.1,160.9L586.7,158.3L589.8,156.5L592.2,159.5Z"/><path d="M583.6,160.0L581.2,157.2L584.3,154.8L586.7,158.3Z"/><path d="M578.1,159.2L575.7,156.4L578.8,153.6L581.2,157.2Z"/><path d="M572.6,158.8L570.2,156.2L573.3,153.1L575.7,156.4Z"/><path d="M567.1,158.8L564.6,156.5L567.8,153.4L570.2,156.2Z"/><path d="M561.5,159.0L559.1,157.2L562.2,154.2L564.6,156.5Z"/><path d="M556.0,159.5L553.6,158.0L556.7,155.4L559.1,157.2Z"/><path d="M550.5,159.9L548.1,158.7L551.2,156.6L553.6,158.0Z"/><path d="M545.0,160.3L542.6,159.3L545.7,157.6L548.1,158.7Z"/><path d="M539.5,160.5L537.1,159.6L540.2,158.3L542.6,159.3Z"/><path d="M534.0,160.6L531.5,159.7L534.7,158.6L537.1,159.6Z"/><path d="M528.4,160.6L526.0,159.6L529.1,158.7L531.5,159.7Z"/><path d="M522.9,160.4L520.5,159.5L523.6,158.7L526.0,159.6Z"/><path d="M517.4,160.3L515.0,159.3L518.1,158.6L520.5,159.5Z"/><path d="M511.9,160.1L509.5,159.1L512.6,158.4L515.0,159.3Z"/><path d="M506.4,159.9L504.0,158.9L507.1,158.2L509.5,159.1Z"/><path d="M500.9,159.6L498.4,158.7L501.6,157.9L504.0,158.9Z"/><path d="M495.3,159.4L492.9,158.4L496.0,157.7L498.4,158.7Z"/><path d="M489.8,159.1L487.4,158.1L490.5,157.4L492.9,158.4Z"/><path d="M484.3,158.9L481.9,157.8L485.0,157.0L487.4,158.1Z"/><path d="M478.8,158.6L476.4,157.6L479.5,156.7L481.9,157.8Z"/><path d="M473.3,158.4L470.9,157.3L474.0,156.5L476.4,157.6Z"/><path d="M467.8,158.1L465.3,157.1L468.5,156.3L470.9,157.3Z"/><path d="M462.2,157.9L459.8,156.9L462.9,156.1L465.3,157.1Z"/><path d="M456.7,157.8L454.3,156.8L457.4,156.0L459.8,156.9Z"/><path d="M451.2,157.6L448.8,156.7L451.9,155.9L454.3,156.8Z"/><path d="M445.7,157.4L443.3,156.5L446.4,155.7L448.8,156.7Z"/><path d="M646.7,166.2L644.3,165.3L647.4,164.6L649.8,165.5Z"/><path d="M641.2,166.0L638.8,165.1L641.9,164.4L644.3,165.3Z"/><path d="M635.7,165.8L633.3,164.9L636.4,164.2L638.8,165.1Z"/><path d="M630.1,165.6L627.7,164.6L630.9,163.9L633.3,164.9Z"/><path d="M624.6,165.3L622.2,164.4L625.3,163.7L627.7,164.6Z"/><path d="M619.1,165.1L616.7,164.1L619.8,163.4L622.2,164.4Z"/><path d="M613.6,164.8L611.2,163.7L614.3,163.0L616.7,164.1Z"/><path d="M608.1,164.5L605.7,163.2L608.8,162.5L611.2,163.7Z"/><path d="M602.6,164.0L600.2,162.6L603.3,161.7L605.7,163.2Z"/><path d="M597.1,163.5L594.6,161.8L597.8,160.7L600.2,162.6Z"/><path d="M591.5,162.8L589.1,160.9L592.2,159.5L594.6,161.8Z"/><path d="M586.0,162.1L583.6,160.0L586.7,158.3L589.1,160.9Z"/><path d="M580.5,161.5L578.1,159.2L581.2,157.2L583.6,160.0Z"/><path d="M575.0,161.0L572.6,158.8L575.7,156.4L578.1,159.2Z"/><path d="M569.5,160.8L567.1,158.8L570.2,156.2L572.6,158.8Z"/><path d="M563.9,160.8L561.5,159.0L564.6,156.5L567.1,158.8Z"/><path d="M558.4,160.9L556.0,159.5L559.1,157.2L561.5,159.0Z"/><path d="M552.9,161.2L550.5,159.9L553.6,158.0L556.0,159.5Z"/><path d="M547.4,161.4L545.0,160.3L548.1,158.7L550.5,159.9Z"/><path d="M541.9,161.5L539.5,160.5L542.6,159.3L545.0,160.3Z"/><path d="M536.4,161.6L534.0,160.6L537.1,159.6L539.5,160.5Z"/><path d="M530.9,161.5L528.4,160.6L531.5,159.7L534.0,160.6Z"/><path d="M525.3,161.4L522.9,160.4L526.0,159.6L528.4,160.6Z"/><path d="M519.8,161.2L517.4,160.3L520.5,159.5L522.9,160.4Z"/><path d="M514.3,161.0L511.9,160.1L515.0,159.3L517.4,160.3Z"/><path d="M508.8,160.8L506.4,159.9L509.5,159.1L511.9,160.1Z"/><path d="M503.3,160.6L500.9,159.6L504.0,158.9L506.4,159.9Z"/><path d="M497.8,160.4L495.3,159.4L498.4,158.7L500.9,159.6Z"/><path d="M492.2,160.1L489.8,159.1L492.9,158.4L495.3,159.4Z"/><path d="M486.7,159.9L484.3,158.9L487.4,158.1L489.8,159.1Z"/><path d="M481.2,159.6L478.8,158.6L481.9,157.8L484.3,158.9Z"/><path d="M475.7,159.4L473.3,158.4L476.4,157.6L478.8,158.6Z"/><path d="M470.2,159.1L467.8,158.1L470.9,157.3L473.3,158.4Z"/><path d="M464.6,158.9L462.2,157.9L465.3,157.1L467.8,158.1Z"/><path d="M459.1,158.7L456.7,157.8L459.8,156.9L462.2,157.9Z"/><path d="M453.6,158.6L451.2,157.6L454.3,156.8L456.7,157.8Z"/><path d="M448.1,158.4L445.7,157.4L448.8,156.7L451.2,157.6Z"/><path d="M643.6,166.9L641.2,166.0L644.3,165.3L646.7,166.2Z"/><path d="M638.1,166.7L635.7,165.8L638.8,165.1L641.2,166.0Z"/><path d="M632.6,166.5L630.1,165.6L633.3,164.9L635.7,165.8Z"/><path d="M627.0,166.3L624.6,165.3L627.7,164.6L630.1,165.6Z"/><path d="M621.5,166.1L619.1,165.1L622.2,164.4L624.6,165.3Z"/><path d="M616.0,165.8L613.6,164.8L616.7,164.1L619.1,165.1Z"/><path d="M610.5,165.5L608.1,164.5L611.2,163.7L613.6,164.8Z"/><path d="M605.0,165.2L602.6,164.0L605.7,163.2L608.1,164.5Z"/><path d="M599.5,164.8L597.1,163.5L600.2,162.6L602.6,164.0Z"/><path d="M593.9,164.4L591.5,162.8L594.6,161.8L597.1,163.5Z"/><path d="M588.4,163.9L586.0,162.1L589.1,160.9L591.5,162.8Z"/><path d="M582.9,163.3L580.5,161.5L583.6,160.0L586.0,162.1Z"/><path d="M577.4,162.9L575.0,161.0L578.1,159.2L580.5,161.5Z"/><path d="M571.9,162.6L569.5,160.8L572.6,158.8L575.0,161.0Z"/><path d="M566.4,162.4L563.9,160.8L567.1,158.8L569.5,160.8Z"/><path d="M560.8,162.4L558.4,160.9L561.5,159.0L563.9,160.8Z"/><path d="M555.3,162.4L552.9,161.2L556.0,159.5L558.4,160.9Z"/><path d="M549.8,162.5L547.4,161.4L550.5,159.9L552.9,161.2Z"/><path d="M544.3,162.5L541.9,161.5L545.0,160.3L547.4,161.4Z"/><path d="M538.8,162.5L536.4,161.6L539.5,160.5L541.9,161.5Z"/><path d="M533.3,162.5L530.9,161.5L534.0,160.6L536.4,161.6Z"/><path d="M527.7,162.3L525.3,161.4L528.4,160.6L530.9,161.5Z"/><path d="M522.2,162.2L519.8,161.2L522.9,160.4L525.3,161.4Z"/><path d="M516.7,162.0L514.3,161.0L517.4,160.3L519.8,161.2Z"/><path d="M511.2,161.8L508.8,160.8L511.9,160.1L514.3,161.0Z"/><path d="M505.7,161.5L503.3,160.6L506.4,159.9L508.8,160.8Z"/><path d="M500.2,161.3L497.8,160.4L500.9,159.6L503.3,160.6Z"/><path d="M494.6,161.1L492.2,160.1L495.3,159.4L497.8,160.4Z"/><path d="M489.1,160.9L486.7,159.9L489.8,159.1L492.2,160.1Z"/><path d="M483.6,160.6L481.2,159.6L484.3,158.9L486.7,159.9Z"/><path d="M478.1,160.4L475.7,159.4L478.8,158.6L481.2,159.6Z"/><path d="M472.6,160.1L470.2,159.1L473.3,158.4L475.7,159.4Z"/><path d="M467.1,159.9L464.6,158.9L467.8,158.1L470.2,159.1Z"/><path d="M461.5,159.7L459.1,158.7L462.2,157.9L464.6,158.9Z"/><path d="M456.0,159.5L453.6,158.6L456.7,157.8L459.1,158.7Z"/><path d="M450.5,159.3L448.1,158.4L451.2,157.6L453.6,158.6Z"/><path d="M640.5,167.6L638.1,166.7L641.2,166.0L643.6,166.9Z"/><path d="M635.0,167.4L632.6,166.5L635.7,165.8L638.1,166.7Z"/><path d="M629.4,167.2L627.0,166.3L630.1,165.6L632.6,166.5Z"/><path d="M623.9,167.0L621.5,166.1L624.6,165.3L627.0,166.3Z"/><path d="M618.4,166.8L616.0,165.8L619.1,165.1L621.5,166.1Z"/><path d="M612.9,166.5L610.5,165.5L613.6,164.8L616.0,165.8Z"/><path d="M607.4,166.3L605.0,165.2L608.1,164.5L610.5,165.5Z"/><path d="M601.9,166.0L599.5,164.8L602.6,164.0L605.0,165.2Z"/><path d="M596.4,165.6L593.9,164.4L597.1,163.5L599.5,164.8Z"/><path d="M590.8,165.2L588.4,163.9L591.5,162.8L593.9,164.4Z"/><path d="M585.3,164.8L582.9,163.3L586.0,162.1L588.4,163.9Z"/><path d="M579.8,164.4L577.4,162.9L580.5,161.5L582.9,163.3Z"/><path d="M574.3,164.1L571.9,162.6L575.0,161.0L577.4,162.9Z"/><path d="M568.8,163.9L566.4,162.4L569.5,160.8L571.9,162.6Z"/><path d="M563.2,163.7L560.8,162.4L563.9,160.8L566.4,162.4Z"/><path d="M557.7,163.6L555.3,162.4L558.4,160.9L560.8,162.4Z"/><path d="M552.2,163.6L549.8,162.5L552.9,161.2L555.3,162.4Z"/><path d="M546.7,163.6L544.3,162.5L547.4,161.4L549.8,162.5Z"/><path d="M541.2,163.5L538.8,162.5L541.9,161.5L544.3,162.5Z"/><path d="M535.7,163.4L533.3,162.5L536.4,161.6L538.8,162.5Z"/><path d="M530.1,163.3L527.7,162.3L530.9,161.5L533.3,162.5Z"/><path d="M524.6,163.1L522.2,162.2L525.3,161.4L527.7,162.3Z"/><path d="M519.1,162.9L516.7,162.0L519.8,161.2L522.2,162.2Z"/><path d="M513.6,162.7L511.2,161.8L514.3,161.0L516.7,162.0Z"/><path d="M508.1,162.5L505.7,161.5L508.8,160.8L511.2,161.8Z"/><path d="M502.6,162.3L500.2,161.3L503.3,160.6L505.7,161.5Z"/><path d="M497.0,162.0L494.6,161.1L497.8,160.4L500.2,161.3Z"/><path d="M491.5,161.8L489.1,160.9L492.2,160.1L494.6,161.1Z"/><path d="M486.0,161.6L483.6,160.6L486.7,159.9L489.1,160.9Z"/><path d="M480.5,161.4L478.1,160.4L481.2,159.6L483.6,160.6Z"/><path d="M475.0,161.1L472.6,160.1L475.7,159.4L478.1,160.4Z"/><path d="M469.5,160.9L467.1,159.9L470.2,159.1L472.6,160.1Z"/><path d="M464.0,160.7L461.5,159.7L464.6,158.9L467.1,159.9Z"/><path d="M458.4,160.5L456.0,159.5L459.1,158.7L461.5,159.7Z"/><path d="M452.9,160.3L450.5,159.3L453.6,158.6L456.0,159.5Z"/><path d="M637.4,168.4L635.0,167.4L638.1,166.7L640.5,167.6Z"/><path d="M631.9,168.1L629.4,167.2L632.6,166.5L635.0,167.4Z"/><path d="M626.3,167.9L623.9,167.0L627.0,166.3L629.4,167.2Z"/><path d="M620.8,167.7L618.4,166.8L621.5,166.1L623.9,167.0Z"/><path d="M615.3,167.5L612.9,166.5L616.0,165.8L618.4,166.8Z"/><path d="M609.8,167.2L607.4,166.3L610.5,165.5L612.9,166.5Z"/><path d="M604.3,167.0L601.9,166.0L605.0,165.2L607.4,166.3Z"/><path d="M598.8,166.7L596.4,165.6L599.5,164.8L601.9,166.0Z"/><path d="M593.2,166.4L590.8,165.2L593.9,164.4L596.4,165.6Z"/><path d="M587.7,166.1L585.3,164.8L588.4,163.9L590.8,165.2Z"/><path d="M582.2,165.7L579.8,164.4L582.9,163.3L585.3,164.8Z"/><path d="M576.7,165.4L574.3,164.1L577.4,162.9L579.8,164.4Z"/><path d="M571.2,165.2L568.8,163.9L571.9,162.6L574.3,164.1Z"/><path d="M565.7,165.0L563.2,163.7L566.4,162.4L568.8,163.9Z"/><path d="M560.1,164.8L557.7,163.6L560.8,162.4L563.2,163.7Z"/><path d="M554.6,164.7L552.2,163.6L555.3,162.4L557.7,163.6Z"/><path d="M549.1,164.6L546.7,163.6L549.8,162.5L552.2,163.6Z"/><path d="M543.6,164.5L541.2,163.5L544.3,162.5L546.7,163.6Z"/><path d="M538.1,164.4L535.7,163.4L538.8,162.5L541.2,163.5Z"/><path d="M532.6,164.2L530.1,163.3L533.3,162.5L535.7,163.4Z"/><path d="M527.0,164.0L524.6,163.1L527.7,162.3L530.1,163.3Z"/><path d="M521.5,163.8L519.1,162.9L522.2,162.2L524.6,163.1Z"/><path d="M516.0,163.6L513.6,162.7L516.7,162.0L519.1,162.9Z"/><path d="M510.5,163.4L508.1,162.5L511.2,161.8L513.6,162.7Z"/><path d="M505.0,163.2L502.6,162.3L505.7,161.5L508.1,162.5Z"/><path d="M499.5,163.0L497.0,162.0L500.2,161.3L502.6,162.3Z"/><path d="M493.9,162.8L491.5,161.8L494.6,161.1L497.0,162.0Z"/><path d="M488.4,162.5L486.0,161.6L489.1,160.9L491.5,161.8Z"/><path d="M482.9,162.3L480.5,161.4L483.6,160.6L486.0,161.6Z"/><path d="M477.4,162.1L475.0,161.1L478.1,160.4L480.5,161.4Z"/><path d="M471.9,161.9L469.5,160.9L472.6,160.1L475.0,161.1Z"/><path d="M466.4,161.6L464.0,160.7L467.1,159.9L469.5,160.9Z"/><path d="M460.8,161.4L458.4,160.5L461.5,159.7L464.0,160.7Z"/><path d="M455.3,161.2L452.9,160.3L456.0,159.5L458.4,160.5Z"/><path d="M634.3,169.1L631.9,168.1L635.0,167.4L637.4,168.4Z"/><path d="M628.8,168.9L626.3,167.9L629.4,167.2L631.9,168.1Z"/><path d="M623.2,168.6L620.8,167.7L623.9,167.0L626.3,167.9Z"/><path d="M617.7,168.4L615.3,167.5L618.4,166.8L620.8,167.7Z"/><path d="M612.2,168.2L609.8,167.2L612.9,166.5L615.3,167.5Z"/><path d="M606.7,168.0L604.3,167.0L607.4,166.3L609.8,167.2Z"/><path d="M601.2,167.7L598.8,166.7L601.9,166.0L604.3,167.0Z"/><path d="M595.6,167.5L593.2,166.4L596.4,165.6L598.8,166.7Z"/><path d="M590.1,167.2L587.7,166.1L590.8,165.2L593.2,166.4Z"/><path d="M584.6,166.9L582.2,165.7L585.3,164.8L587.7,166.1Z"/><path d="M579.1,166.6L576.7,165.4L579.8,164.4L582.2,165.7Z"/><path d="M573.6,166.4L571.2,165.2L574.3,164.1L576.7,165.4Z"/><path d="M568.1,166.1L565.7,165.0L568.8,163.9L571.2,165.2Z"/><path d="M562.5,165.9L560.1,164.8L563.2,163.7L565.7,165.0Z"/><path d="M557.0,165.8L554.6,164.7L557.7,163.6L560.1,164.8Z"/><path d="M551.5,165.6L549.1,164.6L552.2,163.6L554.6,164.7Z"/><path d="M546.0,165.5L543.6,164.5L546.7,163.6L549.1,164.6Z"/><path d="M540.5,165.3L538.1,164.4L541.2,163.5L543.6,164.5Z"/><path d="M535.0,165.1L532.6,164.2L535.7,163.4L538.1,164.4Z"/><path d="M529.4,164.9L527.0,164.0L530.1,163.3L532.6,164.2Z"/><path d="M523.9,164.8L521.5,163.8L524.6,163.1L527.0,164.0Z"/><path d="M518.4,164.5L516.0,163.6L519.1,162.9L521.5,163.8Z"/><path d="M512.9,164.3L510.5,163.4L513.6,162.7L516.0,163.6Z"/><path d="M507.4,164.1L505.0,163.2L508.1,162.5L510.5,163.4Z"/><path d="M501.9,163.9L499.5,163.0L502.6,162.3L505.0,163.2Z"/><path d="M496.3,163.7L493.9,162.8L497.0,162.0L499.5,163.0Z"/><path d="M490.8,163.5L488.4,162.5L491.5,161.8L493.9,162.8Z"/><path d="M485.3,163.3L482.9,162.3L486.0,161.6L488.4,162.5Z"/><path d="M479.8,163.0L477.4,162.1L480.5,161.4L482.9,162.3Z"/><path d="M474.3,162.8L471.9,161.9L475.0,161.1L477.4,162.1Z"/><path d="M468.8,162.6L466.4,161.6L469.5,160.9L471.9,161.9Z"/><path d="M463.2,162.4L460.8,161.4L464.0,160.7L466.4,161.6Z"/><path d="M457.7,162.2L455.3,161.2L458.4,160.5L460.8,161.4Z"/><path d="M631.2,169.8L628.8,168.9L631.9,168.1L634.3,169.1Z"/><path d="M625.6,169.6L623.2,168.6L626.3,167.9L628.8,168.9Z"/><path d="M620.1,169.3L617.7,168.4L620.8,167.7L623.2,168.6Z"/><path d="M614.6,169.1L612.2,168.2L615.3,167.5L617.7,168.4Z"/><path d="M609.1,168.9L606.7,168.0L609.8,167.2L612.2,168.2Z"/><path d="M603.6,168.7L601.2,167.7L604.3,167.0L606.7,168.0Z"/><path d="M598.1,168.4L595.6,167.5L598.8,166.7L601.2,167.7Z"/><path d="M592.5,168.2L590.1,167.2L593.2,166.4L595.6,167.5Z"/><path d="M587.0,167.9L584.6,166.9L587.7,166.1L590.1,167.2Z"/><path d="M581.5,167.7L579.1,166.6L582.2,165.7L584.6,166.9Z"/><path d="M576.0,167.4L573.6,166.4L576.7,165.4L579.1,166.6Z"/><path d="M570.5,167.2L568.1,166.1L571.2,165.2L573.6,166.4Z"/><path d="M565.0,167.0L562.5,165.9L565.7,165.0L568.1,166.1Z"/><path d="M559.4,166.8L557.0,165.8L560.1,164.8L562.5,165.9Z"/><path d="M553.9,166.6L551.5,165.6L554.6,164.7L557.0,165.8Z"/><path d="M548.4,166.4L546.0,165.5L549.1,164.6L551.5,165.6Z"/><path d="M542.9,166.3L540.5,165.3L543.6,164.5L546.0,165.5Z"/><path d="M537.4,166.1L535.0,165.1L538.1,164.4L540.5,165.3Z"/><path d="M531.9,165.9L529.4,164.9L532.6,164.2L535.0,165.1Z"/><path d="M526.3,165.7L523.9,164.8L527.0,164.0L529.4,164.9Z"/><path d="M520.8,165.5L518.4,164.5L521.5,163.8L523.9,164.8Z"/><path d="M515.3,165.3L512.9,164.3L516.0,163.6L518.4,164.5Z"/><path d="M509.8,165.1L507.4,164.1L510.5,163.4L512.9,164.3Z"/><path d="M504.3,164.8L501.9,163.9L505.0,163.2L507.4,164.1Z"/><path d="M498.8,164.6L496.3,163.7L499.5,163.0L501.9,163.9Z"/><path d="M493.2,164.4L490.8,163.5L493.9,162.8L496.3,163.7Z"/><path d="M487.7,164.2L485.3,163.3L488.4,162.5L490.8,163.5Z"/><path d="M482.2,164.0L479.8,163.0L482.9,162.3L485.3,163.3Z"/><path d="M476.7,163.7L474.3,162.8L477.4,162.1L479.8,163.0Z"/><path d="M471.2,163.5L468.8,162.6L471.9,161.9L474.3,162.8Z"/><path d="M465.7,163.3L463.2,162.4L466.4,161.6L468.8,162.6Z"/><path d="M460.1,163.1L457.7,162.2L460.8,161.4L463.2,162.4Z"/><path d="M628.0,170.5L625.6,169.6L628.8,168.9L631.2,169.8Z"/><path d="M622.5,170.3L620.1,169.3L623.2,168.6L625.6,169.6Z"/><path d="M617.0,170.1L614.6,169.1L617.7,168.4L620.1,169.3Z"/><path d="M611.5,169.8L609.1,168.9L612.2,168.2L614.6,169.1Z"/><path d="M606.0,169.6L603.6,168.7L606.7,168.0L609.1,168.9Z"/><path d="M600.5,169.4L598.1,168.4L601.2,167.7L603.6,168.7Z"/><path d="M594.9,169.2L592.5,168.2L595.6,167.5L598.1,168.4Z"/><path d="M589.4,168.9L587.0,167.9L590.1,167.2L592.5,168.2Z"/><path d="M583.9,168.7L581.5,167.7L584.6,166.9L587.0,167.9Z"/><path d="M578.4,168.5L576.0,167.4L579.1,166.6L581.5,167.7Z"/><path d="M572.9,168.2L570.5,167.2L573.6,166.4L576.0,167.4Z"/><path d="M567.4,168.0L565.0,167.0L568.1,166.1L570.5,167.2Z"/><path d="M561.9,167.8L559.4,166.8L562.5,165.9L565.0,167.0Z"/><path d="M556.3,167.6L553.9,166.6L557.0,165.8L559.4,166.8Z"/><path d="M550.8,167.4L548.4,166.4L551.5,165.6L553.9,166.6Z"/><path d="M545.3,167.2L542.9,166.3L546.0,165.5L548.4,166.4Z"/><path d="M539.8,167.0L537.4,166.1L540.5,165.3L542.9,166.3Z"/><path d="M534.3,166.8L531.9,165.9L535.0,165.1L537.4,166.1Z"/><path d="M528.8,166.6L526.3,165.7L529.4,164.9L531.9,165.9Z"/><path d="M523.2,166.4L520.8,165.5L523.9,164.8L526.3,165.7Z"/><path d="M517.7,166.2L515.3,165.3L518.4,164.5L520.8,165.5Z"/><path d="M512.2,166.0L509.8,165.1L512.9,164.3L515.3,165.3Z"/><path d="M506.7,165.8L504.3,164.8L507.4,164.1L509.8,165.1Z"/><path d="M501.2,165.5L498.8,164.6L501.9,163.9L504.3,164.8Z"/><path d="M495.6,165.3L493.2,164.4L496.3,163.7L498.8,164.6Z"/><path d="M490.1,165.1L487.7,164.2L490.8,163.5L493.2,164.4Z"/><path d="M484.6,164.9L482.2,164.0L485.3,163.3L487.7,164.2Z"/><path d="M479.1,164.7L476.7,163.7L479.8,163.0L482.2,164.0Z"/><path d="M473.6,164.5L471.2,163.5L474.3,162.8L476.7,163.7Z"/><path d="M468.1,164.2L465.7,163.3L468.8,162.6L471.2,163.5Z"/><path d="M462.5,164.0L460.1,163.1L463.2,162.4L465.7,163.3Z"/><path d="M624.9,171.2L622.5,170.3L625.6,169.6L628.0,170.5Z"/><path d="M619.4,171.0L617.0,170.1L620.1,169.3L622.5,170.3Z"/><path d="M613.9,170.8L611.5,169.8L614.6,169.1L617.0,170.1Z"/><path d="M608.4,170.6L606.0,169.6L609.1,168.9L611.5,169.8Z"/><path d="M602.9,170.3L600.5,169.4L603.6,168.7L606.0,169.6Z"/><path d="M597.4,170.1L594.9,169.2L598.1,168.4L600.5,169.4Z"/><path d="M591.8,169.9L589.4,168.9L592.5,168.2L594.9,169.2Z"/><path d="M586.3,169.7L583.9,168.7L587.0,167.9L589.4,168.9Z"/><path d="M580.8,169.4L578.4,168.5L581.5,167.7L583.9,168.7Z"/><path d="M575.3,169.2L572.9,168.2L576.0,167.4L578.4,168.5Z"/><path d="M569.8,169.0L567.4,168.0L570.5,167.2L572.9,168.2Z"/><path d="M564.3,168.8L561.9,167.8L565.0,167.0L567.4,168.0Z"/><path d="M558.7,168.6L556.3,167.6L559.4,166.8L561.9,167.8Z"/><path d="M553.2,168.4L550.8,167.4L553.9,166.6L556.3,167.6Z"/><path d="M547.7,168.2L545.3,167.2L548.4,166.4L550.8,167.4Z"/><path d="M542.2,167.9L539.8,167.0L542.9,166.3L545.3,167.2Z"/><path d="M536.7,167.7L534.3,166.8L537.4,166.1L539.8,167.0Z"/><path d="M531.2,167.5L528.8,166.6L531.9,165.9L534.3,166.8Z"/><path d="M525.6,167.3L523.2,166.4L526.3,165.7L528.8,166.6Z"/><path d="M520.1,167.1L517.7,166.2L520.8,165.5L523.2,166.4Z"/><path d="M514.6,166.9L512.2,166.0L515.3,165.3L517.7,166.2Z"/><path d="M509.1,166.7L506.7,165.8L509.8,165.1L512.2,166.0Z"/><path d="M503.6,166.5L501.2,165.5L504.3,164.8L506.7,165.8Z"/><path d="M498.1,166.3L495.6,165.3L498.8,164.6L501.2,165.5Z"/><path d="M492.5,166.0L490.1,165.1L493.2,164.4L495.6,165.3Z"/><path d="M487.0,165.8L484.6,164.9L487.7,164.2L490.1,165.1Z"/><path d="M481.5,165.6L479.1,164.7L482.2,164.0L484.6,164.9Z"/><path d="M476.0,165.4L473.6,164.5L476.7,163.7L479.1,164.7Z"/><path d="M470.5,165.2L468.1,164.2L471.2,163.5L473.6,164.5Z"/><path d="M465.0,165.0L462.5,164.0L465.7,163.3L468.1,164.2Z"/><path d="M621.8,171.9L619.4,171.0L622.5,170.3L624.9,171.2Z"/><path d="M616.3,171.7L613.9,170.8L617.0,170.1L619.4,171.0Z"/><path d="M610.8,171.5L608.4,170.6L611.5,169.8L613.9,170.8Z"/><path d="M605.3,171.3L602.9,170.3L606.0,169.6L608.4,170.6Z"/><path d="M599.8,171.0L597.4,170.1L600.5,169.4L602.9,170.3Z"/><path d="M594.2,170.8L591.8,169.9L594.9,169.2L597.4,170.1Z"/><path d="M588.7,170.6L586.3,169.7L589.4,168.9L591.8,169.9Z"/><path d="M583.2,170.4L580.8,169.4L583.9,168.7L586.3,169.7Z"/><path d="M577.7,170.2L575.3,169.2L578.4,168.5L580.8,169.4Z"/><path d="M572.2,169.9L569.8,169.0L572.9,168.2L575.3,169.2Z"/><path d="M566.7,169.7L564.3,168.8L567.4,168.0L569.8,169.0Z"/><path d="M561.1,169.5L558.7,168.6L561.9,167.8L564.3,168.8Z"/><path d="M555.6,169.3L553.2,168.4L556.3,167.6L558.7,168.6Z"/><path d="M550.1,169.1L547.7,168.2L550.8,167.4L553.2,168.4Z"/><path d="M544.6,168.9L542.2,167.9L545.3,167.2L547.7,168.2Z"/><path d="M539.1,168.7L536.7,167.7L539.8,167.0L542.2,167.9Z"/><path d="M533.6,168.5L531.2,167.5L534.3,166.8L536.7,167.7Z"/><path d="M528.0,168.3L525.6,167.3L528.8,166.6L531.2,167.5Z"/><path d="M522.5,168.0L520.1,167.1L523.2,166.4L525.6,167.3Z"/><path d="M517.0,167.8L514.6,166.9L517.7,166.2L520.1,167.1Z"/><path d="M511.5,167.6L509.1,166.7L512.2,166.0L514.6,166.9Z"/><path d="M506.0,167.4L503.6,166.5L506.7,165.8L509.1,166.7Z"/><path d="M500.5,167.2L498.1,166.3L501.2,165.5L503.6,166.5Z"/><path d="M494.9,167.0L492.5,166.0L495.6,165.3L498.1,166.3Z"/><path d="M489.4,166.8L487.0,165.8L490.1,165.1L492.5,166.0Z"/><path d="M483.9,166.5L481.5,165.6L484.6,164.9L487.0,165.8Z"/><path d="M478.4,166.3L476.0,165.4L479.1,164.7L481.5,165.6Z"/><path d="M472.9,166.1L470.5,165.2L473.6,164.5L476.0,165.4Z"/><path d="M467.4,165.9L465.0,165.0L468.1,164.2L470.5,165.2Z"/><path d="M618.7,172.6L616.3,171.7L619.4,171.0L621.8,171.9Z"/><path d="M613.2,172.4L610.8,171.5L613.9,170.8L616.3,171.7Z"/><path d="M607.7,172.2L605.3,171.3L608.4,170.6L610.8,171.5Z"/><path d="M602.2,172.0L599.8,171.0L602.9,170.3L605.3,171.3Z"/><path d="M596.7,171.8L594.2,170.8L597.4,170.1L599.8,171.0Z"/><path d="M591.1,171.5L588.7,170.6L591.8,169.9L594.2,170.8Z"/><path d="M585.6,171.3L583.2,170.4L586.3,169.7L588.7,170.6Z"/><path d="M580.1,171.1L577.7,170.2L580.8,169.4L583.2,170.4Z"/><path d="M574.6,170.9L572.2,169.9L575.3,169.2L577.7,170.2Z"/><path d="M569.1,170.7L566.7,169.7L569.8,169.0L572.2,169.9Z"/><path d="M563.6,170.5L561.1,169.5L564.3,168.8L566.7,169.7Z"/><path d="M558.0,170.2L555.6,169.3L558.7,168.6L561.1,169.5Z"/><path d="M552.5,170.0L550.1,169.1L553.2,168.4L555.6,169.3Z"/><path d="M547.0,169.8L544.6,168.9L547.7,168.2L550.1,169.1Z"/><path d="M541.5,169.6L539.1,168.7L542.2,167.9L544.6,168.9Z"/><path d="M536.0,169.4L533.6,168.5L536.7,167.7L539.1,168.7Z"/><path d="M530.5,169.2L528.0,168.3L531.2,167.5L533.6,168.5Z"/><path d="M524.9,169.0L522.5,168.0L525.6,167.3L528.0,168.3Z"/><path d="M519.4,168.8L517.0,167.8L520.1,167.1L522.5,168.0Z"/><path d="M513.9,168.5L511.5,167.6L514.6,166.9L517.0,167.8Z"/><path d="M508.4,168.3L506.0,167.4L509.1,166.7L511.5,167.6Z"/><path d="M502.9,168.1L500.5,167.2L503.6,166.5L506.0,167.4Z"/><path d="M497.4,167.9L494.9,167.0L498.1,166.3L500.5,167.2Z"/><path d="M491.8,167.7L489.4,166.8L492.5,166.0L494.9,167.0Z"/><path d="M486.3,167.5L483.9,166.5L487.0,165.8L489.4,166.8Z"/><path d="M480.8,167.3L478.4,166.3L481.5,165.6L483.9,166.5Z"/><path d="M475.3,167.0L472.9,166.1L476.0,165.4L478.4,166.3Z"/><path d="M469.8,166.8L467.4,165.9L470.5,165.2L472.9,166.1Z"/><path d="M615.6,173.3L613.2,172.4L616.3,171.7L618.7,172.6Z"/><path d="M610.1,173.1L607.7,172.2L610.8,171.5L613.2,172.4Z"/><path d="M604.6,172.9L602.2,172.0L605.3,171.3L607.7,172.2Z"/><path d="M599.1,172.7L596.7,171.8L599.8,171.0L602.2,172.0Z"/><path d="M593.5,172.5L591.1,171.5L594.2,170.8L596.7,171.8Z"/><path d="M588.0,172.3L585.6,171.3L588.7,170.6L591.1,171.5Z"/><path d="M582.5,172.0L580.1,171.1L583.2,170.4L585.6,171.3Z"/><path d="M577.0,171.8L574.6,170.9L577.7,170.2L580.1,171.1Z"/><path d="M571.5,171.6L569.1,170.7L572.2,169.9L574.6,170.9Z"/><path d="M566.0,171.4L563.6,170.5L566.7,169.7L569.1,170.7Z"/><path d="M560.5,171.2L558.0,170.2L561.1,169.5L563.6,170.5Z"/><path d="M554.9,171.0L552.5,170.0L555.6,169.3L558.0,170.2Z"/><path d="M549.4,170.7L547.0,169.8L550.1,169.1L552.5,170.0Z"/><path d="M543.9,170.5L541.5,169.6L544.6,168.9L547.0,169.8Z"/><path d="M538.4,170.3L536.0,169.4L539.1,168.7L541.5,169.6Z"/><path d="M532.9,170.1L530.5,169.2L533.6,168.5L536.0,169.4Z"/><path d="M527.4,169.9L524.9,169.0L528.0,168.3L530.5,169.2Z"/><path d="M521.8,169.7L519.4,168.8L522.5,168.0L524.9,169.0Z"/><path d="M516.3,169.5L513.9,168.5L517.0,167.8L519.4,168.8Z"/><path d="M510.8,169.3L508.4,168.3L511.5,167.6L513.9,168.5Z"/><path d="M505.3,169.0L502.9,168.1L506.0,167.4L508.4,168.3Z"/><path d="M499.8,168.8L497.4,167.9L500.5,167.2L502.9,168.1Z"/><path d="M494.2,168.6L491.8,167.7L494.9,167.0L497.4,167.9Z"/><path d="M488.7,168.4L486.3,167.5L489.4,166.8L491.8,167.7Z"/><path d="M483.2,168.2L480.8,167.3L483.9,166.5L486.3,167.5Z"/><path d="M477.7,168.0L475.3,167.0L478.4,166.3L480.8,167.3Z"/><path d="M472.2,167.7L469.8,166.8L472.9,166.1L475.3,167.0Z"/><path d="M612.5,174.0L610.1,173.1L613.2,172.4L615.6,173.3Z"/><path d="M607.0,173.8L604.6,172.9L607.7,172.2L610.1,173.1Z"/><path d="M601.5,173.6L599.1,172.7L602.2,172.0L604.6,172.9Z"/><path d="M596.0,173.4L593.5,172.5L596.7,171.8L599.1,172.7Z"/><path d="M590.4,173.2L588.0,172.3L591.1,171.5L593.5,172.5Z"/><path d="M584.9,173.0L582.5,172.0L585.6,171.3L588.0,172.3Z"/><path d="M579.4,172.7L577.0,171.8L580.1,171.1L582.5,172.0Z"/><path d="M573.9,172.5L571.5,171.6L574.6,170.9L577.0,171.8Z"/><path d="M568.4,172.3L566.0,171.4L569.1,170.7L571.5,171.6Z"/><path d="M562.9,172.1L560.5,171.2L563.6,170.5L566.0,171.4Z"/><path d="M557.3,171.9L554.9,171.0L558.0,170.2L560.5,171.2Z"/><path d="M551.8,171.7L549.4,170.7L552.5,170.0L554.9,171.0Z"/><path d="M546.3,171.5L543.9,170.5L547.0,169.8L549.4,170.7Z"/><path d="M540.8,171.2L538.4,170.3L541.5,169.6L543.9,170.5Z"/><path d="M535.3,171.0L532.9,170.1L536.0,169.4L538.4,170.3Z"/><path d="M529.8,170.8L527.4,169.9L530.5,169.2L532.9,170.1Z"/><path d="M524.2,170.6L521.8,169.7L524.9,169.0L527.4,169.9Z"/><path d="M518.7,170.4L516.3,169.5L519.4,168.8L521.8,169.7Z"/><path d="M513.2,170.2L510.8,169.3L513.9,168.5L516.3,169.5Z"/><path d="M507.7,170.0L505.3,169.0L508.4,168.3L510.8,169.3Z"/><path d="M502.2,169.7L499.8,168.8L502.9,168.1L505.3,169.0Z"/><path d="M496.7,169.5L494.2,168.6L497.4,167.9L499.8,168.8Z"/><path d="M491.1,169.3L488.7,168.4L491.8,167.7L494.2,168.6Z"/><path d="M485.6,169.1L483.2,168.2L486.3,167.5L488.7,168.4Z"/><path d="M480.1,168.9L477.7,168.0L480.8,167.3L483.2,168.2Z"/><path d="M474.6,168.7L472.2,167.7L475.3,167.0L477.7,168.0Z"/><path d="M609.4,174.7L607.0,173.8L610.1,173.1L612.5,174.0Z"/><path d="M603.9,174.5L601.5,173.6L604.6,172.9L607.0,173.8Z"/><path d="M598.4,174.3L596.0,173.4L599.1,172.7L601.5,173.6Z"/><path d="M592.8,174.1L590.4,173.2L593.5,172.5L596.0,173.4Z"/><path d="M587.3,173.9L584.9,173.0L588.0,172.3L590.4,173.2Z"/><path d="M581.8,173.7L579.4,172.7L582.5,172.0L584.9,173.0Z"/><path d="M576.3,173.5L573.9,172.5L577.0,171.8L579.4,172.7Z"/><path d="M570.8,173.2L568.4,172.3L571.5,171.6L573.9,172.5Z"/><path d="M565.3,173.0L562.9,172.1L566.0,171.4L568.4,172.3Z"/><path d="M559.8,172.8L557.3,171.9L560.5,171.2L562.9,172.1Z"/><path d="M554.2,172.6L551.8,171.7L554.9,171.0L557.3,171.9Z"/><path d="M548.7,172.4L546.3,171.5L549.4,170.7L551.8,171.7Z"/><path d="M543.2,172.2L540.8,171.2L543.9,170.5L546.3,171.5Z"/><path d="M537.7,172.0L535.3,171.0L538.4,170.3L540.8,171.2Z"/><path d="M532.2,171.7L529.8,170.8L532.9,170.1L535.3,171.0Z"/><path d="M526.6,171.5L524.2,170.6L527.4,169.9L529.8,170.8Z"/><path d="M521.1,171.3L518.7,170.4L521.8,169.7L524.2,170.6Z"/><path d="M515.6,171.1L513.2,170.2L516.3,169.5L518.7,170.4Z"/><path d="M510.1,170.9L507.7,170.0L510.8,169.3L513.2,170.2Z"/><path d="M504.6,170.7L502.2,169.7L505.3,169.0L507.7,170.0Z"/><path d="M499.1,170.5L496.7,169.5L499.8,168.8L502.2,169.7Z"/><path d="M493.5,170.2L491.1,169.3L494.2,168.6L496.7,169.5Z"/><path d="M488.0,170.0L485.6,169.1L488.7,168.4L491.1,169.3Z"/><path d="M482.5,169.8L480.1,168.9L483.2,168.2L485.6,169.1Z"/><path d="M477.0,169.6L474.6,168.7L477.7,168.0L480.1,168.9Z"/><path d="M606.3,175.5L603.9,174.5L607.0,173.8L609.4,174.7Z"/><path d="M600.8,175.2L598.4,174.3L601.5,173.6L603.9,174.5Z"/><path d="M595.3,175.0L592.8,174.1L596.0,173.4L598.4,174.3Z"/><path d="M589.7,174.8L587.3,173.9L590.4,173.2L592.8,174.1Z"/><path d="M584.2,174.6L581.8,173.7L584.9,173.0L587.3,173.9Z"/><path d="M578.7,174.4L576.3,173.5L579.4,172.7L581.8,173.7Z"/><path d="M573.2,174.2L570.8,173.2L573.9,172.5L576.3,173.5Z"/><path d="M567.7,174.0L565.3,173.0L568.4,172.3L570.8,173.2Z"/><path d="M562.2,173.7L559.8,172.8L562.9,172.1L565.3,173.0Z"/><path d="M556.6,173.5L554.2,172.6L557.3,171.9L559.8,172.8Z"/><path d="M551.1,173.3L548.7,172.4L551.8,171.7L554.2,172.6Z"/><path d="M545.6,173.1L543.2,172.2L546.3,171.5L548.7,172.4Z"/><path d="M540.1,172.9L537.7,172.0L540.8,171.2L543.2,172.2Z"/><path d="M534.6,172.7L532.2,171.7L535.3,171.0L537.7,172.0Z"/><path d="M529.1,172.5L526.6,171.5L529.8,170.8L532.2,171.7Z"/><path d="M523.5,172.2L521.1,171.3L524.2,170.6L526.6,171.5Z"/><path d="M518.0,172.0L515.6,171.1L518.7,170.4L521.1,171.3Z"/><path d="M512.5,171.8L510.1,170.9L513.2,170.2L515.6,171.1Z"/><path d="M507.0,171.6L504.6,170.7L507.7,170.0L510.1,170.9Z"/><path d="M501.5,171.4L499.1,170.5L502.2,169.7L504.6,170.7Z"/><path d="M496.0,171.2L493.5,170.2L496.7,169.5L499.1,170.5Z"/><path d="M490.4,171.0L488.0,170.0L491.1,169.3L493.5,170.2Z"/><path d="M484.9,170.7L482.5,169.8L485.6,169.1L488.0,170.0Z"/><path d="M479.4,170.5L477.0,169.6L480.1,168.9L482.5,169.8Z"/><path d="M603.2,176.2L600.8,175.2L603.9,174.5L606.3,175.5Z"/><path d="M597.7,176.0L595.3,175.0L598.4,174.3L600.8,175.2Z"/><path d="M592.1,175.7L589.7,174.8L592.8,174.1L595.3,175.0Z"/><path d="M586.6,175.5L584.2,174.6L587.3,173.9L589.7,174.8Z"/><path d="M581.1,175.3L578.7,174.4L581.8,173.7L584.2,174.6Z"/><path d="M575.6,175.1L573.2,174.2L576.3,173.5L578.7,174.4Z"/><path d="M570.1,174.9L567.7,174.0L570.8,173.2L573.2,174.2Z"/><path d="M564.6,174.7L562.2,173.7L565.3,173.0L567.7,174.0Z"/><path d="M559.0,174.5L556.6,173.5L559.8,172.8L562.2,173.7Z"/><path d="M553.5,174.2L551.1,173.3L554.2,172.6L556.6,173.5Z"/><path d="M548.0,174.0L545.6,173.1L548.7,172.4L551.1,173.3Z"/><path d="M542.5,173.8L540.1,172.9L543.2,172.2L545.6,173.1Z"/><path d="M537.0,173.6L534.6,172.7L537.7,172.0L540.1,172.9Z"/><path d="M531.5,173.4L529.1,172.5L532.2,171.7L534.6,172.7Z"/><path d="M526.0,173.2L523.5,172.2L526.6,171.5L529.1,172.5Z"/><path d="M520.4,173.0L518.0,172.0L521.1,171.3L523.5,172.2Z"/><path d="M514.9,172.7L512.5,171.8L515.6,171.1L518.0,172.0Z"/><path d="M509.4,172.5L507.0,171.6L510.1,170.9L512.5,171.8Z"/><path d="M503.9,172.3L501.5,171.4L504.6,170.7L507.0,171.6Z"/><path d="M498.4,172.1L496.0,171.2L499.1,170.5L501.5,171.4Z"/><path d="M492.9,171.9L490.4,171.0L493.5,170.2L496.0,171.2Z"/><path d="M487.3,171.7L484.9,170.7L488.0,170.0L490.4,171.0Z"/><path d="M481.8,171.4L479.4,170.5L482.5,169.8L484.9,170.7Z"/><path d="M600.1,176.9L597.7,176.0L600.8,175.2L603.2,176.2Z"/><path d="M594.6,176.7L592.1,175.7L595.3,175.0L597.7,176.0Z"/><path d="M589.0,176.5L586.6,175.5L589.7,174.8L592.1,175.7Z"/><path d="M583.5,176.2L581.1,175.3L584.2,174.6L586.6,175.5Z"/><path d="M578.0,176.0L575.6,175.1L578.7,174.4L581.1,175.3Z"/><path d="M572.5,175.8L570.1,174.9L573.2,174.2L575.6,175.1Z"/><path d="M567.0,175.6L564.6,174.7L567.7,174.0L570.1,174.9Z"/><path d="M561.5,175.4L559.0,174.5L562.2,173.7L564.6,174.7Z"/><path d="M555.9,175.2L553.5,174.2L556.6,173.5L559.0,174.5Z"/><path d="M550.4,174.9L548.0,174.0L551.1,173.3L553.5,174.2Z"/><path d="M544.9,174.7L542.5,173.8L545.6,173.1L548.0,174.0Z"/><path d="M539.4,174.5L537.0,173.6L540.1,172.9L542.5,173.8Z"/><path d="M533.9,174.3L531.5,173.4L534.6,172.7L537.0,173.6Z"/><path d="M528.4,174.1L526.0,173.2L529.1,172.5L531.5,173.4Z"/><path d="M522.8,173.9L520.4,173.0L523.5,172.2L526.0,173.2Z"/><path d="M517.3,173.7L514.9,172.7L518.0,172.0L520.4,173.0Z"/><path d="M511.8,173.4L509.4,172.5L512.5,171.8L514.9,172.7Z"/><path d="M506.3,173.2L503.9,172.3L507.0,171.6L509.4,172.5Z"/><path d="M500.8,173.0L498.4,172.1L501.5,171.4L503.9,172.3Z"/><path d="M495.3,172.8L492.9,171.9L496.0,171.2L498.4,172.1Z"/><path d="M489.7,172.6L487.3,171.7L490.4,171.0L492.9,171.9Z"/><path d="M484.2,172.4L481.8,171.4L484.9,170.7L487.3,171.7Z"/><path d="M597.0,177.6L594.6,176.7L597.7,176.0L600.1,176.9Z"/><path d="M591.5,177.4L589.0,176.5L592.1,175.7L594.6,176.7Z"/><path d="M585.9,177.2L583.5,176.2L586.6,175.5L589.0,176.5Z"/><path d="M580.4,176.9L578.0,176.0L581.1,175.3L583.5,176.2Z"/><path d="M574.9,176.7L572.5,175.8L575.6,175.1L578.0,176.0Z"/><path d="M569.4,176.5L567.0,175.6L570.1,174.9L572.5,175.8Z"/><path d="M563.9,176.3L561.5,175.4L564.6,174.7L567.0,175.6Z"/><path d="M558.3,176.1L555.9,175.2L559.0,174.5L561.5,175.4Z"/><path d="M552.8,175.9L550.4,174.9L553.5,174.2L555.9,175.2Z"/><path d="M547.3,175.7L544.9,174.7L548.0,174.0L550.4,174.9Z"/><path d="M541.8,175.4L539.4,174.5L542.5,173.8L544.9,174.7Z"/><path d="M536.3,175.2L533.9,174.3L537.0,173.6L539.4,174.5Z"/><path d="M530.8,175.0L528.4,174.1L531.5,173.4L533.9,174.3Z"/><path d="M525.2,174.8L522.8,173.9L526.0,173.2L528.4,174.1Z"/><path d="M519.7,174.6L517.3,173.7L520.4,173.0L522.8,173.9Z"/><path d="M514.2,174.4L511.8,173.4L514.9,172.7L517.3,173.7Z"/><path d="M508.7,174.2L506.3,173.2L509.4,172.5L511.8,173.4Z"/><path d="M503.2,173.9L500.8,173.0L503.9,172.3L506.3,173.2Z"/><path d="M497.7,173.7L495.3,172.8L498.4,172.1L500.8,173.0Z"/><path d="M492.1,173.5L489.7,172.6L492.9,171.9L495.3,172.8Z"/><path d="M486.6,173.3L484.2,172.4L487.3,171.7L489.7,172.6Z"/><path d="M593.9,178.3L591.5,177.4L594.6,176.7L597.0,177.6Z"/><path d="M588.3,178.1L585.9,177.2L589.0,176.5L591.5,177.4Z"/><path d="M582.8,177.9L580.4,176.9L583.5,176.2L585.9,177.2Z"/><path d="M577.3,177.7L574.9,176.7L578.0,176.0L580.4,176.9Z"/><path d="M571.8,177.4L569.4,176.5L572.5,175.8L574.9,176.7Z"/><path d="M566.3,177.2L563.9,176.3L567.0,175.6L569.4,176.5Z"/><path d="M560.8,177.0L558.3,176.1L561.5,175.4L563.9,176.3Z"/><path d="M555.2,176.8L552.8,175.9L555.9,175.2L558.3,176.1Z"/><path d="M549.7,176.6L547.3,175.7L550.4,174.9L552.8,175.9Z"/><path d="M544.2,176.4L541.8,175.4L544.9,174.7L547.3,175.7Z"/><path d="M538.7,176.2L536.3,175.2L539.4,174.5L541.8,175.4Z"/><path d="M533.2,175.9L530.8,175.0L533.9,174.3L536.3,175.2Z"/><path d="M527.7,175.7L525.2,174.8L528.4,174.1L530.8,175.0Z"/><path d="M522.1,175.5L519.7,174.6L522.8,173.9L525.2,174.8Z"/><path d="M516.6,175.3L514.2,174.4L517.3,173.7L519.7,174.6Z"/><path d="M511.1,175.1L508.7,174.2L511.8,173.4L514.2,174.4Z"/><path d="M505.6,174.9L503.2,173.9L506.3,173.2L508.7,174.2Z"/><path d="M500.1,174.7L497.7,173.7L500.8,173.0L503.2,173.9Z"/><path d="M494.6,174.4L492.1,173.5L495.3,172.8L497.7,173.7Z"/><path d="M489.0,174.2L486.6,173.3L489.7,172.6L492.1,173.5Z"/><path d="M590.8,179.0L588.3,178.1L591.5,177.4L593.9,178.3Z"/><path d="M585.2,178.8L582.8,177.9L585.9,177.2L588.3,178.1Z"/><path d="M579.7,178.6L577.3,177.7L580.4,176.9L582.8,177.9Z"/><path d="M574.2,178.4L571.8,177.4L574.9,176.7L577.3,177.7Z"/><path d="M568.7,178.2L566.3,177.2L569.4,176.5L571.8,177.4Z"/><path d="M563.2,177.9L560.8,177.0L563.9,176.3L566.3,177.2Z"/><path d="M557.6,177.7L555.2,176.8L558.3,176.1L560.8,177.0Z"/><path d="M552.1,177.5L549.7,176.6L552.8,175.9L555.2,176.8Z"/><path d="M546.6,177.3L544.2,176.4L547.3,175.7L549.7,176.6Z"/><path d="M541.1,177.1L538.7,176.2L541.8,175.4L544.2,176.4Z"/><path d="M535.6,176.9L533.2,175.9L536.3,175.2L538.7,176.2Z"/><path d="M530.1,176.7L527.7,175.7L530.8,175.0L533.2,175.9Z"/><path d="M524.5,176.4L522.1,175.5L525.2,174.8L527.7,175.7Z"/><path d="M519.0,176.2L516.6,175.3L519.7,174.6L522.1,175.5Z"/><path d="M513.5,176.0L511.1,175.1L514.2,174.4L516.6,175.3Z"/><path d="M508.0,175.8L505.6,174.9L508.7,174.2L511.1,175.1Z"/><path d="M502.5,175.6L500.1,174.7L503.2,173.9L505.6,174.9Z"/><path d="M497.0,175.4L494.6,174.4L497.7,173.7L500.1,174.7Z"/><path d="M491.4,175.1L489.0,174.2L492.1,173.5L494.6,174.4Z"/><path d="M587.6,179.7L585.2,178.8L588.3,178.1L590.8,179.0Z"/><path d="M582.1,179.5L579.7,178.6L582.8,177.9L585.2,178.8Z"/><path d="M576.6,179.3L574.2,178.4L577.3,177.7L579.7,178.6Z"/><path d="M571.1,179.1L568.7,178.2L571.8,177.4L574.2,178.4Z"/><path d="M565.6,178.9L563.2,177.9L566.3,177.2L568.7,178.2Z"/><path d="M560.1,178.6L557.6,177.7L560.8,177.0L563.2,177.9Z"/><path d="M554.5,178.4L552.1,177.5L555.2,176.8L557.6,177.7Z"/><path d="M549.0,178.2L546.6,177.3L549.7,176.6L552.1,177.5Z"/><path d="M543.5,178.0L541.1,177.1L544.2,176.4L546.6,177.3Z"/><path d="M538.0,177.8L535.6,176.9L538.7,176.2L541.1,177.1Z"/><path d="M532.5,177.6L530.1,176.7L533.2,175.9L535.6,176.9Z"/><path d="M527.0,177.4L524.5,176.4L527.7,175.7L530.1,176.7Z"/><path d="M521.4,177.1L519.0,176.2L522.1,175.5L524.5,176.4Z"/><path d="M515.9,176.9L513.5,176.0L516.6,175.3L519.0,176.2Z"/><path d="M510.4,176.7L508.0,175.8L511.1,175.1L513.5,176.0Z"/><path d="M504.9,176.5L502.5,175.6L505.6,174.9L508.0,175.8Z"/><path d="M499.4,176.3L497.0,175.4L500.1,174.7L502.5,175.6Z"/><path d="M493.9,176.1L491.4,175.1L494.6,174.4L497.0,175.4Z"/><path d="M584.5,180.4L582.1,179.5L585.2,178.8L587.6,179.7Z"/><path d="M579.0,180.2L576.6,179.3L579.7,178.6L582.1,179.5Z"/><path d="M573.5,180.0L571.1,179.1L574.2,178.4L576.6,179.3Z"/><path d="M568.0,179.8L565.6,178.9L568.7,178.2L571.1,179.1Z"/><path d="M562.5,179.6L560.1,178.6L563.2,177.9L565.6,178.9Z"/><path d="M557.0,179.4L554.5,178.4L557.6,177.7L560.1,178.6Z"/><path d="M551.4,179.1L549.0,178.2L552.1,177.5L554.5,178.4Z"/><path d="M545.9,178.9L543.5,178.0L546.6,177.3L549.0,178.2Z"/><path d="M540.4,178.7L538.0,177.8L541.1,177.1L543.5,178.0Z"/><path d="M534.9,178.5L532.5,177.6L535.6,176.9L538.0,177.8Z"/><path d="M529.4,178.3L527.0,177.4L530.1,176.7L532.5,177.6Z"/><path d="M523.8,178.1L521.4,177.1L524.5,176.4L527.0,177.4Z"/><path d="M518.3,177.9L515.9,176.9L519.0,176.2L521.4,177.1Z"/><path d="M512.8,177.6L510.4,176.7L513.5,176.0L515.9,176.9Z"/><path d="M507.3,177.4L504.9,176.5L508.0,175.8L510.4,176.7Z"/><path d="M501.8,177.2L499.4,176.3L502.5,175.6L504.9,176.5Z"/><path d="M496.3,177.0L493.9,176.1L497.0,175.4L499.4,176.3Z"/><path d="M581.4,181.1L579.0,180.2L582.1,179.5L584.5,180.4Z"/><path d="M575.9,180.9L573.5,180.0L576.6,179.3L579.0,180.2Z"/><path d="M570.4,180.7L568.0,179.8L571.1,179.1L573.5,180.0Z"/><path d="M564.9,180.5L562.5,179.6L565.6,178.9L568.0,179.8Z"/><path d="M559.4,180.3L557.0,179.4L560.1,178.6L562.5,179.6Z"/><path d="M553.8,180.1L551.4,179.1L554.5,178.4L557.0,179.4Z"/><path d="M548.3,179.9L545.9,178.9L549.0,178.2L551.4,179.1Z"/><path d="M542.8,179.6L540.4,178.7L543.5,178.0L545.9,178.9Z"/><path d="M537.3,179.4L534.9,178.5L538.0,177.8L540.4,178.7Z"/><path d="M531.8,179.2L529.4,178.3L532.5,177.6L534.9,178.5Z"/><path d="M526.3,179.0L523.8,178.1L527.0,177.4L529.4,178.3Z"/><path d="M520.7,178.8L518.3,177.9L521.4,177.1L523.8,178.1Z"/><path d="M515.2,178.6L512.8,177.6L515.9,176.9L518.3,177.9Z"/><path d="M509.7,178.4L507.3,177.4L510.4,176.7L512.8,177.6Z"/><path d="M504.2,178.1L501.8,177.2L504.9,176.5L507.3,177.4Z"/><path d="M498.7,177.9L496.3,177.0L499.4,176.3L501.8,177.2Z"/><path d="M578.3,181.9L575.9,180.9L579.0,180.2L581.4,181.1Z"/><path d="M572.8,181.6L570.4,180.7L573.5,180.0L575.9,180.9Z"/><path d="M567.3,181.4L564.9,180.5L568.0,179.8L570.4,180.7Z"/><path d="M561.8,181.2L559.4,180.3L562.5,179.6L564.9,180.5Z"/><path d="M556.2,181.0L553.8,180.1L557.0,179.4L559.4,180.3Z"/><path d="M550.7,180.8L548.3,179.9L551.4,179.1L553.8,180.1Z"/><path d="M545.2,180.6L542.8,179.6L545.9,178.9L548.3,179.9Z"/><path d="M539.7,180.4L537.3,179.4L540.4,178.7L542.8,179.6Z"/><path d="M534.2,180.1L531.8,179.2L534.9,178.5L537.3,179.4Z"/><path d="M528.7,179.9L526.3,179.0L529.4,178.3L531.8,179.2Z"/><path d="M523.1,179.7L520.7,178.8L523.8,178.1L526.3,179.0Z"/><path d="M517.6,179.5L515.2,178.6L518.3,177.9L520.7,178.8Z"/><path d="M512.1,179.3L509.7,178.4L512.8,177.6L515.2,178.6Z"/><path d="M506.6,179.1L504.2,178.1L507.3,177.4L509.7,178.4Z"/><path d="M501.1,178.8L498.7,177.9L501.8,177.2L504.2,178.1Z"/><path d="M575.2,182.6L572.8,181.6L575.9,180.9L578.3,181.9Z"/><path d="M569.7,182.3L567.3,181.4L570.4,180.7L572.8,181.6Z"/><path d="M564.2,182.1L561.8,181.2L564.9,180.5L567.3,181.4Z"/><path d="M558.7,181.9L556.2,181.0L559.4,180.3L561.8,181.2Z"/><path d="M553.1,181.7L550.7,180.8L553.8,180.1L556.2,181.0Z"/><path d="M547.6,181.5L545.2,180.6L548.3,179.9L550.7,180.8Z"/><path d="M542.1,181.3L539.7,180.4L542.8,179.6L545.2,180.6Z"/><path d="M536.6,181.1L534.2,180.1L537.3,179.4L539.7,180.4Z"/><path d="M531.1,180.8L528.7,179.9L531.8,179.2L534.2,180.1Z"/><path d="M525.6,180.6L523.1,179.7L526.3,179.0L528.7,179.9Z"/><path d="M520.0,180.4L517.6,179.5L520.7,178.8L523.1,179.7Z"/><path d="M514.5,180.2L512.1,179.3L515.2,178.6L517.6,179.5Z"/><path d="M509.0,180.0L506.6,179.1L509.7,178.4L512.1,179.3Z"/><path d="M503.5,179.8L501.1,178.8L504.2,178.1L506.6,179.1Z"/><path d="M572.1,183.3L569.7,182.3L572.8,181.6L575.2,182.6Z"/><path d="M566.6,183.1L564.2,182.1L567.3,181.4L569.7,182.3Z"/><path d="M561.1,182.8L558.7,181.9L561.8,181.2L564.2,182.1Z"/><path d="M555.5,182.6L553.1,181.7L556.2,181.0L558.7,181.9Z"/><path d="M550.0,182.4L547.6,181.5L550.7,180.8L553.1,181.7Z"/><path d="M544.5,182.2L542.1,181.3L545.2,180.6L547.6,181.5Z"/><path d="M539.0,182.0L536.6,181.1L539.7,180.4L542.1,181.3Z"/><path d="M533.5,181.8L531.1,180.8L534.2,180.1L536.6,181.1Z"/><path d="M528.0,181.6L525.6,180.6L528.7,179.9L531.1,180.8Z"/><path d="M522.5,181.3L520.0,180.4L523.1,179.7L525.6,180.6Z"/><path d="M516.9,181.1L514.5,180.2L517.6,179.5L520.0,180.4Z"/><path d="M511.4,180.9L509.0,180.0L512.1,179.3L514.5,180.2Z"/><path d="M505.9,180.7L503.5,179.8L506.6,179.1L509.0,180.0Z"/><path d="M569.0,184.0L566.6,183.1L569.7,182.3L572.1,183.3Z"/><path d="M563.5,183.8L561.1,182.8L564.2,182.1L566.6,183.1Z"/><path d="M558.0,183.6L555.5,182.6L558.7,181.9L561.1,182.8Z"/><path d="M552.4,183.3L550.0,182.4L553.1,181.7L555.5,182.6Z"/><path d="M546.9,183.1L544.5,182.2L547.6,181.5L550.0,182.4Z"/><path d="M541.4,182.9L539.0,182.0L542.1,181.3L544.5,182.2Z"/><path d="M535.9,182.7L533.5,181.8L536.6,181.1L539.0,182.0Z"/><path d="M530.4,182.5L528.0,181.6L531.1,180.8L533.5,181.8Z"/><path d="M524.9,182.3L522.5,181.3L525.6,180.6L528.0,181.6Z"/><path d="M519.3,182.1L516.9,181.1L520.0,180.4L522.5,181.3Z"/><path d="M513.8,181.8L511.4,180.9L514.5,180.2L516.9,181.1Z"/><path d="M508.3,181.6L505.9,180.7L509.0,180.0L511.4,180.9Z"/><path d="M565.9,184.7L563.5,183.8L566.6,183.1L569.0,184.0Z"/><path d="M560.4,184.5L558.0,183.6L561.1,182.8L563.5,183.8Z"/><path d="M554.8,184.3L552.4,183.3L555.5,182.6L558.0,183.6Z"/><path d="M549.3,184.1L546.9,183.1L550.0,182.4L552.4,183.3Z"/><path d="M543.8,183.8L541.4,182.9L544.5,182.2L546.9,183.1Z"/><path d="M538.3,183.6L535.9,182.7L539.0,182.0L541.4,182.9Z"/><path d="M532.8,183.4L530.4,182.5L533.5,181.8L535.9,182.7Z"/><path d="M527.3,183.2L524.9,182.3L528.0,181.6L530.4,182.5Z"/><path d="M521.8,183.0L519.3,182.1L522.5,181.3L524.9,182.3Z"/><path d="M516.2,182.8L513.8,181.8L516.9,181.1L519.3,182.1Z"/><path d="M510.7,182.5L508.3,181.6L511.4,180.9L513.8,181.8Z"/><path d="M562.8,185.4L560.4,184.5L563.5,183.8L565.9,184.7Z"/><path d="M557.3,185.2L554.8,184.3L558.0,183.6L560.4,184.5Z"/><path d="M551.7,185.0L549.3,184.1L552.4,183.3L554.8,184.3Z"/><path d="M546.2,184.8L543.8,183.8L546.9,183.1L549.3,184.1Z"/><path d="M540.7,184.5L538.3,183.6L541.4,182.9L543.8,183.8Z"/><path d="M535.2,184.3L532.8,183.4L535.9,182.7L538.3,183.6Z"/><path d="M529.7,184.1L527.3,183.2L530.4,182.5L532.8,183.4Z"/><path d="M524.2,183.9L521.8,183.0L524.9,182.3L527.3,183.2Z"/><path d="M518.6,183.7L516.2,182.8L519.3,182.1L521.8,183.0Z"/><path d="M513.1,183.5L510.7,182.5L513.8,181.8L516.2,182.8Z"/><path d="M559.7,186.1L557.3,185.2L560.4,184.5L562.8,185.4Z"/><path d="M554.1,185.9L551.7,185.0L554.8,184.3L557.3,185.2Z"/><path d="M548.6,185.7L546.2,184.8L549.3,184.1L551.7,185.0Z"/><path d="M543.1,185.5L540.7,184.5L543.8,183.8L546.2,184.8Z"/><path d="M537.6,185.3L535.2,184.3L538.3,183.6L540.7,184.5Z"/><path d="M532.1,185.0L529.7,184.1L532.8,183.4L535.2,184.3Z"/><path d="M526.6,184.8L524.2,183.9L527.3,183.2L529.7,184.1Z"/><path d="M521.0,184.6L518.6,183.7L521.8,183.0L524.2,183.9Z"/><path d="M515.5,184.4L513.1,183.5L516.2,182.8L518.6,183.7Z"/><path d="M556.6,186.8L554.1,185.9L557.3,185.2L559.7,186.1Z"/><path d="M551.0,186.6L548.6,185.7L551.7,185.0L554.1,185.9Z"/><path d="M545.5,186.4L543.1,185.5L546.2,184.8L548.6,185.7Z"/><path d="M540.0,186.2L537.6,185.3L540.7,184.5L543.1,185.5Z"/><path d="M534.5,186.0L532.1,185.0L535.2,184.3L537.6,185.3Z"/><path d="M529.0,185.8L526.6,184.8L529.7,184.1L532.1,185.0Z"/><path d="M523.5,185.5L521.0,184.6L524.2,183.9L526.6,184.8Z"/><path d="M517.9,185.3L515.5,184.4L518.6,183.7L521.0,184.6Z"/><path d="M553.4,187.5L551.0,186.6L554.1,185.9L556.6,186.8Z"/><path d="M547.9,187.3L545.5,186.4L548.6,185.7L551.0,186.6Z"/><path d="M542.4,187.1L540.0,186.2L543.1,185.5L545.5,186.4Z"/><path d="M536.9,186.9L534.5,186.0L537.6,185.3L540.0,186.2Z"/><path d="M531.4,186.7L529.0,185.8L532.1,185.0L534.5,186.0Z"/><path d="M525.9,186.5L523.5,185.5L526.6,184.8L529.0,185.8Z"/><path d="M520.3,186.2L517.9,185.3L521.0,184.6L523.5,185.5Z"/><path d="M550.3,188.2L547.9,187.3L551.0,186.6L553.4,187.5Z"/><path d="M544.8,188.0L542.4,187.1L545.5,186.4L547.9,187.3Z"/><path d="M539.3,187.8L536.9,186.9L540.0,186.2L542.4,187.1Z"/><path d="M533.8,187.6L531.4,186.7L534.5,186.0L536.9,186.9Z"/><path d="M528.3,187.4L525.9,186.5L529.0,185.8L531.4,186.7Z"/><path d="M522.8,187.2L520.3,186.2L523.5,185.5L525.9,186.5Z"/><path d="M547.2,189.0L544.8,188.0L547.9,187.3L550.3,188.2Z"/><path d="M541.7,188.7L539.3,187.8L542.4,187.1L544.8,188.0Z"/><path d="M536.2,188.5L533.8,187.6L536.9,186.9L539.3,187.8Z"/><path d="M530.7,188.3L528.3,187.4L531.4,186.7L533.8,187.6Z"/><path d="M525.2,188.1L522.8,187.2L525.9,186.5L528.3,187.4Z"/><path d="M544.1,189.7L541.7,188.7L544.8,188.0L547.2,189.0Z"/><path d="M538.6,189.5L536.2,188.5L539.3,187.8L541.7,188.7Z"/><path d="M533.1,189.2L530.7,188.3L533.8,187.6L536.2,188.5Z"/><path d="M527.6,189.0L525.2,188.1L528.3,187.4L530.7,188.3Z"/><path d="M541.0,190.4L538.6,189.5L541.7,188.7L544.1,189.7Z"/><path d="M535.5,190.2L533.1,189.2L536.2,188.5L538.6,189.5Z"/><path d="M530.0,189.9L527.6,189.0L530.7,188.3L533.1,189.2Z"/><path d="M537.9,191.1L535.5,190.2L538.6,189.5L541.0,190.4Z"/><path d="M532.4,190.9L530.0,189.9L533.1,189.2L535.5,190.2Z"/><path d="M534.8,191.8L532.4,190.9L535.5,190.2L537.9,191.1Z"/></g>
<path d="M419.6,25 L419.6,147.4 L534.8,191.8 L684.5,157.6" fill="none" stroke="#3b3b3b" stroke-width="1.1"/>
<path d="M415.1,25.6 L424.1,25.6 L419.6,18.2 Z" fill="#3b3b3b"/>
<text transform="translate(414.6,142.6) rotate(-90)" font-size="16" fill="#404040">TNA Synthesis</text>
<text transform="translate(483.6,130.2) rotate(-90)" font-size="16" fill="#404040">DNAP</text>
<text transform="translate(590.9,54.8) rotate(-90)" font-size="16" fill="#404040">TNAP</text>
<text transform="translate(414.4,162.8) rotate(20.6)" font-size="16" fill="#404040">Sequence Space</text>
<text transform="translate(553,203) rotate(-13.2)" font-size="16" fill="#404040">Sequence Space</text>
<path d="M477.6,145.8 L492.5,145.8 L507.6,142 L515,135" fill="none" stroke="#5f6062" stroke-width="6" stroke-linejoin="round"/>
<path d="M507.8,132 L520.1,142.7 L522.5,127.8 Z" fill="#5f6062"/>
<path d="M522.5,127.8 C528,120 536,119 542,124 C548,129 552,131.5 558,132" fill="none" stroke="#5f6062" stroke-width="6.5"/>
<path d="M553.8,127 L570.2,125.3 L564.4,138.5 Z" fill="#5f6062"/>
<path d="M570.2,125.3 L580.4,110.3 L585.6,95.2 L585.4,85" fill="none" stroke="#5f6062" stroke-width="6.5"/>
<path d="M577.8,87.2 L593.6,87.2 L585.3,71 Z" fill="#5f6062"/>
<circle cx="477.6" cy="145.8" r="4.7" fill="#a5a7aa" stroke="#333" stroke-width="1.3"/>
<circle cx="492.5" cy="145.8" r="4.7" fill="#d4505a" stroke="#333" stroke-width="1.3"/>
<circle cx="507.6" cy="142" r="4.7" fill="#d8843a" stroke="#333" stroke-width="1.3"/>
<circle cx="522.5" cy="127.7" r="4.7" fill="#e0a82c" stroke="#333" stroke-width="1.3"/>
<circle cx="570.2" cy="125.3" r="4.7" fill="#6aa052" stroke="#333" stroke-width="1.3"/>
<circle cx="580.4" cy="110.3" r="4.7" fill="#17a36c" stroke="#333" stroke-width="1.3"/>
<circle cx="585.6" cy="95.2" r="4.7" fill="#4197c0" stroke="#333" stroke-width="1.3"/>
<circle cx="585.3" cy="69.9" r="4.7" fill="#5a5ea5" stroke="#333" stroke-width="1.3"/>
<rect x="0" y="220" width="685" height="29.3" fill="#dfe0e2"/>
<rect x="0" y="249.5" width="685" height="209.5" fill="#efeeec"/>
<text x="12.2" y="244" font-size="26" font-weight="bold" fill="#231f20">c</text>
<text x="155.2" y="240.7" font-size="16" fill="#404040">Mutations</text>
<text x="427.7" y="240.9" font-size="16" text-anchor="middle" fill="#404040">Count</text>
<text x="579.9" y="240.9" font-size="16" text-anchor="middle" fill="#404040">Distribution</text>
<line x1="0" y1="269.3" x2="380.7" y2="269.3" stroke="#e2e2e2" stroke-width="1"/>
<line x1="0" y1="288.3" x2="380.7" y2="288.3" stroke="#e2e2e2" stroke-width="1"/>
<line x1="0" y1="307.2" x2="380.7" y2="307.2" stroke="#e2e2e2" stroke-width="1"/>
<line x1="0" y1="383.6" x2="380.7" y2="383.6" stroke="#e2e2e2" stroke-width="1"/>
<line x1="0" y1="402.2" x2="380.7" y2="402.2" stroke="#e2e2e2" stroke-width="1"/>
<line x1="0" y1="421.2" x2="380.7" y2="421.2" stroke="#e2e2e2" stroke-width="1"/>
<line x1="0" y1="440.2" x2="380.7" y2="440.2" stroke="#e2e2e2" stroke-width="1"/>
<line x1="95.5" y1="249.3" x2="95.5" y2="459" stroke="#e2e2e2" stroke-width="1"/>
<line x1="380.7" y1="249.3" x2="380.7" y2="459" stroke="#e2e2e2" stroke-width="1"/>
<line x1="475.6" y1="249.3" x2="475.6" y2="459" stroke="#e2e2e2" stroke-width="1"/>
<line x1="389.5" y1="249.3" x2="389.5" y2="459" stroke="#9a9a9a" stroke-width="0.8" stroke-dasharray="1 1.2"/>
<rect x="16.4" y="262" width="6.2" height="187" fill="#6a6b6d"/>
<path d="M12.9,271.3 L26.1,271.3 L19.5,260.3 Z" fill="#6a6b6d"/>
<path d="M12.9,356.5 L26.1,356.5 L19.5,345.5 Z" fill="#6a6b6d"/>
<path d="M12.9,404.5 L26.1,404.5 L19.5,393.5 Z" fill="#6a6b6d"/>
<path d="M464.2,259.5 L456.6,278.4 L455.0,297.4 L448.9,344.8 L395.6,392.7 L392.5,411.6 L392.5,430.6 L389.5,449.5" fill="none" stroke="#3b3b3b" stroke-width="1.2"/>
<circle cx="19.5" cy="259.5" r="4.7" fill="#5a5ea5" stroke="#333" stroke-width="1.1"/>
<text x="29.3" y="263.3" font-size="10.7" fill="#404040">10-92</text>
<text x="105.9" y="263.3" font-size="10.7" fill="#404040">8-64,</text>
<text x="151.3" y="263.3" font-size="10.8" font-weight="bold" fill="#3c3c3c" style='font-family:"Liberation Mono", monospace' xml:space="preserve">Q339H, P474L, S493G, T548P, P550H</text>
<text x="427.7" y="263.3" font-size="11" text-anchor="middle" fill="#505050">49</text>
<circle cx="464.2" cy="259.5" r="4.9" fill="#5a5ea5" stroke="#333" stroke-width="1.1"/>
<circle cx="19.5" cy="278.4" r="4.7" fill="#4197c0" stroke="#333" stroke-width="1.1"/>
<text x="29.3" y="282.2" font-size="10.7" fill="#404040">8-64</text>
<text x="105.9" y="282.2" font-size="10.7" fill="#404040">7-47,</text>
<text x="151.3" y="282.2" font-size="10.8" font-weight="bold" fill="#3c3c3c" style='font-family:"Liberation Mono", monospace' xml:space="preserve">A741P</text>
<text x="427.7" y="282.2" font-size="11" text-anchor="middle" fill="#505050">44</text>
<circle cx="456.6" cy="278.4" r="4.9" fill="#4197c0" stroke="#333" stroke-width="1.1"/>
<circle cx="19.5" cy="297.4" r="4.7" fill="#17a36c" stroke="#333" stroke-width="1.1"/>
<text x="29.3" y="301.2" font-size="10.7" fill="#404040">7-47</text>
<text x="105.9" y="301.2" font-size="10.7" fill="#404040">5-270,</text>
<text x="151.3" y="301.2" font-size="10.8" font-weight="bold" fill="#3c3c3c" style='font-family:"Liberation Mono", monospace' xml:space="preserve">D615G, P717S, F749C, K771T</text>
<text x="427.7" y="301.2" font-size="11" text-anchor="middle" fill="#505050">43</text>
<circle cx="455.0" cy="297.4" r="4.9" fill="#17a36c" stroke="#333" stroke-width="1.1"/>
<circle cx="19.5" cy="344.8" r="4.7" fill="#6aa052" stroke="#333" stroke-width="1.1"/>
<text x="29.3" y="348.6" font-size="10.7" fill="#404040">5-270</text>
<text x="105.9" y="318.5" font-size="10.7" fill="#404040">RSGA,</text>
<text x="151.3" y="318.5" font-size="10.8" font-weight="bold" fill="#3c3c3c" style='font-family:"Liberation Mono", monospace' xml:space="preserve"> K99R, E102A, I107V, V127I, K136T,</text>
<text x="106.1" y="330.4" font-size="10.8" font-weight="bold" fill="#3c3c3c" style='font-family:"Liberation Mono", monospace' xml:space="preserve">Q285K, T296A, T297Q, N304G, I337V, S340P,</text>
<text x="106.1" y="342.4" font-size="10.8" font-weight="bold" fill="#3c3c3c" style='font-family:"Liberation Mono", monospace' xml:space="preserve">F356Y, K375R, L377Y, A378E, <tspan text-decoration="underline">+381L</tspan>, Q383E,</text>
<text x="106.1" y="354.4" font-size="10.8" font-weight="bold" fill="#3c3c3c" style='font-family:"Liberation Mono", monospace' xml:space="preserve">E386A, R395K, K466R, I472V, I475L, R477K,</text>
<text x="106.1" y="366.3" font-size="10.8" font-weight="bold" fill="#3c3c3c" style='font-family:"Liberation Mono", monospace' xml:space="preserve">E520Q, T523E, M524T, K527R, Y533F, I538L,</text>
<text x="106.1" y="378.2" font-size="10.8" font-weight="bold" fill="#3c3c3c" style='font-family:"Liberation Mono", monospace' xml:space="preserve">S540A, M562K, K566D, A575L, G602D, K672R</text>
<text x="427.7" y="348.6" font-size="11" text-anchor="middle" fill="#505050">39</text>
<circle cx="448.9" cy="344.8" r="4.9" fill="#6aa052" stroke="#333" stroke-width="1.1"/>
<circle cx="19.5" cy="392.7" r="4.7" fill="#e0a82c" stroke="#333" stroke-width="1.1"/>
<text x="29.3" y="396.5" font-size="10.7" fill="#404040">Kod-RSGA</text>
<text x="105.9" y="396.5" font-size="10.7" fill="#404040">RS,</text>
<text x="151.3" y="396.5" font-size="10.8" font-weight="bold" fill="#3c3c3c" style='font-family:"Liberation Mono", monospace' xml:space="preserve">R606G, T723A</text>
<text x="427.7" y="396.5" font-size="11" text-anchor="middle" fill="#505050">4</text>
<circle cx="395.6" cy="392.7" r="4.9" fill="#e0a82c" stroke="#333" stroke-width="1.1"/>
<circle cx="19.5" cy="411.6" r="4.7" fill="#d8843a" stroke="#333" stroke-width="1.1"/>
<text x="29.3" y="415.4" font-size="10.7" fill="#404040">Kod-RS</text>
<text x="105.9" y="415.4" font-size="10.7" fill="#404040">RI,</text>
<text x="151.3" y="415.4" font-size="10.8" font-weight="bold" fill="#3c3c3c" style='font-family:"Liberation Mono", monospace' xml:space="preserve">N491S, I664E</text>
<text x="427.7" y="415.4" font-size="11" text-anchor="middle" fill="#505050">2</text>
<circle cx="392.5" cy="411.6" r="4.9" fill="#d8843a" stroke="#333" stroke-width="1.1"/>
<circle cx="19.5" cy="430.6" r="4.7" fill="#d4505a" stroke="#333" stroke-width="1.1"/>
<text x="29.3" y="434.4" font-size="10.7" fill="#404040">Kod-RI</text>
<text x="105.9" y="434.4" font-size="10.7" fill="#404040">Kod<tspan font-size="6.3" dy="-3.6">exo-</tspan><tspan dy="3.6">,</tspan></text>
<text x="151.3" y="434.4" font-size="10.8" font-weight="bold" fill="#3c3c3c" style='font-family:"Liberation Mono", monospace' xml:space="preserve">A485R, E664I</text>
<text x="427.7" y="434.4" font-size="11" text-anchor="middle" fill="#505050">2</text>
<circle cx="392.5" cy="430.6" r="4.9" fill="#d4505a" stroke="#333" stroke-width="1.1"/>
<circle cx="19.5" cy="449.5" r="4.7" fill="#a5a7aa" stroke="#333" stroke-width="1.1"/>
<text x="29.3" y="453.3" font-size="10.7" fill="#404040">Kod<tspan font-size="6.3" dy="-3.6">exo-</tspan></text>
<text x="105.9" y="453.3" font-size="10.7" fill="#404040">Kod,</text>
<text x="151.3" y="453.3" font-size="10.8" font-weight="bold" fill="#3c3c3c" style='font-family:"Liberation Mono", monospace' xml:space="preserve">D141A, E143A</text>
<text x="427.7" y="453.3" font-size="11" text-anchor="middle" fill="#505050">0</text>
<circle cx="389.5" cy="449.5" r="4.9" fill="#a5a7aa" stroke="#333" stroke-width="1.1"/>
<defs><radialGradient id="sg" cx="0.35" cy="0.35" r="0.7"><stop offset="0" stop-color="#fff" stop-opacity="0.55"/><stop offset="0.5" stop-color="#fff" stop-opacity="0"/><stop offset="1" stop-color="#000" stop-opacity="0.25"/></radialGradient><clipPath id="pc"><path d="M485.3,350.8 L488.5,348.5 L491.2,345.7 L492.3,341.8 L495.8,339.5 L497.0,335.4 L497.3,333.0 L498.8,331.0 L498.8,327.3 L501.1,326.3 L504.0,321.8 L505.7,319.0 L506.9,316.3 L507.1,315.4 L509.3,311.1 L514.5,311.8 L516.2,311.0 L520.1,309.4 L523.5,309.8 L528.9,309.6 L532.3,307.2 L533.9,306.0 L536.3,304.9 L539.6,305.3 L540.2,302.2 L542.3,297.9 L544.8,295.0 L544.5,291.7 L546.4,287.3 L547.9,284.0 L550.5,283.9 L551.8,281.7 L555.7,279.2 L558.4,276.6 L562.4,277.5 L566.1,275.7 L571.6,276.5 L573.9,275.4 L578.1,276.7 L580.1,277.2 L584.8,278.1 L586.0,278.9 L589.2,278.0 L593.8,279.7 L596.5,280.1 L600.3,279.0 L603.1,279.0 L605.9,279.3 L609.4,283.6 L610.1,283.7 L614.1,287.2 L614.7,288.8 L617.1,292.6 L620.2,292.0 L622.6,293.6 L625.9,293.0 L631.1,293.4 L634.2,296.6 L637.3,297.5 L639.1,297.3 L642.2,298.9 L645.5,298.7 L650.2,300.3 L653.1,300.0 L654.0,303.6 L656.1,305.4 L658.0,308.0 L660.0,313.0 L663.1,315.5 L663.6,318.1 L664.3,321.3 L667.7,326.1 L667.3,329.2 L669.0,332.3 L669.4,335.8 L669.3,339.1 L669.8,341.9 L671.2,345.7 L670.4,349.6 L671.5,352.1 L670.3,355.3 L671.1,359.0 L671.9,362.7 L671.5,365.9 L670.0,368.9 L670.1,372.7 L668.3,376.1 L668.7,379.0 L668.1,383.0 L664.5,384.5 L661.2,387.8 L660.5,389.4 L657.5,392.5 L654.2,392.5 L651.0,394.7 L647.3,395.6 L643.9,397.7 L642.3,400.0 L639.1,401.2 L638.5,404.9 L636.3,407.4 L635.6,408.4 L633.5,411.3 L629.9,413.1 L627.8,415.2 L624.9,416.9 L622.9,419.7 L620.6,422.2 L617.1,424.6 L614.1,425.1 L612.2,426.8 L609.3,429.5 L606.9,428.0 L604.4,428.6 L601.2,429.7 L598.2,431.6 L595.8,430.8 L592.1,431.6 L587.3,430.6 L584.1,431.9 L581.3,433.1 L577.4,431.1 L575.0,429.8 L570.1,430.7 L568.3,429.1 L565.5,429.8 L562.1,427.5 L558.9,426.0 L557.9,425.1 L555.1,424.7 L551.5,421.5 L549.6,420.3 L545.5,418.2 L544.0,417.0 L539.6,415.2 L537.2,412.9 L536.0,409.5 L534.8,408.1 L530.9,404.7 L529.6,403.0 L527.4,400.5 L522.8,399.5 L521.2,399.0 L517.0,398.5 L514.4,396.8 L512.0,393.7 L509.3,392.1 L506.1,390.2 L502.9,388.7 L501.4,385.9 L500.2,384.0 L496.5,380.8 L495.6,380.1 L494.8,376.8 L490.7,375.0 L489.8,372.1 L489.2,368.9 L487.5,366.2 L486.0,361.7 L485.8,357.9 L484.5,355.2Z"/></clipPath></defs>
<path d="M485.3,350.8 L488.5,348.5 L491.2,345.7 L492.3,341.8 L495.8,339.5 L497.0,335.4 L497.3,333.0 L498.8,331.0 L498.8,327.3 L501.1,326.3 L504.0,321.8 L505.7,319.0 L506.9,316.3 L507.1,315.4 L509.3,311.1 L514.5,311.8 L516.2,311.0 L520.1,309.4 L523.5,309.8 L528.9,309.6 L532.3,307.2 L533.9,306.0 L536.3,304.9 L539.6,305.3 L540.2,302.2 L542.3,297.9 L544.8,295.0 L544.5,291.7 L546.4,287.3 L547.9,284.0 L550.5,283.9 L551.8,281.7 L555.7,279.2 L558.4,276.6 L562.4,277.5 L566.1,275.7 L571.6,276.5 L573.9,275.4 L578.1,276.7 L580.1,277.2 L584.8,278.1 L586.0,278.9 L589.2,278.0 L593.8,279.7 L596.5,280.1 L600.3,279.0 L603.1,279.0 L605.9,279.3 L609.4,283.6 L610.1,283.7 L614.1,287.2 L614.7,288.8 L617.1,292.6 L620.2,292.0 L622.6,293.6 L625.9,293.0 L631.1,293.4 L634.2,296.6 L637.3,297.5 L639.1,297.3 L642.2,298.9 L645.5,298.7 L650.2,300.3 L653.1,300.0 L654.0,303.6 L656.1,305.4 L658.0,308.0 L660.0,313.0 L663.1,315.5 L663.6,318.1 L664.3,321.3 L667.7,326.1 L667.3,329.2 L669.0,332.3 L669.4,335.8 L669.3,339.1 L669.8,341.9 L671.2,345.7 L670.4,349.6 L671.5,352.1 L670.3,355.3 L671.1,359.0 L671.9,362.7 L671.5,365.9 L670.0,368.9 L670.1,372.7 L668.3,376.1 L668.7,379.0 L668.1,383.0 L664.5,384.5 L661.2,387.8 L660.5,389.4 L657.5,392.5 L654.2,392.5 L651.0,394.7 L647.3,395.6 L643.9,397.7 L642.3,400.0 L639.1,401.2 L638.5,404.9 L636.3,407.4 L635.6,408.4 L633.5,411.3 L629.9,413.1 L627.8,415.2 L624.9,416.9 L622.9,419.7 L620.6,422.2 L617.1,424.6 L614.1,425.1 L612.2,426.8 L609.3,429.5 L606.9,428.0 L604.4,428.6 L601.2,429.7 L598.2,431.6 L595.8,430.8 L592.1,431.6 L587.3,430.6 L584.1,431.9 L581.3,433.1 L577.4,431.1 L575.0,429.8 L570.1,430.7 L568.3,429.1 L565.5,429.8 L562.1,427.5 L558.9,426.0 L557.9,425.1 L555.1,424.7 L551.5,421.5 L549.6,420.3 L545.5,418.2 L544.0,417.0 L539.6,415.2 L537.2,412.9 L536.0,409.5 L534.8,408.1 L530.9,404.7 L529.6,403.0 L527.4,400.5 L522.8,399.5 L521.2,399.0 L517.0,398.5 L514.4,396.8 L512.0,393.7 L509.3,392.1 L506.1,390.2 L502.9,388.7 L501.4,385.9 L500.2,384.0 L496.5,380.8 L495.6,380.1 L494.8,376.8 L490.7,375.0 L489.8,372.1 L489.2,368.9 L487.5,366.2 L486.0,361.7 L485.8,357.9 L484.5,355.2Z" fill="#e3e3e3" stroke="#dadada" stroke-width="2" stroke-linejoin="round"/>
<path d="M485.3,350.8 L488.5,348.5 L491.2,345.7 L492.3,341.8 L495.8,339.5 L497.0,335.4 L497.3,333.0 L498.8,331.0 L498.8,327.3 L501.1,326.3 L504.0,321.8 L505.7,319.0 L506.9,316.3 L507.1,315.4 L509.3,311.1 L514.5,311.8 L516.2,311.0 L520.1,309.4 L523.5,309.8 L528.9,309.6 L532.3,307.2 L533.9,306.0 L536.3,304.9 L539.6,305.3 L540.2,302.2 L542.3,297.9 L544.8,295.0 L544.5,291.7 L546.4,287.3 L547.9,284.0 L550.5,283.9 L551.8,281.7 L555.7,279.2 L558.4,276.6 L562.4,277.5 L566.1,275.7 L571.6,276.5 L573.9,275.4 L578.1,276.7 L580.1,277.2 L584.8,278.1 L586.0,278.9 L589.2,278.0 L593.8,279.7 L596.5,280.1 L600.3,279.0 L603.1,279.0 L605.9,279.3 L609.4,283.6 L610.1,283.7 L614.1,287.2 L614.7,288.8 L617.1,292.6 L620.2,292.0 L622.6,293.6 L625.9,293.0 L631.1,293.4 L634.2,296.6 L637.3,297.5 L639.1,297.3 L642.2,298.9 L645.5,298.7 L650.2,300.3 L653.1,300.0 L654.0,303.6 L656.1,305.4 L658.0,308.0 L660.0,313.0 L663.1,315.5 L663.6,318.1 L664.3,321.3 L667.7,326.1 L667.3,329.2 L669.0,332.3 L669.4,335.8 L669.3,339.1 L669.8,341.9 L671.2,345.7 L670.4,349.6 L671.5,352.1 L670.3,355.3 L671.1,359.0 L671.9,362.7 L671.5,365.9 L670.0,368.9 L670.1,372.7 L668.3,376.1 L668.7,379.0 L668.1,383.0 L664.5,384.5 L661.2,387.8 L660.5,389.4 L657.5,392.5 L654.2,392.5 L651.0,394.7 L647.3,395.6 L643.9,397.7 L642.3,400.0 L639.1,401.2 L638.5,404.9 L636.3,407.4 L635.6,408.4 L633.5,411.3 L629.9,413.1 L627.8,415.2 L624.9,416.9 L622.9,419.7 L620.6,422.2 L617.1,424.6 L614.1,425.1 L612.2,426.8 L609.3,429.5 L606.9,428.0 L604.4,428.6 L601.2,429.7 L598.2,431.6 L595.8,430.8 L592.1,431.6 L587.3,430.6 L584.1,431.9 L581.3,433.1 L577.4,431.1 L575.0,429.8 L570.1,430.7 L568.3,429.1 L565.5,429.8 L562.1,427.5 L558.9,426.0 L557.9,425.1 L555.1,424.7 L551.5,421.5 L549.6,420.3 L545.5,418.2 L544.0,417.0 L539.6,415.2 L537.2,412.9 L536.0,409.5 L534.8,408.1 L530.9,404.7 L529.6,403.0 L527.4,400.5 L522.8,399.5 L521.2,399.0 L517.0,398.5 L514.4,396.8 L512.0,393.7 L509.3,392.1 L506.1,390.2 L502.9,388.7 L501.4,385.9 L500.2,384.0 L496.5,380.8 L495.6,380.1 L494.8,376.8 L490.7,375.0 L489.8,372.1 L489.2,368.9 L487.5,366.2 L486.0,361.7 L485.8,357.9 L484.5,355.2Z" fill="#ebebeb" stroke="none" transform="translate(578 352) scale(0.93) translate(-578 -352)"/>
<g clip-path="url(#pc)">
<path d="M613.6,345.2 C609.8,350.2 617.2,343.8 616.8,344.7" fill="none" stroke="#8b8f93" stroke-width="0.9"/>
<path d="M517.3,367.5 C522.9,359.8 518.1,365.5 523.3,368.5" fill="none" stroke="#8b8f93" stroke-width="0.9"/>
<path d="M614.8,289.1 C621.0,284.1 623.6,292.2 627.4,285.6" fill="none" stroke="#8b8f93" stroke-width="0.9"/>
<path d="M516.7,371.1 C515.1,365.1 517.3,356.8 510.3,354.7" fill="none" stroke="#8b8f93" stroke-width="0.9"/>
<path d="M592.4,390.4 C599.2,383.8 598.0,380.5 599.8,380.3" fill="none" stroke="#8b8f93" stroke-width="0.9"/>
<path d="M499.9,383.8 C493.6,386.2 493.7,393.6 494.7,395.7" fill="none" stroke="#8b8f93" stroke-width="0.9"/>
<path d="M535.2,391.6 C535.6,385.0 530.8,382.7 535.0,376.9" fill="none" stroke="#8b8f93" stroke-width="0.9"/>
<path d="M505.2,379.5 C497.8,372.8 499.5,368.1 506.3,367.7" fill="none" stroke="#8b8f93" stroke-width="0.9"/>
<path d="M659.5,381.4 C654.5,374.5 663.0,377.5 668.8,371.0" fill="none" stroke="#8b8f93" stroke-width="0.9"/>
<path d="M531.8,330.7 C533.9,327.9 531.8,321.4 537.8,324.1" fill="none" stroke="#8b8f93" stroke-width="0.9"/>
<path d="M641.6,357.6 C643.2,358.9 647.6,357.0 640.3,348.6" fill="none" stroke="#8b8f93" stroke-width="0.9"/>
<path d="M648.3,352.2 C653.0,343.2 652.4,350.2 654.6,349.0" fill="none" stroke="#8b8f93" stroke-width="0.9"/>
<path d="M517.5,305.2 C515.3,303.2 522.1,296.9 517.7,292.9" fill="none" stroke="#8b8f93" stroke-width="0.9"/>
<path d="M531.9,352.4 C523.4,360.0 521.1,367.9 524.5,371.0" fill="none" stroke="#8b8f93" stroke-width="0.9"/>
<path d="M511.0,379.6 C507.2,382.8 511.4,376.7 506.0,368.1" fill="none" stroke="#8b8f93" stroke-width="0.9"/>
<path d="M561.4,424.1 C558.9,420.8 558.4,416.9 562.6,420.8" fill="none" stroke="#8b8f93" stroke-width="0.9"/>
<path d="M609.6,419.3 C612.3,418.1 620.8,409.2 612.9,414.2" fill="none" stroke="#8b8f93" stroke-width="0.9"/>
<path d="M587.6,426.5 C588.0,423.8 580.6,416.1 587.8,415.9" fill="none" stroke="#8b8f93" stroke-width="0.9"/>
<path d="M560.7,290.8 C556.3,289.1 552.8,281.0 544.5,289.5" fill="none" stroke="#8b8f93" stroke-width="0.9"/>
<path d="M561.6,359.6 C554.1,356.2 547.1,357.0 554.7,358.7" fill="none" stroke="#8b8f93" stroke-width="0.9"/>
<path d="M493.1,360.8 C492.9,362.1 490.6,364.3 494.7,371.8" fill="none" stroke="#8b8f93" stroke-width="0.9"/>
<path d="M637.1,314.7 C630.2,311.3 622.8,316.2 628.5,312.8" fill="none" stroke="#8b8f93" stroke-width="0.9"/>
<path d="M533.6,294.3 C532.3,295.7 527.7,287.8 531.3,279.7" fill="none" stroke="#8b8f93" stroke-width="0.9"/>
<path d="M556.5,296.4 C555.1,293.0 559.6,294.0 566.8,296.8" fill="none" stroke="#8b8f93" stroke-width="0.9"/>
<path d="M568.7,401.3 C571.5,409.4 575.6,413.1 571.4,418.7" fill="none" stroke="#8b8f93" stroke-width="0.9"/>
<path d="M536.7,380.7 C532.9,372.8 537.6,373.9 529.1,365.8" fill="none" stroke="#8b8f93" stroke-width="0.9"/>
<path d="M598.9,315.7 C597.7,313.3 594.6,304.5 596.1,310.4" fill="none" stroke="#8b8f93" stroke-width="0.9"/>
<path d="M584.4,307.0 C588.2,306.0 596.1,311.3 589.2,308.0" fill="none" stroke="#8b8f93" stroke-width="0.9"/>
<path d="M567.3,346.4 C572.1,354.3 572.7,362.8 574.4,355.6" fill="none" stroke="#8b8f93" stroke-width="0.9"/>
<path d="M495.9,366.2 C495.5,373.1 493.6,368.0 489.6,362.6" fill="none" stroke="#8b8f93" stroke-width="0.9"/>
<path d="M623.7,317.3 C621.0,312.7 629.7,318.9 636.0,321.0" fill="none" stroke="#8b8f93" stroke-width="0.9"/>
<path d="M638.0,353.6 C629.7,347.6 622.5,351.5 629.7,346.1" fill="none" stroke="#8b8f93" stroke-width="0.9"/>
<path d="M611.6,408.0 C613.8,413.4 611.5,404.6 611.8,406.2" fill="none" stroke="#8b8f93" stroke-width="0.9"/>
<path d="M546.5,285.9 C543.1,283.8 542.7,287.5 540.8,296.2" fill="none" stroke="#8b8f93" stroke-width="0.9"/>
<path d="M613.3,379.8 C614.0,385.2 611.5,386.9 614.7,387.3" fill="none" stroke="#8b8f93" stroke-width="0.9"/>
<path d="M505.5,334.0 C507.0,338.6 510.8,335.2 518.6,331.1" fill="none" stroke="#8b8f93" stroke-width="0.9"/>
<path d="M624.1,379.8 C632.3,387.0 635.7,393.0 640.0,395.0" fill="none" stroke="#8b8f93" stroke-width="0.9"/>
<path d="M649.5,316.9 C658.1,317.7 656.1,308.8 654.2,303.0" fill="none" stroke="#8b8f93" stroke-width="0.9"/>
<path d="M652.0,371.6 C650.0,364.5 653.4,365.5 657.2,363.2" fill="none" stroke="#8b8f93" stroke-width="0.9"/>
<path d="M544.4,321.1 C546.6,328.2 540.6,330.6 545.4,325.7" fill="none" stroke="#8b8f93" stroke-width="0.9"/>
<path d="M619.6,342.9 C618.2,343.4 625.5,339.8 621.6,341.7" fill="none" stroke="#8b8f93" stroke-width="0.9"/>
<path d="M590.1,370.1 C584.4,364.5 586.1,367.2 589.6,371.3" fill="none" stroke="#8b8f93" stroke-width="0.9"/>
<path d="M546.7,406.1 C549.3,413.8 544.4,417.4 550.6,417.0" fill="none" stroke="#8b8f93" stroke-width="0.9"/>
<path d="M517.0,371.9 C509.9,376.5 514.2,382.2 519.7,386.1" fill="none" stroke="#8b8f93" stroke-width="0.9"/>
<path d="M601.3,422.9 C594.1,415.8 586.3,410.5 584.0,409.7" fill="none" stroke="#8b8f93" stroke-width="0.9"/>
<path d="M504.9,340.9 C505.7,338.6 498.8,340.4 496.6,343.7" fill="none" stroke="#8b8f93" stroke-width="0.9"/>
<path d="M625.2,387.3 C621.6,380.4 621.2,377.8 625.5,385.3" fill="none" stroke="#8b8f93" stroke-width="0.9"/>
<path d="M578.8,383.7 C584.0,385.1 580.3,382.2 586.6,382.5" fill="none" stroke="#8b8f93" stroke-width="0.9"/>
<path d="M532.3,379.3 C524.7,375.1 517.4,374.7 526.1,375.5" fill="none" stroke="#8b8f93" stroke-width="0.9"/>
<path d="M506.3,333.9 C511.9,325.0 516.7,322.5 508.0,318.0" fill="none" stroke="#8b8f93" stroke-width="0.9"/>
<path d="M582.0,289.8 C576.9,298.3 575.9,297.8 568.4,293.8" fill="none" stroke="#8b8f93" stroke-width="0.9"/>
<path d="M580.4,289.7 C578.5,294.7 577.3,296.4 584.5,299.0" fill="none" stroke="#8b8f93" stroke-width="0.9"/>
<path d="M563.6,409.6 C569.4,417.1 567.2,426.1 571.8,433.1" fill="none" stroke="#8b8f93" stroke-width="0.9"/>
<path d="M565.1,423.9 C574.0,418.8 572.6,414.7 572.1,410.9" fill="none" stroke="#8b8f93" stroke-width="0.9"/>
<path d="M520.1,348.8 C512.5,346.7 519.6,353.6 514.1,344.9" fill="none" stroke="#8b8f93" stroke-width="0.9"/>
<path d="M596.6,301.9 C591.9,309.5 599.7,301.0 594.1,299.8" fill="none" stroke="#8b8f93" stroke-width="0.9"/>
<path d="M556.4,395.2 C550.1,395.5 558.7,399.1 551.3,392.1" fill="none" stroke="#8b8f93" stroke-width="0.9"/>
<path d="M555.6,351.7 C557.1,360.1 552.4,361.4 548.2,362.2" fill="none" stroke="#8b8f93" stroke-width="0.9"/>
<path d="M575.6,385.0 C566.8,389.9 565.3,390.0 567.3,395.3" fill="none" stroke="#8b8f93" stroke-width="0.9"/>
<path d="M496.8,338.3 C494.0,329.7 490.4,328.8 493.2,336.4" fill="none" stroke="#8b8f93" stroke-width="0.9"/>
<path d="M616.9,418.8 C625.0,427.6 621.5,421.6 629.2,414.0" fill="none" stroke="#8b8f93" stroke-width="0.9"/>
<path d="M584.1,338.8 C591.8,335.1 592.7,341.1 586.2,338.4" fill="none" stroke="#8b8f93" stroke-width="0.9"/>
<path d="M526.9,348.3 C519.0,340.9 516.1,334.4 524.6,330.2" fill="none" stroke="#8b8f93" stroke-width="0.9"/>
<path d="M621.9,320.3 C627.9,322.5 625.8,324.8 621.3,320.6" fill="none" stroke="#8b8f93" stroke-width="0.9"/>
<path d="M621.7,363.9 C612.8,355.7 618.7,355.6 625.4,347.3" fill="none" stroke="#8b8f93" stroke-width="0.9"/>
<path d="M618.4,371.3 C620.4,366.2 628.5,359.2 620.6,362.6" fill="none" stroke="#8b8f93" stroke-width="0.9"/>
<path d="M571.9,376.7 C579.0,380.7 571.2,383.3 577.4,376.5" fill="none" stroke="#8b8f93" stroke-width="0.9"/>
<path d="M625.0,357.3 C632.2,356.7 626.0,351.6 621.7,359.6" fill="none" stroke="#8b8f93" stroke-width="0.9"/>
<path d="M552.8,293.6 C551.4,295.7 554.2,289.9 547.7,289.7" fill="none" stroke="#8b8f93" stroke-width="0.9"/>
<path d="M592.0,415.2 C585.7,411.0 585.5,411.6 592.7,412.6" fill="none" stroke="#8b8f93" stroke-width="0.9"/>
<path d="M629.6,404.0 C625.9,397.0 621.6,394.4 628.6,390.2" fill="none" stroke="#8b8f93" stroke-width="0.9"/>
<path d="M627.0,331.1 C619.9,333.5 626.1,335.0 618.0,343.5" fill="none" stroke="#8b8f93" stroke-width="0.9"/>
<g fill="none" stroke="#8a8e92" stroke-linecap="round"><path d="M619.8,319.1 Q617.6,323.4 612.8,323.6" stroke-width="4.2"/><path d="M618.5,341.6 Q619.8,338.4 622.9,336.9" stroke-width="4.3"/><path d="M651.1,356.0 Q655.7,357.4 658.2,361.4" stroke-width="4.1"/><path d="M590.8,323.5 Q592.9,328.5 598.3,329.5" stroke-width="5.2"/><path d="M572.8,295.4 Q573.5,292.1 573.6,288.7" stroke-width="4.2"/><path d="M567.6,320.8 Q561.4,319.2 555.5,316.8" stroke-width="4.4"/><path d="M581.7,417.7 Q576.1,419.4 574.0,424.8" stroke-width="4.5"/><path d="M635.6,359.4 Q635.6,363.5 639.7,364.3" stroke-width="4.7"/><path d="M568.7,417.6 Q563.8,416.7 560.2,413.4" stroke-width="5.0"/><path d="M534.6,350.6 Q530.8,349.9 529.1,346.3" stroke-width="4.9"/><path d="M620.7,295.4 Q624.1,293.3 627.6,295.3" stroke-width="4.2"/><path d="M569.2,372.9 Q572.4,370.9 573.7,367.4" stroke-width="4.2"/><path d="M593.6,317.8 Q590.6,319.5 589.7,322.8" stroke-width="4.2"/><path d="M627.1,330.5 Q622.6,327.7 618.3,324.8" stroke-width="5.1"/><path d="M655.3,322.3 Q654.2,328.7 649.2,332.8" stroke-width="4.6"/><path d="M563.5,426.5 Q566.0,431.3 570.8,434.1" stroke-width="5.0"/><path d="M544.9,408.0 Q539.1,409.9 534.4,413.6" stroke-width="4.5"/><path d="M621.2,355.8 Q621.7,350.3 618.7,345.8" stroke-width="4.3"/><path d="M578.0,280.2 Q581.4,275.2 580.9,269.2" stroke-width="4.2"/><path d="M585.4,351.8 Q586.2,356.4 590.8,356.9" stroke-width="5.1"/><path d="M531.3,404.4 Q528.5,409.1 523.5,411.3" stroke-width="4.4"/><path d="M593.8,391.5 Q589.3,392.6 584.8,391.3" stroke-width="5.0"/><path d="M555.8,369.5 Q557.2,365.0 556.3,360.4" stroke-width="4.2"/><path d="M627.4,295.9 Q622.6,295.4 618.7,298.3" stroke-width="4.7"/><path d="M583.0,283.7 Q585.3,278.5 586.2,272.8" stroke-width="5.1"/><path d="M599.8,387.4 Q600.5,381.5 605.9,379.1" stroke-width="5.2"/><path d="M555.2,293.4 Q556.2,296.3 556.3,299.3" stroke-width="4.5"/><path d="M620.6,338.3 Q621.8,345.0 627.0,349.3" stroke-width="4.9"/><path d="M562.4,283.9 Q556.6,284.4 551.4,287.1" stroke-width="5.1"/><path d="M612.3,394.4 Q617.8,391.1 620.8,385.4" stroke-width="4.6"/><path d="M608.1,378.7 Q611.9,374.8 616.2,371.3" stroke-width="4.3"/><path d="M547.6,317.6 Q543.6,313.1 542.9,307.2" stroke-width="4.7"/><path d="M640.9,334.8 Q645.6,337.0 649.4,340.6" stroke-width="4.3"/><path d="M489.1,362.5 Q493.4,360.2 493.3,355.3" stroke-width="4.2"/><path d="M498.6,370.3 Q492.9,371.4 487.1,371.9" stroke-width="5.2"/><path d="M598.7,360.5 Q601.1,364.3 603.0,368.4" stroke-width="5.1"/><path d="M529.8,324.2 Q534.9,324.8 538.6,328.4" stroke-width="4.9"/><path d="M596.2,294.1 Q594.6,289.9 595.1,285.4" stroke-width="5.1"/><path d="M629.7,326.4 Q628.3,323.3 626.7,320.3" stroke-width="4.2"/><path d="M604.6,417.4 Q602.6,415.0 600.5,412.7" stroke-width="4.7"/><path d="M568.6,302.7 Q570.4,307.6 567.0,311.7" stroke-width="4.9"/><path d="M505.5,331.9 Q510.0,332.6 512.6,336.3" stroke-width="4.9"/><path d="M572.0,294.7 Q575.6,292.3 577.4,288.4" stroke-width="4.6"/><path d="M637.6,355.4 Q633.2,358.1 632.1,363.2" stroke-width="4.8"/><path d="M570.2,378.5 Q566.6,375.9 563.5,372.7" stroke-width="4.3"/><path d="M567.9,411.8 Q565.9,415.6 565.0,419.9" stroke-width="4.8"/><path d="M519.9,346.9 Q522.8,349.2 526.4,348.6" stroke-width="5.2"/><path d="M602.0,322.7 Q600.1,320.2 598.6,317.5" stroke-width="4.3"/><path d="M548.5,384.0 Q542.6,381.6 536.5,383.3" stroke-width="4.8"/><path d="M642.2,306.6 Q638.1,306.5 634.1,307.9" stroke-width="4.2"/><path d="M649.1,335.6 Q653.0,330.0 651.8,323.3" stroke-width="4.6"/><path d="M511.7,392.1 Q508.4,395.1 504.0,394.2" stroke-width="4.6"/><path d="M657.6,340.3 Q657.8,345.5 657.3,350.6" stroke-width="4.8"/><path d="M570.7,323.0 Q576.2,325.2 582.2,325.5" stroke-width="4.4"/><path d="M578.9,367.1 Q572.8,365.3 566.6,366.9" stroke-width="4.5"/><path d="M549.6,371.8 Q555.3,375.7 556.2,382.5" stroke-width="4.7"/><path d="M631.4,313.2 Q629.0,316.2 625.4,314.9" stroke-width="4.3"/><path d="M622.7,418.1 Q624.4,412.4 628.6,408.2" stroke-width="4.3"/><path d="M619.0,353.7 Q622.9,356.0 627.1,354.2" stroke-width="5.1"/><path d="M620.8,389.7 Q624.6,386.5 629.2,384.5" stroke-width="4.8"/><path d="M662.2,353.0 Q665.6,348.5 668.0,343.5" stroke-width="4.5"/><path d="M559.5,327.6 Q556.8,321.9 551.5,318.6" stroke-width="4.5"/><path d="M594.4,314.2 Q598.5,312.7 602.5,314.5" stroke-width="4.3"/><path d="M608.9,367.7 Q609.5,373.4 606.7,378.5" stroke-width="5.2"/><path d="M509.6,368.8 Q511.3,363.9 508.6,359.4" stroke-width="4.9"/><path d="M613.7,291.9 Q615.3,296.2 617.3,300.4" stroke-width="4.2"/><path d="M623.0,332.0 Q617.9,330.7 613.5,333.5" stroke-width="4.5"/><path d="M589.9,370.8 Q586.5,368.2 585.3,364.0" stroke-width="4.7"/><path d="M597.4,376.7 Q600.2,380.3 603.5,383.5" stroke-width="4.3"/><path d="M517.4,340.0 Q520.5,343.1 524.8,344.1" stroke-width="4.8"/><path d="M515.2,380.1 Q510.1,379.1 505.5,381.5" stroke-width="5.2"/><path d="M599.5,286.6 Q594.2,287.5 588.9,286.3" stroke-width="4.9"/><path d="M554.9,372.5 Q552.6,367.0 546.9,365.4" stroke-width="4.9"/><path d="M617.1,385.6 Q617.0,390.8 618.4,395.8" stroke-width="4.2"/><path d="M625.3,314.0 Q620.4,312.9 615.6,314.5" stroke-width="5.0"/><path d="M573.2,420.9 Q567.5,419.9 563.9,424.4" stroke-width="4.5"/><path d="M606.6,361.0 Q606.1,354.6 609.6,349.3" stroke-width="4.7"/><path d="M600.0,384.8 Q606.1,385.2 611.2,381.8" stroke-width="4.2"/><path d="M565.6,417.0 Q570.6,414.2 576.2,413.3" stroke-width="5.0"/><path d="M584.8,380.1 Q581.8,374.7 576.9,371.0" stroke-width="5.3"/><path d="M577.8,354.0 Q572.8,351.4 572.4,345.7" stroke-width="5.3"/><path d="M546.0,354.9 Q548.9,358.4 553.1,356.9" stroke-width="4.4"/><path d="M609.5,365.3 Q612.6,361.6 616.9,359.6" stroke-width="4.4"/><path d="M545.3,395.3 Q548.7,392.3 553.2,392.2" stroke-width="4.5"/><path d="M602.5,351.8 Q607.0,354.0 609.6,358.3" stroke-width="4.3"/><path d="M630.9,295.8 Q625.5,297.7 620.4,300.0" stroke-width="5.1"/><path d="M545.7,421.9 Q551.8,423.2 557.5,425.3" stroke-width="4.1"/><path d="M618.4,390.6 Q618.4,387.4 620.6,385.0" stroke-width="4.7"/><path d="M588.9,325.7 Q592.7,328.0 596.7,330.2" stroke-width="4.6"/><path d="M564.9,295.6 Q564.7,302.1 565.9,308.6" stroke-width="4.7"/><path d="M610.5,380.8 Q606.0,382.4 602.0,379.7" stroke-width="4.1"/><path d="M610.8,330.6 Q611.2,334.7 611.6,338.7" stroke-width="4.4"/><path d="M643.1,352.4 Q645.2,355.9 649.1,355.2" stroke-width="4.8"/><path d="M608.9,287.6 Q603.4,289.7 598.3,292.9" stroke-width="4.4"/><path d="M583.0,307.2 Q576.4,307.0 571.4,311.3" stroke-width="4.7"/><path d="M630.7,300.1 Q636.4,298.1 642.1,296.2" stroke-width="5.2"/><path d="M546.8,418.7 Q551.2,414.0 553.3,407.9" stroke-width="4.2"/><path d="M538.9,378.4 Q536.7,375.9 536.2,372.7" stroke-width="4.5"/><path d="M519.2,313.8 Q516.8,316.9 513.7,319.4" stroke-width="5.2"/><path d="M596.6,392.8 Q600.4,393.6 602.3,390.2" stroke-width="4.2"/><path d="M523.7,390.9 Q521.1,386.8 516.7,384.7" stroke-width="4.6"/><path d="M660.9,332.3 Q656.7,332.9 654.2,336.4" stroke-width="4.7"/><path d="M571.6,313.1 Q567.9,310.7 566.1,306.6" stroke-width="4.5"/><path d="M598.5,355.5 Q593.2,356.0 587.8,356.3" stroke-width="5.2"/><path d="M567.8,398.8 Q572.8,397.1 577.2,394.4" stroke-width="5.0"/><path d="M617.6,309.0 Q615.9,313.3 611.4,312.6" stroke-width="4.9"/><path d="M547.8,318.2 Q550.7,319.7 553.9,319.2" stroke-width="4.5"/><path d="M567.4,381.4 Q571.0,377.0 576.5,375.4" stroke-width="5.3"/><path d="M521.4,367.1 Q519.4,372.9 518.6,379.0" stroke-width="5.0"/><path d="M600.5,390.5 Q599.7,394.5 597.1,397.6" stroke-width="5.3"/><path d="M607.7,350.7 Q602.2,350.0 597.9,346.7" stroke-width="4.2"/><path d="M507.9,367.3 Q513.3,368.7 518.1,365.9" stroke-width="5.3"/><path d="M578.4,343.3 Q573.8,342.5 569.9,344.8" stroke-width="4.8"/><path d="M583.8,392.3 Q579.1,390.4 574.1,389.3" stroke-width="4.2"/><path d="M511.4,402.3 Q509.6,397.8 512.2,393.6" stroke-width="5.0"/><path d="M527.2,380.2 Q526.3,383.1 526.4,386.2" stroke-width="5.0"/><path d="M593.6,325.3 Q593.6,330.3 594.8,335.1" stroke-width="5.2"/><path d="M597.9,355.0 Q594.4,351.1 591.9,346.5" stroke-width="4.4"/><path d="M612.2,338.0 Q615.9,338.0 619.2,339.7" stroke-width="4.9"/><path d="M607.4,353.5 Q608.3,349.4 610.8,346.0" stroke-width="5.0"/><path d="M611.6,343.9 Q614.1,342.1 616.4,339.9" stroke-width="5.1"/><path d="M648.0,309.0 Q652.1,305.3 651.4,299.9" stroke-width="4.5"/><path d="M608.9,376.3 Q613.1,375.4 617.3,375.8" stroke-width="4.2"/><path d="M612.4,290.6 Q613.0,286.6 616.5,284.9" stroke-width="5.2"/><path d="M578.7,393.2 Q577.2,396.8 574.4,399.6" stroke-width="5.3"/><path d="M648.7,382.1 Q645.7,387.4 647.6,393.1" stroke-width="4.8"/><path d="M528.1,371.5 Q524.1,371.1 522.1,367.7" stroke-width="4.9"/><path d="M556.1,318.6 Q552.8,318.4 549.6,318.9" stroke-width="4.9"/><path d="M545.7,367.3 Q540.1,365.8 534.3,365.3" stroke-width="4.9"/><path d="M590.6,403.4 Q592.1,407.2 596.2,407.3" stroke-width="5.1"/><path d="M598.8,408.4 Q595.3,405.0 596.2,400.2" stroke-width="5.0"/><path d="M617.2,350.5 Q614.1,354.4 616.1,359.0" stroke-width="4.7"/><path d="M574.3,382.6 Q575.3,387.9 572.8,392.6" stroke-width="4.4"/><path d="M587.3,344.2 Q591.6,344.0 592.8,339.9" stroke-width="4.4"/><path d="M550.4,295.9 Q548.6,302.2 545.2,307.7" stroke-width="5.1"/><path d="M611.7,358.4 Q612.8,362.7 609.7,365.9" stroke-width="4.2"/><path d="M567.8,291.2 Q564.2,289.1 560.1,290.1" stroke-width="4.4"/><path d="M657.1,350.8 Q660.7,347.9 664.0,344.6" stroke-width="4.4"/><path d="M625.9,335.2 Q629.7,331.2 634.0,327.9" stroke-width="4.1"/><path d="M573.1,413.9 Q578.6,413.4 583.4,410.7" stroke-width="4.8"/><path d="M571.8,354.3 Q576.6,353.1 580.9,350.7" stroke-width="4.5"/><path d="M608.9,353.3 Q616.0,353.8 621.1,348.7" stroke-width="5.2"/><path d="M549.7,404.0 Q545.2,404.9 542.4,401.2" stroke-width="4.4"/><path d="M623.6,309.0 Q628.1,312.4 628.7,317.9" stroke-width="5.1"/><path d="M606.3,411.7 Q604.1,406.4 604.7,400.7" stroke-width="4.6"/><path d="M557.1,338.8 Q561.9,338.0 564.8,334.1" stroke-width="4.9"/><path d="M593.2,398.4 Q594.3,402.2 594.0,406.1" stroke-width="4.7"/><path d="M564.4,418.7 Q560.8,417.0 558.3,413.7" stroke-width="4.7"/><path d="M607.5,410.1 Q611.2,406.5 615.7,404.0" stroke-width="4.8"/><path d="M589.1,306.5 Q584.1,307.0 579.9,304.1" stroke-width="4.6"/><path d="M640.2,376.2 Q637.7,379.2 636.5,383.0" stroke-width="4.8"/><path d="M602.2,411.8 Q598.5,415.0 595.3,418.8" stroke-width="4.9"/><path d="M532.3,317.0 Q536.7,320.4 538.9,325.6" stroke-width="4.7"/><path d="M570.1,315.9 Q575.5,320.3 575.8,327.2" stroke-width="4.3"/><path d="M622.5,335.7 Q621.7,342.0 626.3,346.4" stroke-width="4.3"/><path d="M616.7,339.5 Q621.8,341.8 626.8,339.3" stroke-width="4.9"/><path d="M512.0,346.3 Q511.4,350.7 515.8,351.7" stroke-width="5.2"/><path d="M606.4,289.5 Q606.1,282.9 602.5,277.2" stroke-width="5.0"/><path d="M568.1,374.8 Q571.2,370.4 576.6,370.6" stroke-width="4.3"/><path d="M572.3,314.9 Q574.1,309.3 573.2,303.5" stroke-width="4.6"/></g>
<g fill="none" stroke="#b1b5b8" stroke-linecap="round"><path d="M619.8,319.1 Q617.6,323.4 612.8,323.6" stroke-width="3.1"/><path d="M618.5,341.6 Q619.8,338.4 622.9,336.9" stroke-width="3.2"/><path d="M651.1,356.0 Q655.7,357.4 658.2,361.4" stroke-width="3.0"/><path d="M590.8,323.5 Q592.9,328.5 598.3,329.5" stroke-width="4.1"/><path d="M572.8,295.4 Q573.5,292.1 573.6,288.7" stroke-width="3.1"/><path d="M567.6,320.8 Q561.4,319.2 555.5,316.8" stroke-width="3.3"/><path d="M581.7,417.7 Q576.1,419.4 574.0,424.8" stroke-width="3.4"/><path d="M635.6,359.4 Q635.6,363.5 639.7,364.3" stroke-width="3.6"/><path d="M568.7,417.6 Q563.8,416.7 560.2,413.4" stroke-width="3.9"/><path d="M534.6,350.6 Q530.8,349.9 529.1,346.3" stroke-width="3.8"/><path d="M620.7,295.4 Q624.1,293.3 627.6,295.3" stroke-width="3.1"/><path d="M569.2,372.9 Q572.4,370.9 573.7,367.4" stroke-width="3.1"/><path d="M593.6,317.8 Q590.6,319.5 589.7,322.8" stroke-width="3.1"/><path d="M627.1,330.5 Q622.6,327.7 618.3,324.8" stroke-width="4.0"/><path d="M655.3,322.3 Q654.2,328.7 649.2,332.8" stroke-width="3.5"/><path d="M563.5,426.5 Q566.0,431.3 570.8,434.1" stroke-width="3.9"/><path d="M544.9,408.0 Q539.1,409.9 534.4,413.6" stroke-width="3.4"/><path d="M621.2,355.8 Q621.7,350.3 618.7,345.8" stroke-width="3.2"/><path d="M578.0,280.2 Q581.4,275.2 580.9,269.2" stroke-width="3.1"/><path d="M585.4,351.8 Q586.2,356.4 590.8,356.9" stroke-width="4.0"/><path d="M531.3,404.4 Q528.5,409.1 523.5,411.3" stroke-width="3.3"/><path d="M593.8,391.5 Q589.3,392.6 584.8,391.3" stroke-width="3.9"/><path d="M555.8,369.5 Q557.2,365.0 556.3,360.4" stroke-width="3.1"/><path d="M627.4,295.9 Q622.6,295.4 618.7,298.3" stroke-width="3.6"/><path d="M583.0,283.7 Q585.3,278.5 586.2,272.8" stroke-width="4.0"/><path d="M599.8,387.4 Q600.5,381.5 605.9,379.1" stroke-width="4.1"/><path d="M555.2,293.4 Q556.2,296.3 556.3,299.3" stroke-width="3.4"/><path d="M620.6,338.3 Q621.8,345.0 627.0,349.3" stroke-width="3.8"/><path d="M562.4,283.9 Q556.6,284.4 551.4,287.1" stroke-width="4.0"/><path d="M612.3,394.4 Q617.8,391.1 620.8,385.4" stroke-width="3.5"/><path d="M608.1,378.7 Q611.9,374.8 616.2,371.3" stroke-width="3.2"/><path d="M547.6,317.6 Q543.6,313.1 542.9,307.2" stroke-width="3.6"/><path d="M640.9,334.8 Q645.6,337.0 649.4,340.6" stroke-width="3.2"/><path d="M489.1,362.5 Q493.4,360.2 493.3,355.3" stroke-width="3.1"/><path d="M498.6,370.3 Q492.9,371.4 487.1,371.9" stroke-width="4.1"/><path d="M598.7,360.5 Q601.1,364.3 603.0,368.4" stroke-width="4.0"/><path d="M529.8,324.2 Q534.9,324.8 538.6,328.4" stroke-width="3.8"/><path d="M596.2,294.1 Q594.6,289.9 595.1,285.4" stroke-width="4.0"/><path d="M629.7,326.4 Q628.3,323.3 626.7,320.3" stroke-width="3.1"/><path d="M604.6,417.4 Q602.6,415.0 600.5,412.7" stroke-width="3.6"/><path d="M568.6,302.7 Q570.4,307.6 567.0,311.7" stroke-width="3.8"/><path d="M505.5,331.9 Q510.0,332.6 512.6,336.3" stroke-width="3.8"/><path d="M572.0,294.7 Q575.6,292.3 577.4,288.4" stroke-width="3.5"/><path d="M637.6,355.4 Q633.2,358.1 632.1,363.2" stroke-width="3.7"/><path d="M570.2,378.5 Q566.6,375.9 563.5,372.7" stroke-width="3.2"/><path d="M567.9,411.8 Q565.9,415.6 565.0,419.9" stroke-width="3.7"/><path d="M519.9,346.9 Q522.8,349.2 526.4,348.6" stroke-width="4.1"/><path d="M602.0,322.7 Q600.1,320.2 598.6,317.5" stroke-width="3.2"/><path d="M548.5,384.0 Q542.6,381.6 536.5,383.3" stroke-width="3.7"/><path d="M642.2,306.6 Q638.1,306.5 634.1,307.9" stroke-width="3.1"/><path d="M649.1,335.6 Q653.0,330.0 651.8,323.3" stroke-width="3.5"/><path d="M511.7,392.1 Q508.4,395.1 504.0,394.2" stroke-width="3.5"/><path d="M657.6,340.3 Q657.8,345.5 657.3,350.6" stroke-width="3.7"/><path d="M570.7,323.0 Q576.2,325.2 582.2,325.5" stroke-width="3.3"/><path d="M578.9,367.1 Q572.8,365.3 566.6,366.9" stroke-width="3.4"/><path d="M549.6,371.8 Q555.3,375.7 556.2,382.5" stroke-width="3.6"/><path d="M631.4,313.2 Q629.0,316.2 625.4,314.9" stroke-width="3.2"/><path d="M622.7,418.1 Q624.4,412.4 628.6,408.2" stroke-width="3.2"/><path d="M619.0,353.7 Q622.9,356.0 627.1,354.2" stroke-width="4.0"/><path d="M620.8,389.7 Q624.6,386.5 629.2,384.5" stroke-width="3.7"/><path d="M662.2,353.0 Q665.6,348.5 668.0,343.5" stroke-width="3.4"/><path d="M559.5,327.6 Q556.8,321.9 551.5,318.6" stroke-width="3.4"/><path d="M594.4,314.2 Q598.5,312.7 602.5,314.5" stroke-width="3.2"/><path d="M608.9,367.7 Q609.5,373.4 606.7,378.5" stroke-width="4.1"/><path d="M509.6,368.8 Q511.3,363.9 508.6,359.4" stroke-width="3.8"/><path d="M613.7,291.9 Q615.3,296.2 617.3,300.4" stroke-width="3.1"/><path d="M623.0,332.0 Q617.9,330.7 613.5,333.5" stroke-width="3.4"/><path d="M589.9,370.8 Q586.5,368.2 585.3,364.0" stroke-width="3.6"/><path d="M597.4,376.7 Q600.2,380.3 603.5,383.5" stroke-width="3.2"/><path d="M517.4,340.0 Q520.5,343.1 524.8,344.1" stroke-width="3.7"/><path d="M515.2,380.1 Q510.1,379.1 505.5,381.5" stroke-width="4.1"/><path d="M599.5,286.6 Q594.2,287.5 588.9,286.3" stroke-width="3.8"/><path d="M554.9,372.5 Q552.6,367.0 546.9,365.4" stroke-width="3.8"/><path d="M617.1,385.6 Q617.0,390.8 618.4,395.8" stroke-width="3.1"/><path d="M625.3,314.0 Q620.4,312.9 615.6,314.5" stroke-width="3.9"/><path d="M573.2,420.9 Q567.5,419.9 563.9,424.4" stroke-width="3.4"/><path d="M606.6,361.0 Q606.1,354.6 609.6,349.3" stroke-width="3.6"/><path d="M600.0,384.8 Q606.1,385.2 611.2,381.8" stroke-width="3.1"/><path d="M565.6,417.0 Q570.6,414.2 576.2,413.3" stroke-width="3.9"/><path d="M584.8,380.1 Q581.8,374.7 576.9,371.0" stroke-width="4.2"/><path d="M577.8,354.0 Q572.8,351.4 572.4,345.7" stroke-width="4.2"/><path d="M546.0,354.9 Q548.9,358.4 553.1,356.9" stroke-width="3.3"/><path d="M609.5,365.3 Q612.6,361.6 616.9,359.6" stroke-width="3.3"/><path d="M545.3,395.3 Q548.7,392.3 553.2,392.2" stroke-width="3.4"/><path d="M602.5,351.8 Q607.0,354.0 609.6,358.3" stroke-width="3.2"/><path d="M630.9,295.8 Q625.5,297.7 620.4,300.0" stroke-width="4.0"/><path d="M545.7,421.9 Q551.8,423.2 557.5,425.3" stroke-width="3.0"/><path d="M618.4,390.6 Q618.4,387.4 620.6,385.0" stroke-width="3.6"/><path d="M588.9,325.7 Q592.7,328.0 596.7,330.2" stroke-width="3.5"/><path d="M564.9,295.6 Q564.7,302.1 565.9,308.6" stroke-width="3.6"/><path d="M610.5,380.8 Q606.0,382.4 602.0,379.7" stroke-width="3.0"/><path d="M610.8,330.6 Q611.2,334.7 611.6,338.7" stroke-width="3.3"/><path d="M643.1,352.4 Q645.2,355.9 649.1,355.2" stroke-width="3.7"/><path d="M608.9,287.6 Q603.4,289.7 598.3,292.9" stroke-width="3.3"/><path d="M583.0,307.2 Q576.4,307.0 571.4,311.3" stroke-width="3.6"/><path d="M630.7,300.1 Q636.4,298.1 642.1,296.2" stroke-width="4.1"/><path d="M546.8,418.7 Q551.2,414.0 553.3,407.9" stroke-width="3.1"/><path d="M538.9,378.4 Q536.7,375.9 536.2,372.7" stroke-width="3.4"/><path d="M519.2,313.8 Q516.8,316.9 513.7,319.4" stroke-width="4.1"/><path d="M596.6,392.8 Q600.4,393.6 602.3,390.2" stroke-width="3.1"/><path d="M523.7,390.9 Q521.1,386.8 516.7,384.7" stroke-width="3.5"/><path d="M660.9,332.3 Q656.7,332.9 654.2,336.4" stroke-width="3.6"/><path d="M571.6,313.1 Q567.9,310.7 566.1,306.6" stroke-width="3.4"/><path d="M598.5,355.5 Q593.2,356.0 587.8,356.3" stroke-width="4.1"/><path d="M567.8,398.8 Q572.8,397.1 577.2,394.4" stroke-width="3.9"/><path d="M617.6,309.0 Q615.9,313.3 611.4,312.6" stroke-width="3.8"/><path d="M547.8,318.2 Q550.7,319.7 553.9,319.2" stroke-width="3.4"/><path d="M567.4,381.4 Q571.0,377.0 576.5,375.4" stroke-width="4.2"/><path d="M521.4,367.1 Q519.4,372.9 518.6,379.0" stroke-width="3.9"/><path d="M600.5,390.5 Q599.7,394.5 597.1,397.6" stroke-width="4.2"/><path d="M607.7,350.7 Q602.2,350.0 597.9,346.7" stroke-width="3.1"/><path d="M507.9,367.3 Q513.3,368.7 518.1,365.9" stroke-width="4.2"/><path d="M578.4,343.3 Q573.8,342.5 569.9,344.8" stroke-width="3.7"/><path d="M583.8,392.3 Q579.1,390.4 574.1,389.3" stroke-width="3.1"/><path d="M511.4,402.3 Q509.6,397.8 512.2,393.6" stroke-width="3.9"/><path d="M527.2,380.2 Q526.3,383.1 526.4,386.2" stroke-width="3.9"/><path d="M593.6,325.3 Q593.6,330.3 594.8,335.1" stroke-width="4.1"/><path d="M597.9,355.0 Q594.4,351.1 591.9,346.5" stroke-width="3.3"/><path d="M612.2,338.0 Q615.9,338.0 619.2,339.7" stroke-width="3.8"/><path d="M607.4,353.5 Q608.3,349.4 610.8,346.0" stroke-width="3.9"/><path d="M611.6,343.9 Q614.1,342.1 616.4,339.9" stroke-width="4.0"/><path d="M648.0,309.0 Q652.1,305.3 651.4,299.9" stroke-width="3.4"/><path d="M608.9,376.3 Q613.1,375.4 617.3,375.8" stroke-width="3.1"/><path d="M612.4,290.6 Q613.0,286.6 616.5,284.9" stroke-width="4.1"/><path d="M578.7,393.2 Q577.2,396.8 574.4,399.6" stroke-width="4.2"/><path d="M648.7,382.1 Q645.7,387.4 647.6,393.1" stroke-width="3.7"/><path d="M528.1,371.5 Q524.1,371.1 522.1,367.7" stroke-width="3.8"/><path d="M556.1,318.6 Q552.8,318.4 549.6,318.9" stroke-width="3.8"/><path d="M545.7,367.3 Q540.1,365.8 534.3,365.3" stroke-width="3.8"/><path d="M590.6,403.4 Q592.1,407.2 596.2,407.3" stroke-width="4.0"/><path d="M598.8,408.4 Q595.3,405.0 596.2,400.2" stroke-width="3.9"/><path d="M617.2,350.5 Q614.1,354.4 616.1,359.0" stroke-width="3.6"/><path d="M574.3,382.6 Q575.3,387.9 572.8,392.6" stroke-width="3.3"/><path d="M587.3,344.2 Q591.6,344.0 592.8,339.9" stroke-width="3.3"/><path d="M550.4,295.9 Q548.6,302.2 545.2,307.7" stroke-width="4.0"/><path d="M611.7,358.4 Q612.8,362.7 609.7,365.9" stroke-width="3.1"/><path d="M567.8,291.2 Q564.2,289.1 560.1,290.1" stroke-width="3.3"/><path d="M657.1,350.8 Q660.7,347.9 664.0,344.6" stroke-width="3.3"/><path d="M625.9,335.2 Q629.7,331.2 634.0,327.9" stroke-width="3.0"/><path d="M573.1,413.9 Q578.6,413.4 583.4,410.7" stroke-width="3.7"/><path d="M571.8,354.3 Q576.6,353.1 580.9,350.7" stroke-width="3.4"/><path d="M608.9,353.3 Q616.0,353.8 621.1,348.7" stroke-width="4.1"/><path d="M549.7,404.0 Q545.2,404.9 542.4,401.2" stroke-width="3.3"/><path d="M623.6,309.0 Q628.1,312.4 628.7,317.9" stroke-width="4.0"/><path d="M606.3,411.7 Q604.1,406.4 604.7,400.7" stroke-width="3.5"/><path d="M557.1,338.8 Q561.9,338.0 564.8,334.1" stroke-width="3.8"/><path d="M593.2,398.4 Q594.3,402.2 594.0,406.1" stroke-width="3.6"/><path d="M564.4,418.7 Q560.8,417.0 558.3,413.7" stroke-width="3.6"/><path d="M607.5,410.1 Q611.2,406.5 615.7,404.0" stroke-width="3.7"/><path d="M589.1,306.5 Q584.1,307.0 579.9,304.1" stroke-width="3.5"/><path d="M640.2,376.2 Q637.7,379.2 636.5,383.0" stroke-width="3.7"/><path d="M602.2,411.8 Q598.5,415.0 595.3,418.8" stroke-width="3.8"/><path d="M532.3,317.0 Q536.7,320.4 538.9,325.6" stroke-width="3.6"/><path d="M570.1,315.9 Q575.5,320.3 575.8,327.2" stroke-width="3.2"/><path d="M622.5,335.7 Q621.7,342.0 626.3,346.4" stroke-width="3.2"/><path d="M616.7,339.5 Q621.8,341.8 626.8,339.3" stroke-width="3.8"/><path d="M512.0,346.3 Q511.4,350.7 515.8,351.7" stroke-width="4.1"/><path d="M606.4,289.5 Q606.1,282.9 602.5,277.2" stroke-width="3.9"/><path d="M568.1,374.8 Q571.2,370.4 576.6,370.6" stroke-width="3.2"/><path d="M572.3,314.9 Q574.1,309.3 573.2,303.5" stroke-width="3.5"/></g>
<path d="M618.3,321.9L615.9,319.8M616.0,323.4L613.5,321.3M619.5,338.1L622.5,339.7M654.4,356.6L653.3,359.5M656.8,358.4L655.6,361.3M594.6,323.9L592.7,327.7M597.1,325.9L595.2,329.7M571.7,291.9L574.9,291.3M564.1,321.4L564.2,318.0M561.0,320.4L561.2,317.0M558.0,319.3L558.2,316.0M580.9,420.7L577.9,418.9M579.0,422.5L576.0,420.6M577.0,424.3L574.1,422.4M639.0,360.7L636.8,363.6M565.0,418.0L565.9,414.1M562.1,416.5L563.1,412.7M530.7,350.0L532.4,346.4M624.1,293.8L625.1,296.9M570.3,369.2L573.3,370.4M592.9,321.3L589.9,320.0M623.8,330.7L625.2,326.9M621.6,329.3L623.0,325.4M619.4,327.9L620.8,324.0M655.3,325.8L651.8,324.8M653.8,328.4L650.3,327.5M652.3,331.1L648.8,330.1M566.7,427.0L564.5,430.4M568.5,428.9L566.4,432.3M570.4,430.8L568.2,434.2M543.1,410.9L540.7,408.3M540.5,412.3L538.0,409.7M537.9,413.7L535.4,411.1M618.8,352.8L621.7,351.2M618.0,349.5L620.9,347.8M577.3,277.0L580.4,276.9M578.0,274.3L581.2,274.2M578.7,271.5L581.9,271.4M589.5,352.8L587.4,356.4M530.5,407.4L527.6,405.5M528.5,409.1L525.6,407.2M526.5,410.8L523.7,408.9M590.8,393.4L589.9,389.5M587.7,393.3L586.9,389.4M554.5,366.4L557.6,365.7M554.6,363.4L557.7,362.6M625.0,298.5L623.2,295.2M622.1,299.2L620.3,296.0M581.8,280.4L585.9,280.7M582.6,277.7L586.7,278.0M583.4,275.0L587.5,275.2M600.2,383.4L604.0,385.1M602.2,380.7L606.0,382.3M557.4,296.0L554.3,297.5M623.9,340.1L621.0,342.8M625.5,342.8L622.6,345.5M627.1,345.6L624.2,348.3M560.2,286.7L558.2,283.0M557.5,287.5L555.5,283.8M554.7,288.2L552.8,284.6M613.2,391.0L616.3,392.7M615.3,388.7L618.5,390.5M617.4,386.4L620.6,388.2M609.0,375.7L611.9,377.5M611.1,373.8L613.9,375.6M613.1,372.0L615.9,373.8M544.8,315.7L547.7,313.4M543.6,313.1L546.5,310.8M542.4,310.5L545.3,308.2M644.6,335.4L643.6,338.6M647.5,337.4L646.4,340.5M489.1,359.3L492.3,360.1M490.5,356.9L493.7,357.7M496.1,372.7L494.6,368.8M493.2,373.1L491.7,369.2M490.3,373.5L488.8,369.6M601.8,362.2L598.8,364.9M603.3,364.9L600.2,367.5M533.5,323.9L532.7,327.7M536.5,325.3L535.7,329.1M593.8,291.5L597.7,290.1M593.5,288.5L597.3,287.1M626.8,324.0L629.2,321.9M601.2,416.2L603.3,413.2M570.0,306.0L566.1,306.2M569.4,309.0L565.5,309.2M508.8,331.7L507.6,335.4M511.2,333.2L510.0,336.9M572.5,291.5L575.7,293.1M574.3,289.4L577.5,291.0M637.3,359.0L633.8,357.7M635.5,361.6L631.9,360.3M566.9,377.8L568.3,374.8M564.7,375.8L566.1,372.8M568.7,415.2L564.9,414.7M567.7,417.8L563.9,417.4M523.7,345.8L523.5,350.0M599.0,321.0L601.1,318.4M545.4,385.7L544.7,381.9M542.4,385.5L541.7,381.7M539.4,385.3L538.7,381.5M639.8,308.6L638.4,305.6M637.1,309.0L635.7,306.1M648.1,332.1L651.7,332.0M648.7,329.0L652.3,328.9M649.4,326.0L653.0,325.8M509.6,394.5L507.8,391.4M507.0,395.2L505.3,392.1M659.4,343.8L655.6,344.6M659.2,347.2L655.5,348.0M573.9,322.0L574.1,325.4M576.8,322.6L577.0,326.1M579.7,323.3L579.8,326.7M575.8,368.8L574.9,365.4M572.7,368.7L571.9,365.3M569.6,368.6L568.8,365.2M552.8,373.5L550.2,376.1M554.5,376.2L551.9,378.8M556.1,378.8L553.5,381.5M628.9,315.6L627.1,312.7M622.8,414.8L626.0,415.6M624.3,412.3L627.5,413.2M625.8,409.8L629.0,410.7M621.9,351.8L622.5,355.9M624.6,352.0L625.2,356.1M622.6,386.4L625.3,389.1M625.4,384.7L628.1,387.3M662.2,349.8L665.6,350.8M663.7,347.4L667.0,348.4M665.1,345.0L668.5,346.0M556.2,326.4L558.1,323.5M554.2,324.2L556.1,321.3M552.2,322.0L554.1,319.1M597.1,312.7L597.9,316.0M599.8,312.8L600.6,316.1M610.4,370.8L606.2,370.9M609.8,373.5L605.6,373.6M609.3,376.2L605.1,376.3M507.4,365.9L511.1,364.6M507.1,362.8L510.7,361.5M616.4,294.1L613.8,296.1M617.6,296.9L615.0,299.0M620.1,334.1L618.7,331.0M616.9,334.6L615.5,331.5M586.9,369.6L589.3,366.8M585.3,367.3L587.8,364.6M600.6,377.9L598.8,380.7M602.6,380.2L600.8,383.0M520.8,339.7L519.8,343.5M523.2,341.1L522.2,344.8M512.3,382.6L510.8,378.6M509.1,383.0L507.6,379.1M596.8,288.5L596.0,284.6M594.2,288.4L593.4,284.5M591.5,288.3L590.7,284.5M551.7,372.2L553.5,368.7M549.6,370.4L551.5,366.9M547.6,368.6L549.5,365.2M619.0,388.8L616.1,390.1M619.5,392.3L616.5,393.5M622.2,316.1L621.1,312.3M618.9,316.3L617.8,312.4M570.7,423.7L568.7,420.8M567.6,424.8L565.5,422.0M605.6,357.6L609.3,357.6M606.4,354.7L610.1,354.7M607.1,351.8L610.8,351.8M602.4,382.6L604.1,385.3M605.2,381.8L606.9,384.6M608.0,381.1L609.7,383.8M567.6,414.2L569.8,417.6M570.3,413.3L572.4,416.7M572.9,412.3L575.1,415.7M581.2,379.2L583.8,375.8M579.3,376.9L581.9,373.5M577.3,374.6L579.9,371.2M574.3,352.4L577.2,349.4M572.5,349.6L575.4,346.6M550.0,354.3L550.0,357.8M611.0,362.1L613.7,364.1M613.4,360.2L616.2,362.3M547.3,392.7L549.3,395.5M549.9,391.7L552.0,394.5M605.9,352.8L604.5,355.8M608.3,355.0L606.8,357.9M629.0,298.7L626.7,295.3M626.4,299.8L624.1,296.4M623.8,300.8L621.4,297.4M549.1,421.3L549.1,424.5M552.0,422.2L552.1,425.3M555.0,423.0L555.1,426.1M617.9,387.1L621.5,387.6M592.4,325.6L591.4,329.2M595.0,327.1L594.0,330.7M567.0,298.7L563.4,299.9M567.2,301.9L563.7,303.1M567.5,305.2L563.9,306.4M607.5,382.0L607.0,378.8M604.7,381.6L604.2,378.4M612.7,333.1L609.5,334.4M613.0,335.9L609.8,337.1M646.9,352.1L646.2,355.9M607.0,290.4L604.7,287.9M604.3,291.7L602.1,289.2M601.7,293.0L599.4,290.5M580.7,309.9L578.6,306.8M577.8,311.0L575.7,307.9M574.9,312.0L572.9,308.9M632.9,297.2L635.0,300.8M635.7,296.2L637.9,299.8M638.6,295.3L640.8,298.8M547.1,415.2L550.2,416.0M548.7,412.5L551.8,413.3M550.3,409.8L553.4,410.7M536.0,376.2L538.7,374.0M518.8,317.1L515.2,314.8M517.0,319.0L513.4,316.7M598.8,390.1L600.9,392.6M520.2,390.2L521.9,386.9M517.9,388.1L519.5,384.9M659.6,335.2L657.0,332.6M657.3,336.6L654.7,334.0M568.5,312.0L570.5,309.2M566.6,309.9L568.6,307.0M596.0,357.7L594.8,353.7M593.3,357.9L592.1,353.9M590.6,358.2L589.4,354.1M570.1,395.5L572.6,398.7M573.3,394.0L575.7,397.2M615.4,312.5L612.8,309.6M551.2,317.0L551.5,320.6M568.5,378.1L571.5,381.1M570.8,376.6L573.8,379.6M573.0,375.1L576.1,378.1M522.6,370.5L518.6,370.5M521.9,373.5L517.9,373.5M521.2,376.5L517.2,376.5M601.2,393.8L597.1,392.8M600.1,396.2L595.9,395.1M604.6,351.1L605.0,347.9M602.2,350.1L602.5,346.9M599.7,349.1L600.1,345.9M511.0,364.8L512.5,368.8M514.4,364.3L515.9,368.3M575.9,345.6L574.3,342.1M573.0,346.1L571.5,342.6M580.1,392.8L580.2,389.6M576.9,391.8L577.0,388.6M509.7,399.3L513.7,398.7M510.0,396.4L514.0,395.8M528.8,383.5L524.7,383.8M596.0,328.3L592.1,329.7M596.4,331.6L592.5,333.0M594.6,353.1L596.7,350.4M592.5,350.3L594.7,347.6M616.1,337.0L616.1,340.9M606.8,350.2L610.7,351.0M607.9,347.7L611.8,348.4M612.7,340.4L616.0,342.9M647.5,305.3L651.0,305.7M648.7,302.3L652.2,302.6M611.6,374.5L612.7,377.6M614.4,374.4L615.5,377.5M612.8,286.5L616.7,288.2M578.3,397.6L574.3,396.0M650.3,385.0L646.5,385.6M650.0,387.8L646.2,388.3M649.7,390.6L645.9,391.1M524.1,371.2L525.3,367.5M552.9,320.6L551.8,316.9M542.5,368.6L542.3,364.8M539.7,368.1L539.4,364.3M536.9,367.6L536.6,363.8M594.5,403.7L593.0,407.5M596.1,406.3L599.6,404.2M595.2,403.5L598.7,401.5M618.6,353.6L615.0,354.0M618.2,356.4L614.6,356.8M575.4,386.2L572.0,386.6M574.9,389.5L571.5,389.9M589.0,340.7L591.8,342.8M550.9,299.7L546.9,298.9M549.6,302.6L545.6,301.9M548.3,305.6L544.3,304.8M612.2,362.6L609.0,362.6M563.7,292.3L563.3,288.9M658.3,347.5L661.2,349.4M660.6,345.4L663.5,347.3M626.9,332.2L629.6,333.9M628.9,330.4L631.6,332.0M631.0,328.6L633.7,330.2M575.1,411.3L577.1,414.6M577.7,410.5L579.7,413.8M580.3,409.7L582.3,413.0M574.2,351.6L576.3,354.3M577.2,350.3L579.3,353.1M611.2,350.2L613.5,353.8M614.3,349.1L616.5,352.6M617.3,347.9L619.6,351.5M545.5,404.2L545.8,400.8M627.0,311.0L624.0,313.7M628.7,314.0L625.7,316.7M604.2,409.2L607.5,407.8M603.8,406.4L607.1,405.0M603.3,403.7L606.7,402.3M558.7,335.6L561.5,338.4M561.3,334.0L564.0,336.8M595.3,402.1L591.9,403.3M561.3,418.5L562.8,415.1M559.2,416.8L560.8,413.4M609.1,406.6L612.0,409.0M611.8,404.6L614.7,407.0M585.6,307.4L585.6,303.7M582.5,306.6L582.6,303.0M640.0,380.5L636.3,379.5M601.2,415.4L597.9,413.4M599.0,417.7L595.6,415.7M535.4,318.1L533.1,321.0M537.0,320.2L534.7,323.1M538.7,322.3L536.4,325.2M573.0,318.0L570.6,320.2M574.4,320.8L572.0,323.1M575.8,323.7L573.4,325.9M625.0,337.8L622.2,339.8M625.9,340.5L623.2,342.5M626.9,343.2L624.1,345.2M620.0,337.5L621.0,341.3M623.4,337.5L624.4,341.3M515.5,347.8L512.7,350.9M603.6,287.0L607.0,285.0M602.6,284.0L606.1,281.9M601.7,280.9L605.1,278.8M570.2,372.0L572.4,374.4M573.0,370.6L575.2,373.0M570.7,311.9L574.3,311.3M571.0,309.0L574.6,308.4M571.2,306.2L574.8,305.6" stroke="#8a8f93" stroke-width="0.5" fill="none"/>
<path d="M512,318 Q528,305 545,333" fill="none" stroke="#80858a" stroke-width="4.6"/>
<path d="M512,318 Q528,305 545,333" fill="none" stroke="#aeb2b5" stroke-width="3.4"/>
<path d="M508,338 Q509,322 518,313" fill="none" stroke="#80858a" stroke-width="4.6"/>
<path d="M508,338 Q509,322 518,313" fill="none" stroke="#aeb2b5" stroke-width="3.4"/>
<path d="M516,324 Q531,318 541,341" fill="none" stroke="#80858a" stroke-width="4.6"/>
<path d="M516,324 Q531,318 541,341" fill="none" stroke="#aeb2b5" stroke-width="3.4"/>
<path d="M500,346 Q504,364 512,376" fill="none" stroke="#80858a" stroke-width="4.6"/>
<path d="M500,346 Q504,364 512,376" fill="none" stroke="#aeb2b5" stroke-width="3.4"/>
<path d="M521,400 Q536,391 555,402" fill="none" stroke="#80858a" stroke-width="4.6"/>
<path d="M521,400 Q536,391 555,402" fill="none" stroke="#aeb2b5" stroke-width="3.4"/>
<path d="M530,410 Q546,400 561,406" fill="none" stroke="#80858a" stroke-width="4.6"/>
<path d="M530,410 Q546,400 561,406" fill="none" stroke="#aeb2b5" stroke-width="3.4"/>
<path d="M524,336 Q534,330 544,344" fill="none" stroke="#80858a" stroke-width="4.6"/>
<path d="M524,336 Q534,330 544,344" fill="none" stroke="#aeb2b5" stroke-width="3.4"/>
<path d="M495,360 Q500,380 515,388" fill="none" stroke="#80858a" stroke-width="4.6"/>
<path d="M495,360 Q500,380 515,388" fill="none" stroke="#aeb2b5" stroke-width="3.4"/>
</g>
<g fill="#46484b"><rect x="620.5" y="363.2" width="3.6" height="5.2" transform="rotate(84 622.3 365.8)"/><rect x="608.3" y="366.8" width="3.6" height="5.2" transform="rotate(173 610.1 369.4)"/><rect x="633.8" y="384.4" width="3.6" height="5.2" transform="rotate(62 635.6 387.0)"/><rect x="589.4" y="374.7" width="3.6" height="5.2" transform="rotate(69 591.2 377.3)"/><rect x="618.7" y="370.8" width="3.6" height="5.2" transform="rotate(155 620.5 373.4)"/><rect x="630.9" y="387.8" width="3.6" height="5.2" transform="rotate(45 632.7 390.4)"/><rect x="643.2" y="363.0" width="3.6" height="5.2" transform="rotate(33 645.0 365.6)"/><rect x="643.6" y="372.3" width="3.6" height="5.2" transform="rotate(41 645.4 374.9)"/><rect x="650.3" y="368.0" width="3.6" height="5.2" transform="rotate(121 652.1 370.6)"/><rect x="657.1" y="359.7" width="3.6" height="5.2" transform="rotate(98 658.9 362.3)"/><rect x="623.7" y="391.7" width="3.6" height="5.2" transform="rotate(126 625.5 394.3)"/><rect x="603.8" y="377.6" width="3.6" height="5.2" transform="rotate(111 605.6 380.2)"/><rect x="611.5" y="377.0" width="3.6" height="5.2" transform="rotate(68 613.3 379.6)"/><rect x="642.0" y="362.8" width="3.6" height="5.2" transform="rotate(148 643.8 365.4)"/><rect x="649.5" y="386.0" width="3.6" height="5.2" transform="rotate(44 651.3 388.6)"/><rect x="606.8" y="368.3" width="3.6" height="5.2" transform="rotate(24 608.6 370.9)"/><rect x="599.8" y="363.3" width="3.6" height="5.2" transform="rotate(22 601.6 365.9)"/><rect x="594.9" y="373.6" width="3.6" height="5.2" transform="rotate(54 596.7 376.2)"/><rect x="633.8" y="357.1" width="3.6" height="5.2" transform="rotate(137 635.6 359.7)"/><rect x="609.3" y="386.9" width="3.6" height="5.2" transform="rotate(76 611.1 389.5)"/><rect x="635.4" y="380.9" width="3.6" height="5.2" transform="rotate(126 637.2 383.5)"/><rect x="639.9" y="360.5" width="3.6" height="5.2" transform="rotate(27 641.7 363.1)"/><rect x="611.5" y="391.3" width="3.6" height="5.2" transform="rotate(7 613.3 393.9)"/><rect x="605.1" y="358.9" width="3.6" height="5.2" transform="rotate(79 606.9 361.5)"/><rect x="609.3" y="379.7" width="3.6" height="5.2" transform="rotate(81 611.1 382.3)"/><rect x="632.0" y="369.0" width="3.6" height="5.2" transform="rotate(65 633.8 371.6)"/><rect x="654.6" y="380.0" width="3.6" height="5.2" transform="rotate(18 656.4 382.6)"/><rect x="599.2" y="382.6" width="3.6" height="5.2" transform="rotate(91 601.0 385.2)"/><rect x="639.6" y="381.0" width="3.6" height="5.2" transform="rotate(26 641.4 383.6)"/><rect x="594.4" y="380.8" width="3.6" height="5.2" transform="rotate(147 596.2 383.4)"/><rect x="606.6" y="362.7" width="3.6" height="5.2" transform="rotate(132 608.4 365.3)"/><rect x="606.0" y="365.6" width="3.6" height="5.2" transform="rotate(179 607.8 368.2)"/><rect x="652.6" y="371.9" width="3.6" height="5.2" transform="rotate(152 654.4 374.5)"/><rect x="620.6" y="368.3" width="3.6" height="5.2" transform="rotate(172 622.4 370.9)"/><rect x="593.5" y="354.7" width="3.6" height="5.2" transform="rotate(154 595.3 357.3)"/><rect x="627.8" y="382.5" width="3.6" height="5.2" transform="rotate(179 629.6 385.1)"/><rect x="641.3" y="373.9" width="3.6" height="5.2" transform="rotate(135 643.1 376.5)"/><rect x="608.3" y="389.6" width="3.6" height="5.2" transform="rotate(95 610.1 392.2)"/><rect x="586.6" y="375.5" width="3.6" height="5.2" transform="rotate(179 588.4 378.1)"/><rect x="630.5" y="368.0" width="3.6" height="5.2" transform="rotate(82 632.3 370.6)"/><rect x="630.9" y="374.1" width="3.6" height="5.2" transform="rotate(88 632.7 376.7)"/><rect x="642.1" y="379.7" width="3.6" height="5.2" transform="rotate(129 643.9 382.3)"/><rect x="598.8" y="367.9" width="3.6" height="5.2" transform="rotate(48 600.6 370.5)"/><rect x="601.3" y="384.2" width="3.6" height="5.2" transform="rotate(150 603.1 386.8)"/><rect x="597.3" y="375.7" width="3.6" height="5.2" transform="rotate(128 599.1 378.3)"/><rect x="610.5" y="373.4" width="3.6" height="5.2" transform="rotate(29 612.3 376.0)"/><rect x="632.9" y="382.5" width="3.6" height="5.2" transform="rotate(141 634.7 385.1)"/><rect x="625.9" y="372.1" width="3.6" height="5.2" transform="rotate(0 627.7 374.7)"/><rect x="603.9" y="363.7" width="3.6" height="5.2" transform="rotate(13 605.7 366.3)"/><rect x="634.8" y="371.5" width="3.6" height="5.2" transform="rotate(124 636.6 374.1)"/><rect x="648.5" y="375.1" width="3.6" height="5.2" transform="rotate(77 650.3 377.7)"/><rect x="613.2" y="391.9" width="3.6" height="5.2" transform="rotate(172 615.0 394.5)"/><rect x="595.4" y="384.3" width="3.6" height="5.2" transform="rotate(116 597.2 386.9)"/><rect x="609.6" y="378.1" width="3.6" height="5.2" transform="rotate(49 611.4 380.7)"/><rect x="639.4" y="371.3" width="3.6" height="5.2" transform="rotate(105 641.2 373.9)"/><rect x="654.9" y="381.5" width="3.6" height="5.2" transform="rotate(53 656.7 384.1)"/><rect x="624.6" y="360.7" width="3.6" height="5.2" transform="rotate(85 626.4 363.3)"/><rect x="597.2" y="360.0" width="3.6" height="5.2" transform="rotate(22 599.0 362.6)"/><rect x="615.9" y="368.8" width="3.6" height="5.2" transform="rotate(10 617.7 371.4)"/><rect x="606.3" y="378.9" width="3.6" height="5.2" transform="rotate(152 608.1 381.5)"/><rect x="597.4" y="363.7" width="3.6" height="5.2" transform="rotate(171 599.2 366.3)"/><rect x="602.5" y="386.7" width="3.6" height="5.2" transform="rotate(62 604.3 389.3)"/><rect x="633.4" y="390.3" width="3.6" height="5.2" transform="rotate(112 635.2 392.9)"/><rect x="598.8" y="367.4" width="3.6" height="5.2" transform="rotate(59 600.6 370.0)"/><rect x="619.7" y="374.2" width="3.6" height="5.2" transform="rotate(176 621.5 376.8)"/></g>
<path d="M575.8,360.9 C585,378 600,388 620,388.5 C635,389 648,387 656,384" fill="none" stroke="#46484b" stroke-width="2.4"/>
<path d="M609.4,345.5 C613,365 626,380 644,385 C652,387 658,380 662,368" fill="none" stroke="#46484b" stroke-width="2.4"/>
<path d="M636.4,340.4 C637,352 640,362 646,372 C650,378 656,381 661,378" fill="none" stroke="#46484b" stroke-width="2.2"/>
<path d="M636,339 C640,345 641,352 640,358" fill="none" stroke="#222" stroke-width="2.6"/>
<path d="M577,352 C590,350 600,352 606,349" fill="none" stroke="#46484b" stroke-width="1.6"/>
<circle cx="522.4" cy="348.6" r="4.2" fill="#5f9e55"/><circle cx="522.4" cy="348.6" r="4.2" fill="url(#sg)"/>
<circle cx="524.4" cy="358.6" r="4.2" fill="#5f9e55"/><circle cx="524.4" cy="358.6" r="4.2" fill="url(#sg)"/>
<circle cx="523.4" cy="374.6" r="4.2" fill="#5f9e55"/><circle cx="523.4" cy="374.6" r="4.2" fill="url(#sg)"/>
<circle cx="544.1" cy="354.6" r="4.2" fill="#5f9e55"/><circle cx="544.1" cy="354.6" r="4.2" fill="url(#sg)"/>
<circle cx="554.1" cy="344.5" r="4.2" fill="#5f9e55"/><circle cx="554.1" cy="344.5" r="4.2" fill="url(#sg)"/>
<circle cx="559.5" cy="330.2" r="4.2" fill="#5f9e55"/><circle cx="559.5" cy="330.2" r="4.2" fill="url(#sg)"/>
<circle cx="553.5" cy="365.9" r="4.2" fill="#5f9e55"/><circle cx="553.5" cy="365.9" r="4.2" fill="url(#sg)"/>
<circle cx="560.2" cy="365.2" r="4.2" fill="#5f9e55"/><circle cx="560.2" cy="365.2" r="4.2" fill="url(#sg)"/>
<circle cx="565.2" cy="366.9" r="4.2" fill="#5f9e55"/><circle cx="565.2" cy="366.9" r="4.2" fill="url(#sg)"/>
<circle cx="571.2" cy="367.9" r="4.2" fill="#5f9e55"/><circle cx="571.2" cy="367.9" r="4.2" fill="url(#sg)"/>
<circle cx="582.5" cy="379.6" r="4.2" fill="#5f9e55"/><circle cx="582.5" cy="379.6" r="4.2" fill="url(#sg)"/>
<circle cx="589.5" cy="365.2" r="4.2" fill="#5f9e55"/><circle cx="589.5" cy="365.2" r="4.2" fill="url(#sg)"/>
<circle cx="605.2" cy="328.5" r="4.2" fill="#5f9e55"/><circle cx="605.2" cy="328.5" r="4.2" fill="url(#sg)"/>
<circle cx="606.2" cy="293.5" r="4.2" fill="#5f9e55"/><circle cx="606.2" cy="293.5" r="4.2" fill="url(#sg)"/>
<circle cx="610.9" cy="291.1" r="4.2" fill="#5f9e55"/><circle cx="610.9" cy="291.1" r="4.2" fill="url(#sg)"/>
<circle cx="592.5" cy="392" r="4.2" fill="#5f9e55"/><circle cx="592.5" cy="392" r="4.2" fill="url(#sg)"/>
<circle cx="610.2" cy="395.3" r="4.2" fill="#5f9e55"/><circle cx="610.2" cy="395.3" r="4.2" fill="url(#sg)"/>
<circle cx="621.3" cy="399.3" r="4.2" fill="#5f9e55"/><circle cx="621.3" cy="399.3" r="4.2" fill="url(#sg)"/>
<circle cx="632.6" cy="392" r="4.2" fill="#5f9e55"/><circle cx="632.6" cy="392" r="4.2" fill="url(#sg)"/>
<circle cx="591.9" cy="409.3" r="4.2" fill="#5f9e55"/><circle cx="591.9" cy="409.3" r="4.2" fill="url(#sg)"/>
<circle cx="601.2" cy="408.7" r="4.2" fill="#5f9e55"/><circle cx="601.2" cy="408.7" r="4.2" fill="url(#sg)"/>
<circle cx="597.9" cy="415.3" r="4.2" fill="#5f9e55"/><circle cx="597.9" cy="415.3" r="4.2" fill="url(#sg)"/>
<circle cx="606.9" cy="418" r="4.2" fill="#5f9e55"/><circle cx="606.9" cy="418" r="4.2" fill="url(#sg)"/>
<circle cx="572.8" cy="401" r="4.2" fill="#5f9e55"/><circle cx="572.8" cy="401" r="4.2" fill="url(#sg)"/>
<circle cx="608.5" cy="296" r="4.2" fill="#5f9e55"/><circle cx="608.5" cy="296" r="4.2" fill="url(#sg)"/>
<circle cx="626.9" cy="319.5" r="4.2" fill="#17a36c"/><circle cx="626.9" cy="319.5" r="4.2" fill="url(#sg)"/>
<circle cx="620.9" cy="347.6" r="4.2" fill="#17a36c"/><circle cx="620.9" cy="347.6" r="4.2" fill="url(#sg)"/>
<circle cx="653" cy="384.3" r="4.2" fill="#17a36c"/><circle cx="653" cy="384.3" r="4.2" fill="url(#sg)"/>
<circle cx="615.9" cy="339.2" r="4.2" fill="#d8843a"/><circle cx="615.9" cy="339.2" r="4.2" fill="url(#sg)"/>
<circle cx="615.2" cy="371.3" r="4.2" fill="#d8843a"/><circle cx="615.2" cy="371.3" r="4.2" fill="url(#sg)"/>
<circle cx="650.6" cy="305.8" r="4.2" fill="#d9a22c"/><circle cx="650.6" cy="305.8" r="4.2" fill="url(#sg)"/>
<circle cx="551.8" cy="351.2" r="4.2" fill="#5a5ea5"/><circle cx="551.8" cy="351.2" r="4.2" fill="url(#sg)"/>
<circle cx="594.5" cy="359.2" r="4.2" fill="#5a5ea5"/><circle cx="594.5" cy="359.2" r="4.2" fill="url(#sg)"/>
<circle cx="629.6" cy="408.7" r="4.2" fill="#5a5ea5"/><circle cx="629.6" cy="408.7" r="4.2" fill="url(#sg)"/>
<circle cx="620.2" cy="405.3" r="4.2" fill="#5a5ea5"/><circle cx="620.2" cy="405.3" r="4.2" fill="url(#sg)"/>
<circle cx="576.2" cy="371.9" r="4.2" fill="#5a5ea5"/><circle cx="576.2" cy="371.9" r="4.2" fill="url(#sg)"/>
<circle cx="580.2" cy="362.6" r="4.2" fill="#d4505a"/><circle cx="580.2" cy="362.6" r="4.2" fill="url(#sg)"/>
<circle cx="637" cy="363.6" r="4.2" fill="#4197c0"/><circle cx="637" cy="363.6" r="4.2" fill="url(#sg)"/>
<rect x="0" y="468.1" width="685" height="30.1" fill="#dfe0e2"/>
<text x="11.2" y="492.6" font-size="26" font-weight="bold" fill="#231f20">d</text>
<text x="342.2" y="489.1" font-size="16" text-anchor="middle" fill="#404040">Biochemical Characterization</text>
<rect x="51.7" y="507.8" width="170.8" height="171.1" fill="#f2f2f2" stroke="#a0a4a8" stroke-width="1"/>
<path d="M51.7,507.3 L51.7,678.9 L223.0,678.9" fill="none" stroke="#3b3b3b" stroke-width="1.5"/>
<line x1="44.2" y1="678.9" x2="51.7" y2="678.9" stroke="#3b3b3b" stroke-width="1.5"/>
<text x="42.5" y="682.2" font-size="9.3" text-anchor="end" fill="#4a4a4a">98.4</text>
<line x1="44.2" y1="657.5" x2="51.7" y2="657.5" stroke="#3b3b3b" stroke-width="1.5"/>
<text x="42.5" y="660.9" font-size="9.3" text-anchor="end" fill="#4a4a4a">98.6</text>
<line x1="44.2" y1="636.1" x2="51.7" y2="636.1" stroke="#3b3b3b" stroke-width="1.5"/>
<text x="42.5" y="639.5" font-size="9.3" text-anchor="end" fill="#4a4a4a">98.8</text>
<line x1="44.2" y1="614.7" x2="51.7" y2="614.7" stroke="#3b3b3b" stroke-width="1.5"/>
<text x="42.5" y="618.1" font-size="9.3" text-anchor="end" fill="#4a4a4a">99.0</text>
<line x1="44.2" y1="593.4" x2="51.7" y2="593.4" stroke="#3b3b3b" stroke-width="1.5"/>
<text x="42.5" y="596.7" font-size="9.3" text-anchor="end" fill="#4a4a4a">99.2</text>
<line x1="44.2" y1="572.0" x2="51.7" y2="572.0" stroke="#3b3b3b" stroke-width="1.5"/>
<text x="42.5" y="575.3" font-size="9.3" text-anchor="end" fill="#4a4a4a">99.4</text>
<line x1="44.2" y1="550.6" x2="51.7" y2="550.6" stroke="#3b3b3b" stroke-width="1.5"/>
<text x="42.5" y="553.9" font-size="9.3" text-anchor="end" fill="#4a4a4a">99.6</text>
<line x1="44.2" y1="529.2" x2="51.7" y2="529.2" stroke="#3b3b3b" stroke-width="1.5"/>
<text x="42.5" y="532.5" font-size="9.3" text-anchor="end" fill="#4a4a4a">99.8</text>
<line x1="44.2" y1="507.8" x2="51.7" y2="507.8" stroke="#3b3b3b" stroke-width="1.5"/>
<text x="42.5" y="511.1" font-size="9.3" text-anchor="end" fill="#4a4a4a">100.0</text>
<line x1="80.2" y1="678.9" x2="80.2" y2="685.9" stroke="#3b3b3b" stroke-width="1.5"/>
<text transform="translate(85.8,690.2) rotate(-90)" font-size="16" text-anchor="end" fill="#404040">RSGA</text>
<line x1="108.7" y1="678.9" x2="108.7" y2="685.9" stroke="#3b3b3b" stroke-width="1.5"/>
<text transform="translate(114.3,690.2) rotate(-90)" font-size="16" text-anchor="end" fill="#404040">5-270</text>
<line x1="137.2" y1="678.9" x2="137.2" y2="685.9" stroke="#3b3b3b" stroke-width="1.5"/>
<text transform="translate(142.8,690.2) rotate(-90)" font-size="16" text-anchor="end" fill="#404040">7-47</text>
<line x1="165.7" y1="678.9" x2="165.7" y2="685.9" stroke="#3b3b3b" stroke-width="1.5"/>
<text transform="translate(171.3,690.2) rotate(-90)" font-size="16" text-anchor="end" fill="#404040">8-64</text>
<line x1="194.2" y1="678.9" x2="194.2" y2="685.9" stroke="#3b3b3b" stroke-width="1.5"/>
<text transform="translate(199.8,690.2) rotate(-90)" font-size="16" text-anchor="end" fill="#404040">10-92</text>
<path d="M80.2,661.8 L108.7,539.9 L137.2,539.9 L165.7,539.9 L194.2,518.5" fill="none" stroke="#3b3b3b" stroke-width="1.7"/>
<circle cx="80.2" cy="661.8" r="7.5" fill="#e0a82c" stroke="#363636" stroke-width="1.6"/>
<circle cx="108.7" cy="539.9" r="7.5" fill="#6aa052" stroke="#363636" stroke-width="1.6"/>
<circle cx="137.2" cy="539.9" r="7.5" fill="#17a36c" stroke="#363636" stroke-width="1.6"/>
<circle cx="165.7" cy="539.9" r="7.5" fill="#4197c0" stroke="#363636" stroke-width="1.6"/>
<circle cx="194.2" cy="518.5" r="7.5" fill="#5a5ea5" stroke="#363636" stroke-width="1.6"/>
<text transform="translate(19.2,591.6) rotate(-90)" font-size="16" text-anchor="middle" fill="#404040">Fidelity (%)</text>
<rect x="280.4" y="507.8" width="170.8" height="171.1" fill="#f2f2f2" stroke="#a0a4a8" stroke-width="1"/>
<line x1="280.4" y1="661.8" x2="451.2" y2="661.8" stroke="#9a9a9a" stroke-width="1" stroke-dasharray="1.2 1.4"/>
<path d="M280.4,507.3 L280.4,678.9 L451.7,678.9" fill="none" stroke="#3b3b3b" stroke-width="1.5"/>
<line x1="272.9" y1="678.9" x2="280.4" y2="678.9" stroke="#3b3b3b" stroke-width="1.5"/>
<text x="270.2" y="682.7" font-size="10.6" text-anchor="end" fill="#a4a4a4">-10</text>
<line x1="272.9" y1="661.8" x2="280.4" y2="661.8" stroke="#3b3b3b" stroke-width="1.5"/>
<text x="270.2" y="665.6" font-size="10.6" text-anchor="end" fill="#4a4a4a">0</text>
<line x1="272.9" y1="644.7" x2="280.4" y2="644.7" stroke="#3b3b3b" stroke-width="1.5"/>
<text x="270.2" y="648.5" font-size="10.6" text-anchor="end" fill="#4a4a4a">10</text>
<line x1="272.9" y1="627.6" x2="280.4" y2="627.6" stroke="#3b3b3b" stroke-width="1.5"/>
<text x="270.2" y="631.4" font-size="10.6" text-anchor="end" fill="#4a4a4a">20</text>
<line x1="272.9" y1="610.5" x2="280.4" y2="610.5" stroke="#3b3b3b" stroke-width="1.5"/>
<text x="270.2" y="614.3" font-size="10.6" text-anchor="end" fill="#4a4a4a">30</text>
<line x1="272.9" y1="593.4" x2="280.4" y2="593.4" stroke="#3b3b3b" stroke-width="1.5"/>
<text x="270.2" y="597.2" font-size="10.6" text-anchor="end" fill="#4a4a4a">40</text>
<line x1="272.9" y1="576.2" x2="280.4" y2="576.2" stroke="#3b3b3b" stroke-width="1.5"/>
<text x="270.2" y="580.1" font-size="10.6" text-anchor="end" fill="#4a4a4a">50</text>
<line x1="272.9" y1="559.1" x2="280.4" y2="559.1" stroke="#3b3b3b" stroke-width="1.5"/>
<text x="270.2" y="562.9" font-size="10.6" text-anchor="end" fill="#4a4a4a">60</text>
<line x1="272.9" y1="542.0" x2="280.4" y2="542.0" stroke="#3b3b3b" stroke-width="1.5"/>
<text x="270.2" y="545.8" font-size="10.6" text-anchor="end" fill="#4a4a4a">70</text>
<line x1="272.9" y1="524.9" x2="280.4" y2="524.9" stroke="#3b3b3b" stroke-width="1.5"/>
<text x="270.2" y="528.7" font-size="10.6" text-anchor="end" fill="#4a4a4a">80</text>
<line x1="272.9" y1="507.8" x2="280.4" y2="507.8" stroke="#3b3b3b" stroke-width="1.5"/>
<text x="270.2" y="511.6" font-size="10.6" text-anchor="end" fill="#4a4a4a">90</text>
<line x1="308.9" y1="678.9" x2="308.9" y2="685.9" stroke="#3b3b3b" stroke-width="1.5"/>
<text transform="translate(314.5,690.2) rotate(-90)" font-size="16" text-anchor="end" fill="#404040">RSGA</text>
<line x1="337.4" y1="678.9" x2="337.4" y2="685.9" stroke="#3b3b3b" stroke-width="1.5"/>
<text transform="translate(343.0,690.2) rotate(-90)" font-size="16" text-anchor="end" fill="#404040">5-270</text>
<line x1="365.9" y1="678.9" x2="365.9" y2="685.9" stroke="#3b3b3b" stroke-width="1.5"/>
<text transform="translate(371.5,690.2) rotate(-90)" font-size="16" text-anchor="end" fill="#404040">7-47</text>
<line x1="394.4" y1="678.9" x2="394.4" y2="685.9" stroke="#3b3b3b" stroke-width="1.5"/>
<text transform="translate(400.0,690.2) rotate(-90)" font-size="16" text-anchor="end" fill="#404040">8-64</text>
<line x1="422.9" y1="678.9" x2="422.9" y2="685.9" stroke="#3b3b3b" stroke-width="1.5"/>
<text transform="translate(428.5,690.2) rotate(-90)" font-size="16" text-anchor="end" fill="#404040">10-92</text>
<path d="M308.9,657.9 L337.4,657.7 L365.9,642.8 L394.4,638.2 L422.9,522.3" fill="none" stroke="#3b3b3b" stroke-width="1.7"/>
<circle cx="308.9" cy="657.9" r="7.5" fill="#e0a82c" stroke="#363636" stroke-width="1.6"/>
<circle cx="337.4" cy="657.7" r="7.5" fill="#6aa052" stroke="#363636" stroke-width="1.6"/>
<circle cx="365.9" cy="642.8" r="7.5" fill="#17a36c" stroke="#363636" stroke-width="1.6"/>
<circle cx="394.4" cy="638.2" r="7.5" fill="#4197c0" stroke="#363636" stroke-width="1.6"/>
<circle cx="422.9" cy="522.3" r="7.5" fill="#5a5ea5" stroke="#363636" stroke-width="1.6"/>
<text transform="translate(247.8,594.5) rotate(-90)" font-size="16" text-anchor="middle" fill="#404040">TNA Synthesis (nt/min)</text>
<rect x="513.4" y="507.8" width="170.8" height="171.1" fill="#f2f2f2" stroke="#a0a4a8" stroke-width="1"/>
<path d="M513.4,507.3 L513.4,678.9 L684.7,678.9" fill="none" stroke="#3b3b3b" stroke-width="1.5"/>
<line x1="505.9" y1="678.9" x2="513.4" y2="678.9" stroke="#3b3b3b" stroke-width="1.5"/>
<text x="503.2" y="682.7" font-size="10.6" text-anchor="end" fill="#4a4a4a">0</text>
<line x1="505.9" y1="663.3" x2="513.4" y2="663.3" stroke="#3b3b3b" stroke-width="1.5"/>
<text x="503.2" y="667.2" font-size="10.6" text-anchor="end" fill="#4a4a4a">10</text>
<line x1="505.9" y1="647.8" x2="513.4" y2="647.8" stroke="#3b3b3b" stroke-width="1.5"/>
<text x="503.2" y="651.6" font-size="10.6" text-anchor="end" fill="#4a4a4a">20</text>
<line x1="505.9" y1="632.2" x2="513.4" y2="632.2" stroke="#3b3b3b" stroke-width="1.5"/>
<text x="503.2" y="636.1" font-size="10.6" text-anchor="end" fill="#4a4a4a">30</text>
<line x1="505.9" y1="616.7" x2="513.4" y2="616.7" stroke="#3b3b3b" stroke-width="1.5"/>
<text x="503.2" y="620.5" font-size="10.6" text-anchor="end" fill="#4a4a4a">40</text>
<line x1="505.9" y1="601.1" x2="513.4" y2="601.1" stroke="#3b3b3b" stroke-width="1.5"/>
<text x="503.2" y="604.9" font-size="10.6" text-anchor="end" fill="#4a4a4a">50</text>
<line x1="505.9" y1="585.6" x2="513.4" y2="585.6" stroke="#3b3b3b" stroke-width="1.5"/>
<text x="503.2" y="589.4" font-size="10.6" text-anchor="end" fill="#4a4a4a">60</text>
<line x1="505.9" y1="570.0" x2="513.4" y2="570.0" stroke="#3b3b3b" stroke-width="1.5"/>
<text x="503.2" y="573.8" font-size="10.6" text-anchor="end" fill="#4a4a4a">70</text>
<line x1="505.9" y1="554.5" x2="513.4" y2="554.5" stroke="#3b3b3b" stroke-width="1.5"/>
<text x="503.2" y="558.3" font-size="10.6" text-anchor="end" fill="#4a4a4a">80</text>
<line x1="505.9" y1="538.9" x2="513.4" y2="538.9" stroke="#3b3b3b" stroke-width="1.5"/>
<text x="503.2" y="542.7" font-size="10.6" text-anchor="end" fill="#4a4a4a">90</text>
<line x1="505.9" y1="523.4" x2="513.4" y2="523.4" stroke="#3b3b3b" stroke-width="1.5"/>
<text x="503.2" y="527.2" font-size="10.6" text-anchor="end" fill="#4a4a4a">100</text>
<line x1="505.9" y1="507.8" x2="513.4" y2="507.8" stroke="#3b3b3b" stroke-width="1.5"/>
<text x="503.2" y="511.6" font-size="10.6" text-anchor="end" fill="#a4a4a4">110</text>
<line x1="541.9" y1="678.9" x2="541.9" y2="685.9" stroke="#3b3b3b" stroke-width="1.5"/>
<text transform="translate(547.5,690.2) rotate(-90)" font-size="16" text-anchor="end" fill="#404040">RSGA</text>
<line x1="570.4" y1="678.9" x2="570.4" y2="685.9" stroke="#3b3b3b" stroke-width="1.5"/>
<text transform="translate(576.0,690.2) rotate(-90)" font-size="16" text-anchor="end" fill="#404040">5-270</text>
<line x1="598.9" y1="678.9" x2="598.9" y2="685.9" stroke="#3b3b3b" stroke-width="1.5"/>
<text transform="translate(604.5,690.2) rotate(-90)" font-size="16" text-anchor="end" fill="#404040">7-47</text>
<line x1="627.4" y1="678.9" x2="627.4" y2="685.9" stroke="#3b3b3b" stroke-width="1.5"/>
<text transform="translate(633.0,690.2) rotate(-90)" font-size="16" text-anchor="end" fill="#404040">8-64</text>
<line x1="655.9" y1="678.9" x2="655.9" y2="685.9" stroke="#3b3b3b" stroke-width="1.5"/>
<text transform="translate(661.5,690.2) rotate(-90)" font-size="16" text-anchor="end" fill="#404040">10-92</text>
<path d="M541.9,523.4 L570.4,523.4 L598.9,523.4 L627.4,523.4 L655.9,523.4" fill="none" stroke="#3b3b3b" stroke-width="1.7"/>
<circle cx="541.9" cy="523.4" r="7.5" fill="#e0a82c" stroke="#363636" stroke-width="1.6"/>
<circle cx="570.4" cy="523.4" r="7.5" fill="#6aa052" stroke="#363636" stroke-width="1.6"/>
<circle cx="598.9" cy="523.4" r="7.5" fill="#17a36c" stroke="#363636" stroke-width="1.6"/>
<circle cx="627.4" cy="523.4" r="7.5" fill="#4197c0" stroke="#363636" stroke-width="1.6"/>
<circle cx="655.9" cy="523.4" r="7.5" fill="#5a5ea5" stroke="#363636" stroke-width="1.6"/>
<text transform="translate(480.8,594.6) rotate(-90)" font-size="16" text-anchor="middle" fill="#404040">Rel. Thermostability (%)</text></svg></body></html>
